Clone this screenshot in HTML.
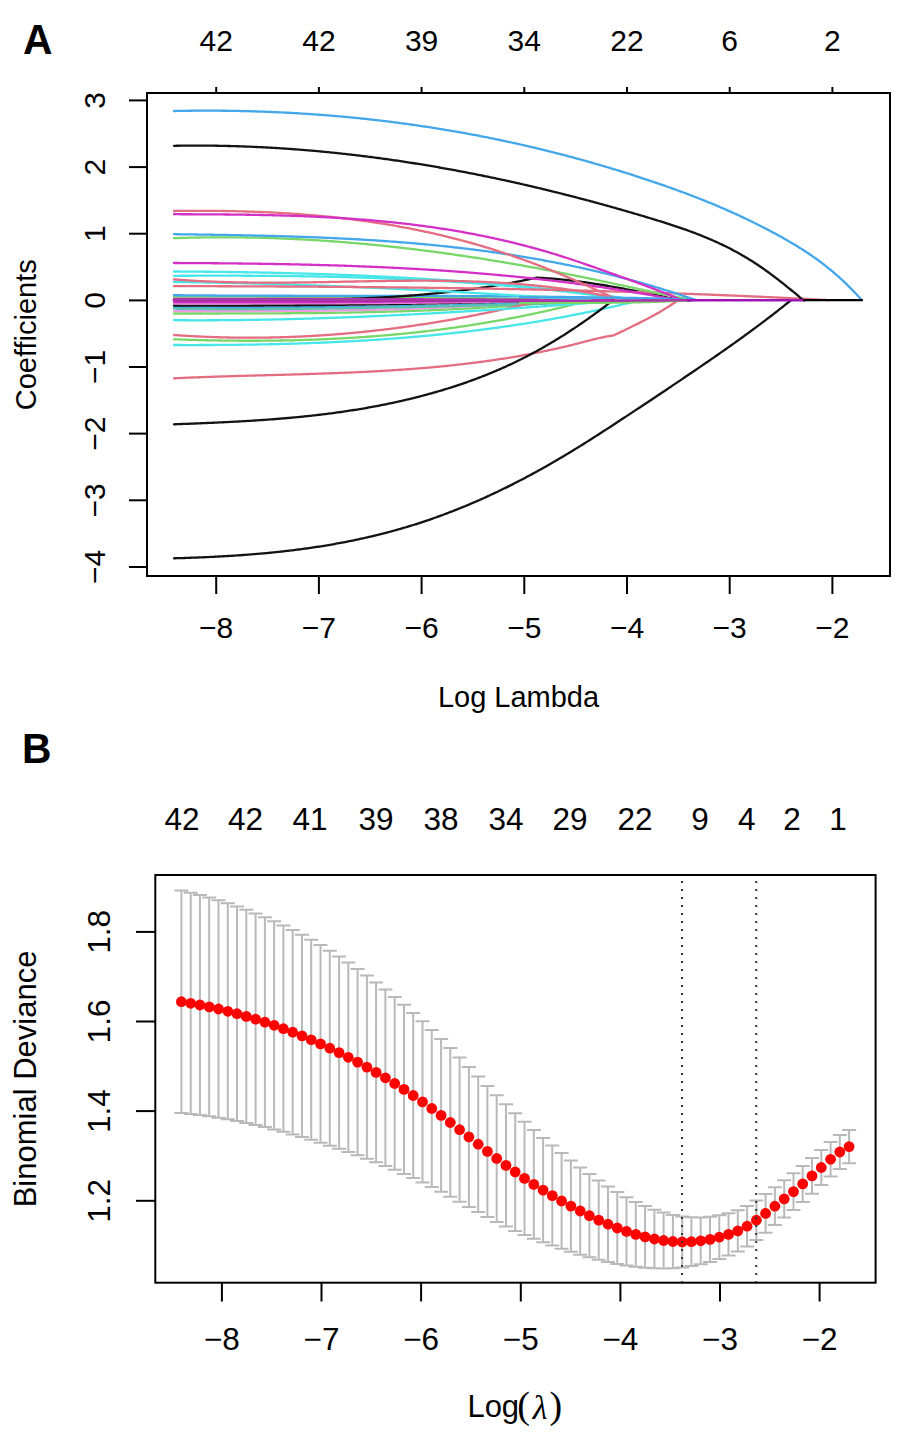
<!DOCTYPE html>
<html><head><meta charset="utf-8"><style>
html,body{margin:0;padding:0;background:#fff;}
svg{display:block;}
.t{font-family:"Liberation Sans",sans-serif;font-size:29px;fill:#000;}
.ta{font-family:"Liberation Sans",sans-serif;font-size:30px;fill:#000;}
.tb{font-family:"Liberation Sans",sans-serif;font-size:31.5px;fill:#000;}
.tb2{font-family:"Liberation Sans",sans-serif;font-size:31px;fill:#000;}
.sf{font-family:"Liberation Serif",serif;}
.big{font-family:"Liberation Sans",sans-serif;font-size:42.5px;font-weight:bold;fill:#000;}
</style></head><body>
<svg width="900" height="1435" viewBox="0 0 900 1435">
<rect width="900" height="1435" fill="#fff"/>
<g>
<g fill="none" stroke-linecap="round" stroke-linejoin="round">
<path d="M174.0,313.50 L175.5,313.50 L177.0,313.50 L178.5,313.50 L180.0,313.50 L181.5,313.50 L183.0,313.49 L184.5,313.49 L186.0,313.49 L187.5,313.49 L189.0,313.49 L190.5,313.49 L192.0,313.49 L193.5,313.49 L195.0,313.49 L196.5,313.49 L198.0,313.49 L199.5,313.49 L201.0,313.49 L202.5,313.49 L204.0,313.49 L205.5,313.49 L207.0,313.48 L208.5,313.48 L210.0,313.48 L211.5,313.48 L213.0,313.48 L214.5,313.48 L216.0,313.48 L217.5,313.48 L219.0,313.48 L220.5,313.47 L222.0,313.47 L223.5,313.47 L225.0,313.47 L226.5,313.47 L228.0,313.47 L229.5,313.46 L231.0,313.46 L232.5,313.46 L234.0,313.46 L235.5,313.46 L237.0,313.45 L238.5,313.45 L240.0,313.45 L241.5,313.44 L243.0,313.44 L244.5,313.44 L246.0,313.43 L247.5,313.43 L249.0,313.43 L250.5,313.42 L252.0,313.42 L253.5,313.41 L255.0,313.41 L256.5,313.41 L258.0,313.40 L259.5,313.40 L261.0,313.39 L262.5,313.38 L264.0,313.38 L265.5,313.37 L267.0,313.37 L268.5,313.36 L270.0,313.35 L271.5,313.35 L273.0,313.34 L274.5,313.33 L276.0,313.32 L277.5,313.31 L279.0,313.31 L280.5,313.30 L282.0,313.29 L283.5,313.28 L285.0,313.27 L286.5,313.26 L288.0,313.25 L289.5,313.24 L291.0,313.23 L292.5,313.22 L294.0,313.21 L295.5,313.20 L297.0,313.18 L298.5,313.17 L300.0,313.16 L301.5,313.15 L303.0,313.13 L304.5,313.12 L306.0,313.11 L307.5,313.09 L309.0,313.08 L310.5,313.06 L312.0,313.05 L313.5,313.03 L315.0,313.01 L316.5,313.00 L318.0,312.98 L319.5,312.96 L321.0,312.95 L322.5,312.93 L324.0,312.91 L325.5,312.89 L327.0,312.87 L328.5,312.85 L330.0,312.83 L331.5,312.81 L333.0,312.79 L334.5,312.77 L336.0,312.74 L337.5,312.72 L339.0,312.70 L340.5,312.68 L342.0,312.65 L343.5,312.63 L345.0,312.60 L346.5,312.58 L348.0,312.55 L349.5,312.52 L351.0,312.50 L352.5,312.47 L354.0,312.44 L355.5,312.41 L357.0,312.39 L358.5,312.36 L360.0,312.33 L361.5,312.30 L363.0,312.26 L364.5,312.23 L366.0,312.20 L367.5,312.17 L369.0,312.14 L370.5,312.10 L372.0,312.07 L373.5,312.03 L375.0,312.00 L376.5,311.96 L378.0,311.92 L379.5,311.89 L381.0,311.85 L382.5,311.81 L384.0,311.77 L385.5,311.73 L387.0,311.69 L388.5,311.65 L390.0,311.61 L391.5,311.57 L393.0,311.53 L394.5,311.48 L396.0,311.44 L397.5,311.39 L399.0,311.35 L400.5,311.30 L402.0,311.26 L403.5,311.21 L405.0,311.16 L406.5,311.11 L408.0,311.06 L409.5,311.01 L411.0,310.96 L412.5,310.91 L414.0,310.86 L415.5,310.81 L417.0,310.75 L418.5,310.70 L420.0,310.64 L421.5,310.59 L423.0,310.53 L424.5,310.47 L426.0,310.42 L427.5,310.36 L429.0,310.30 L430.5,310.24 L432.0,310.18 L433.5,310.12 L435.0,310.05 L436.5,309.99 L438.0,309.93 L439.5,309.86 L441.0,309.80 L442.5,309.73 L444.0,309.66 L445.5,309.59 L447.0,309.53 L448.5,309.46 L450.0,309.39 L451.5,309.32 L453.0,309.24 L454.5,309.17 L456.0,309.10 L457.5,309.02 L459.0,308.95 L460.5,308.87 L462.0,308.79 L463.5,308.72 L465.0,308.64 L466.5,308.56 L468.0,308.48 L469.5,308.40 L471.0,308.32 L472.5,308.23 L474.0,308.15 L475.5,308.06 L477.0,307.98 L478.5,307.89 L480.0,307.80 L481.5,307.72 L483.0,307.63 L484.5,307.54 L486.0,307.44 L487.5,307.35 L489.0,307.26 L490.5,307.16 L492.0,307.07 L493.5,306.97 L495.0,306.88 L496.5,306.78 L498.0,306.68 L499.5,306.58 L501.0,306.48 L502.5,306.38 L504.0,306.28 L505.5,306.17 L507.0,306.07 L508.5,305.96 L510.0,305.85 L511.5,305.75 L513.0,305.64 L514.5,305.53 L516.0,305.42 L517.5,305.31 L519.0,305.19 L520.5,305.08 L522.0,304.96 L523.5,304.85 L525.0,304.73 L526.5,304.61 L528.0,304.49 L529.5,304.37 L531.0,304.25 L532.5,304.13 L534.0,304.01 L535.5,303.88 L537.0,303.76 L538.5,303.63 L540.0,303.50 L541.5,303.37 L543.0,303.24 L544.5,303.11 L546.0,302.98 L547.5,302.85 L549.0,302.71 L550.5,302.58 L552.0,302.44 L553.5,302.30 L555.0,302.16 L556.5,302.02 L558.0,301.88 L559.5,301.74 L561.0,301.60 L562.5,301.45 L564.0,301.31 L565.5,301.16 L567.0,301.01 L568.5,300.86 L570.0,300.71 L571.5,300.56 L573.0,300.40 L574.5,300.25 L575.0,300.20" stroke="#79D769" stroke-width="2.30"/>
<path d="M174.0,311.20 L175.5,311.20 L177.0,311.19 L178.5,311.19 L180.0,311.19 L181.5,311.18 L183.0,311.18 L184.5,311.18 L186.0,311.18 L187.5,311.17 L189.0,311.17 L190.5,311.17 L192.0,311.17 L193.5,311.16 L195.0,311.16 L196.5,311.16 L198.0,311.16 L199.5,311.16 L201.0,311.15 L202.5,311.15 L204.0,311.15 L205.5,311.15 L207.0,311.15 L208.5,311.14 L210.0,311.14 L211.5,311.14 L213.0,311.14 L214.5,311.14 L216.0,311.14 L217.5,311.13 L219.0,311.13 L220.5,311.13 L222.0,311.13 L223.5,311.13 L225.0,311.12 L226.5,311.12 L228.0,311.12 L229.5,311.12 L231.0,311.12 L232.5,311.11 L234.0,311.11 L235.5,311.11 L237.0,311.11 L238.5,311.10 L240.0,311.10 L241.5,311.10 L243.0,311.09 L244.5,311.09 L246.0,311.09 L247.5,311.08 L249.0,311.08 L250.5,311.08 L252.0,311.07 L253.5,311.07 L255.0,311.07 L256.5,311.06 L258.0,311.06 L259.5,311.05 L261.0,311.05 L262.5,311.04 L264.0,311.04 L265.5,311.03 L267.0,311.03 L268.5,311.02 L270.0,311.01 L271.5,311.01 L273.0,311.00 L274.5,311.00 L276.0,310.99 L277.5,310.98 L279.0,310.97 L280.5,310.97 L282.0,310.96 L283.5,310.95 L285.0,310.94 L286.5,310.93 L288.0,310.92 L289.5,310.92 L291.0,310.91 L292.5,310.90 L294.0,310.89 L295.5,310.88 L297.0,310.87 L298.5,310.85 L300.0,310.84 L301.5,310.83 L303.0,310.82 L304.5,310.81 L306.0,310.79 L307.5,310.78 L309.0,310.77 L310.5,310.75 L312.0,310.74 L313.5,310.73 L315.0,310.71 L316.5,310.70 L318.0,310.68 L319.5,310.67 L321.0,310.65 L322.5,310.63 L324.0,310.61 L325.5,310.60 L327.0,310.58 L328.5,310.56 L330.0,310.54 L331.5,310.52 L333.0,310.50 L334.5,310.48 L336.0,310.46 L337.5,310.44 L339.0,310.42 L340.5,310.40 L342.0,310.38 L343.5,310.35 L345.0,310.33 L346.5,310.31 L348.0,310.28 L349.5,310.26 L351.0,310.23 L352.5,310.20 L354.0,310.18 L355.5,310.15 L357.0,310.12 L358.5,310.10 L360.0,310.07 L361.5,310.04 L363.0,310.01 L364.5,309.98 L366.0,309.95 L367.5,309.92 L369.0,309.88 L370.5,309.85 L372.0,309.82 L373.5,309.79 L375.0,309.75 L376.5,309.72 L378.0,309.68 L379.5,309.64 L381.0,309.61 L382.5,309.57 L384.0,309.53 L385.5,309.49 L387.0,309.46 L388.5,309.42 L390.0,309.37 L391.5,309.33 L393.0,309.29 L394.5,309.25 L396.0,309.21 L397.5,309.16 L399.0,309.12 L400.5,309.07 L402.0,309.03 L403.5,308.98 L405.0,308.93 L406.5,308.89 L408.0,308.84 L409.5,308.79 L411.0,308.74 L412.5,308.69 L414.0,308.63 L415.5,308.58 L417.0,308.53 L418.5,308.48 L420.0,308.42 L421.5,308.37 L423.0,308.31 L424.5,308.25 L426.0,308.20 L427.5,308.14 L429.0,308.08 L430.5,308.02 L432.0,307.96 L433.5,307.90 L435.0,307.83 L436.5,307.77 L438.0,307.71 L439.5,307.64 L441.0,307.57 L442.5,307.51 L444.0,307.44 L445.5,307.37 L447.0,307.30 L448.5,307.23 L450.0,307.16 L451.5,307.09 L453.0,307.02 L454.5,306.94 L456.0,306.87 L457.5,306.79 L459.0,306.72 L460.5,306.64 L462.0,306.56 L463.5,306.48 L465.0,306.40 L466.5,306.32 L468.0,306.24 L469.5,306.16 L471.0,306.08 L472.5,305.99 L474.0,305.91 L475.5,305.82 L477.0,305.73 L478.5,305.64 L480.0,305.55 L481.5,305.46 L483.0,305.37 L484.5,305.28 L486.0,305.19 L487.5,305.09 L489.0,305.00 L490.5,304.90 L492.0,304.80 L493.5,304.71 L495.0,304.61 L496.5,304.51 L498.0,304.40 L499.5,304.30 L501.0,304.20 L502.5,304.09 L504.0,303.99 L505.5,303.88 L507.0,303.77 L508.5,303.66 L510.0,303.55 L511.5,303.44 L513.0,303.33 L514.5,303.22 L516.0,303.10 L517.5,302.99 L519.0,302.87 L520.5,302.75 L522.0,302.63 L523.5,302.51 L525.0,302.39 L526.5,302.27 L528.0,302.15 L529.5,302.02 L531.0,301.90 L532.5,301.77 L534.0,301.64 L535.5,301.51 L537.0,301.38 L538.5,301.25 L540.0,301.12 L541.5,300.98 L543.0,300.85 L544.5,300.71 L546.0,300.57 L547.5,300.44 L549.0,300.30 L550.0,300.20" stroke="#E99CDE" stroke-width="2.30"/>
<path d="M174.0,307.20 L175.5,307.21 L177.0,307.21 L178.5,307.22 L180.0,307.23 L181.5,307.23 L183.0,307.24 L184.5,307.25 L186.0,307.25 L187.5,307.26 L189.0,307.27 L190.5,307.27 L192.0,307.28 L193.5,307.28 L195.0,307.29 L196.5,307.29 L198.0,307.30 L199.5,307.30 L201.0,307.31 L202.5,307.31 L204.0,307.32 L205.5,307.32 L207.0,307.33 L208.5,307.33 L210.0,307.33 L211.5,307.34 L213.0,307.34 L214.5,307.35 L216.0,307.35 L217.5,307.35 L219.0,307.36 L220.5,307.36 L222.0,307.36 L223.5,307.36 L225.0,307.37 L226.5,307.37 L228.0,307.37 L229.5,307.37 L231.0,307.37 L232.5,307.38 L234.0,307.38 L235.5,307.38 L237.0,307.38 L238.5,307.38 L240.0,307.38 L241.5,307.38 L243.0,307.38 L244.5,307.38 L246.0,307.38 L247.5,307.38 L249.0,307.38 L250.5,307.38 L252.0,307.38 L253.5,307.38 L255.0,307.38 L256.5,307.38 L258.0,307.38 L259.5,307.38 L261.0,307.37 L262.5,307.37 L264.0,307.37 L265.5,307.37 L267.0,307.37 L268.5,307.36 L270.0,307.36 L271.5,307.36 L273.0,307.35 L274.5,307.35 L276.0,307.35 L277.5,307.34 L279.0,307.34 L280.5,307.33 L282.0,307.33 L283.5,307.33 L285.0,307.32 L286.5,307.32 L288.0,307.31 L289.5,307.30 L291.0,307.30 L292.5,307.29 L294.0,307.29 L295.5,307.28 L297.0,307.27 L298.5,307.27 L300.0,307.26 L301.5,307.25 L303.0,307.25 L304.5,307.24 L306.0,307.23 L307.5,307.22 L309.0,307.21 L310.5,307.21 L312.0,307.20 L313.5,307.19 L315.0,307.18 L316.5,307.17 L318.0,307.16 L319.5,307.15 L321.0,307.14 L322.5,307.13 L324.0,307.12 L325.5,307.11 L327.0,307.10 L328.5,307.09 L330.0,307.08 L331.5,307.06 L333.0,307.05 L334.5,307.04 L336.0,307.03 L337.5,307.02 L339.0,307.00 L340.5,306.99 L342.0,306.98 L343.5,306.96 L345.0,306.95 L346.5,306.94 L348.0,306.92 L349.5,306.91 L351.0,306.89 L352.5,306.88 L354.0,306.86 L355.5,306.85 L357.0,306.83 L358.5,306.81 L360.0,306.80 L361.5,306.78 L363.0,306.77 L364.5,306.75 L366.0,306.73 L367.5,306.71 L369.0,306.70 L370.5,306.68 L372.0,306.66 L373.5,306.64 L375.0,306.62 L376.5,306.60 L378.0,306.58 L379.5,306.56 L381.0,306.54 L382.5,306.52 L384.0,306.50 L385.5,306.48 L387.0,306.46 L388.5,306.44 L390.0,306.42 L391.5,306.40 L393.0,306.37 L394.5,306.35 L396.0,306.33 L397.5,306.31 L399.0,306.28 L400.5,306.26 L402.0,306.24 L403.5,306.21 L405.0,306.19 L406.5,306.16 L408.0,306.14 L409.5,306.11 L411.0,306.09 L412.5,306.06 L414.0,306.04 L415.5,306.01 L417.0,305.98 L418.5,305.96 L420.0,305.93 L421.5,305.90 L423.0,305.87 L424.5,305.84 L426.0,305.82 L427.5,305.79 L429.0,305.76 L430.5,305.73 L432.0,305.70 L433.5,305.67 L435.0,305.64 L436.5,305.61 L438.0,305.58 L439.5,305.55 L441.0,305.51 L442.5,305.48 L444.0,305.45 L445.5,305.42 L447.0,305.39 L448.5,305.35 L450.0,305.32 L451.5,305.29 L453.0,305.25 L454.5,305.22 L456.0,305.18 L457.5,305.15 L459.0,305.11 L460.5,305.08 L462.0,305.04 L463.5,305.00 L465.0,304.97 L466.5,304.93 L468.0,304.89 L469.5,304.86 L471.0,304.82 L472.5,304.78 L474.0,304.74 L475.5,304.70 L477.0,304.66 L478.5,304.62 L480.0,304.58 L481.5,304.54 L483.0,304.50 L484.5,304.46 L486.0,304.42 L487.5,304.38 L489.0,304.34 L490.5,304.29 L492.0,304.25 L493.5,304.21 L495.0,304.16 L496.5,304.12 L498.0,304.08 L499.5,304.03 L501.0,303.99 L502.5,303.94 L504.0,303.90 L505.5,303.85 L507.0,303.80 L508.5,303.76 L510.0,303.71 L511.5,303.66 L513.0,303.62 L514.5,303.57 L516.0,303.52 L517.5,303.47 L519.0,303.42 L520.5,303.37 L522.0,303.32 L523.5,303.27 L525.0,303.22 L526.5,303.17 L528.0,303.12 L529.5,303.07 L531.0,303.02 L532.5,302.96 L534.0,302.91 L535.5,302.86 L537.0,302.80 L538.5,302.75 L540.0,302.70 L541.5,302.64 L543.0,302.59 L544.5,302.53 L546.0,302.47 L547.5,302.42 L549.0,302.36 L550.5,302.30 L552.0,302.25 L553.5,302.19 L555.0,302.13 L556.5,302.07 L558.0,302.01 L559.5,301.95 L561.0,301.89 L562.5,301.83 L564.0,301.77 L565.5,301.71 L567.0,301.65 L568.5,301.59 L570.0,301.53 L571.5,301.46 L573.0,301.40 L574.5,301.34 L576.0,301.27 L577.5,301.21 L579.0,301.15 L580.5,301.08 L582.0,301.02 L583.5,300.95 L585.0,300.88 L586.5,300.82 L588.0,300.75 L589.5,300.68 L591.0,300.62 L592.5,300.55 L594.0,300.48 L595.5,300.41 L597.0,300.34 L598.5,300.27 L600.0,300.20" stroke="#43A7EA" stroke-width="2.30"/>
<path d="M174.0,308.70 L175.5,308.72 L177.0,308.73 L178.5,308.75 L180.0,308.77 L181.5,308.78 L183.0,308.80 L184.5,308.81 L186.0,308.83 L187.5,308.84 L189.0,308.86 L190.5,308.87 L192.0,308.88 L193.5,308.89 L195.0,308.91 L196.5,308.92 L198.0,308.93 L199.5,308.94 L201.0,308.95 L202.5,308.96 L204.0,308.97 L205.5,308.98 L207.0,308.99 L208.5,308.99 L210.0,309.00 L211.5,309.01 L213.0,309.02 L214.5,309.02 L216.0,309.03 L217.5,309.03 L219.0,309.04 L220.5,309.05 L222.0,309.05 L223.5,309.05 L225.0,309.06 L226.5,309.06 L228.0,309.06 L229.5,309.07 L231.0,309.07 L232.5,309.07 L234.0,309.07 L235.5,309.07 L237.0,309.07 L238.5,309.07 L240.0,309.07 L241.5,309.07 L243.0,309.07 L244.5,309.07 L246.0,309.07 L247.5,309.07 L249.0,309.06 L250.5,309.06 L252.0,309.06 L253.5,309.06 L255.0,309.05 L256.5,309.05 L258.0,309.04 L259.5,309.04 L261.0,309.03 L262.5,309.03 L264.0,309.02 L265.5,309.01 L267.0,309.01 L268.5,309.00 L270.0,308.99 L271.5,308.99 L273.0,308.98 L274.5,308.97 L276.0,308.96 L277.5,308.95 L279.0,308.94 L280.5,308.93 L282.0,308.92 L283.5,308.91 L285.0,308.90 L286.5,308.89 L288.0,308.88 L289.5,308.87 L291.0,308.86 L292.5,308.84 L294.0,308.83 L295.5,308.82 L297.0,308.81 L298.5,308.79 L300.0,308.78 L301.5,308.77 L303.0,308.75 L304.5,308.74 L306.0,308.72 L307.5,308.71 L309.0,308.69 L310.5,308.68 L312.0,308.66 L313.5,308.64 L315.0,308.63 L316.5,308.61 L318.0,308.59 L319.5,308.57 L321.0,308.56 L322.5,308.54 L324.0,308.52 L325.5,308.50 L327.0,308.48 L328.5,308.46 L330.0,308.44 L331.5,308.42 L333.0,308.40 L334.5,308.38 L336.0,308.36 L337.5,308.34 L339.0,308.32 L340.5,308.30 L342.0,308.28 L343.5,308.26 L345.0,308.24 L346.5,308.21 L348.0,308.19 L349.5,308.17 L351.0,308.14 L352.5,308.12 L354.0,308.10 L355.5,308.07 L357.0,308.05 L358.5,308.03 L360.0,308.00 L361.5,307.98 L363.0,307.95 L364.5,307.93 L366.0,307.90 L367.5,307.88 L369.0,307.85 L370.5,307.82 L372.0,307.80 L373.5,307.77 L375.0,307.74 L376.5,307.72 L378.0,307.69 L379.5,307.66 L381.0,307.64 L382.5,307.61 L384.0,307.58 L385.5,307.55 L387.0,307.52 L388.5,307.50 L390.0,307.47 L391.5,307.44 L393.0,307.41 L394.5,307.38 L396.0,307.35 L397.5,307.32 L399.0,307.29 L400.5,307.26 L402.0,307.23 L403.5,307.20 L405.0,307.17 L406.5,307.14 L408.0,307.11 L409.5,307.08 L411.0,307.05 L412.5,307.01 L414.0,306.98 L415.5,306.95 L417.0,306.92 L418.5,306.89 L420.0,306.85 L421.5,306.82 L423.0,306.79 L424.5,306.76 L426.0,306.72 L427.5,306.69 L429.0,306.66 L430.5,306.62 L432.0,306.59 L433.5,306.56 L435.0,306.52 L436.5,306.49 L438.0,306.46 L439.5,306.42 L441.0,306.39 L442.5,306.35 L444.0,306.32 L445.5,306.28 L447.0,306.25 L448.5,306.21 L450.0,306.18 L451.5,306.14 L453.0,306.11 L454.5,306.07 L456.0,306.04 L457.5,306.00 L459.0,305.96 L460.5,305.93 L462.0,305.89 L463.5,305.86 L465.0,305.82 L466.5,305.78 L468.0,305.75 L469.5,305.71 L471.0,305.67 L472.5,305.64 L474.0,305.60 L475.5,305.56 L477.0,305.53 L478.5,305.49 L480.0,305.45 L481.5,305.42 L483.0,305.38 L484.5,305.34 L486.0,305.30 L487.5,305.26 L489.0,305.23 L490.5,305.19 L492.0,305.15 L493.5,305.11 L495.0,305.08 L496.5,305.04 L498.0,305.00 L499.5,304.96 L501.0,304.92 L502.5,304.88 L504.0,304.85 L505.5,304.81 L507.0,304.77 L508.5,304.73 L510.0,304.69 L511.5,304.65 L513.0,304.61 L514.5,304.58 L516.0,304.54 L517.5,304.50 L519.0,304.46 L520.5,304.42 L522.0,304.38 L523.5,304.34 L525.0,304.30 L526.5,304.26 L528.0,304.22 L529.5,304.19 L531.0,304.15 L532.5,304.11 L534.0,304.07 L535.5,304.03 L537.0,303.99 L538.5,303.95 L540.0,303.91 L541.5,303.87 L543.0,303.83 L544.5,303.79 L546.0,303.75 L547.5,303.71 L549.0,303.67 L550.5,303.64 L552.0,303.60 L553.5,303.56 L555.0,303.52 L556.5,303.48 L558.0,303.44 L559.5,303.40 L561.0,303.36 L562.5,303.32 L564.0,303.28 L565.5,303.24 L567.0,303.20 L568.5,303.16 L570.0,303.12 L571.5,303.08 L573.0,303.05 L574.5,303.01 L576.0,302.97 L577.5,302.93 L579.0,302.89 L580.5,302.85 L582.0,302.81 L583.5,302.77 L585.0,302.73 L586.5,302.69 L588.0,302.65 L589.5,302.62 L591.0,302.58 L592.5,302.54 L594.0,302.50 L595.5,302.46 L597.0,302.42 L598.5,302.38 L600.0,302.34 L601.5,302.31 L603.0,302.27 L604.5,302.23 L606.0,302.19 L607.5,302.15 L609.0,302.11 L610.5,302.08 L612.0,302.04 L613.5,302.00 L615.0,301.96 L616.5,301.92 L618.0,301.89 L619.5,301.85 L621.0,301.81 L622.5,301.77 L624.0,301.74 L625.5,301.70 L627.0,301.66 L628.5,301.63 L630.0,301.59 L631.5,301.55 L633.0,301.51 L634.5,301.48 L636.0,301.44 L637.5,301.40 L639.0,301.37 L640.5,301.33 L642.0,301.30 L643.5,301.26 L645.0,301.22 L646.5,301.19 L648.0,301.15 L649.5,301.12 L651.0,301.08 L652.5,301.04 L654.0,301.01 L655.5,300.97 L657.0,300.94 L658.5,300.90 L660.0,300.87 L661.5,300.83 L663.0,300.80 L664.5,300.76 L666.0,300.73 L667.5,300.70 L669.0,300.66 L670.5,300.63 L672.0,300.59 L673.5,300.56 L675.0,300.53 L676.5,300.49 L678.0,300.46 L679.5,300.43 L681.0,300.39 L682.5,300.36 L684.0,300.33 L685.5,300.30 L687.0,300.26 L688.5,300.23 L690.0,300.20" stroke="#59C3AE" stroke-width="2.30"/>
<path d="M174.0,305.50 L175.5,305.51 L177.0,305.51 L178.5,305.52 L180.0,305.52 L181.5,305.53 L183.0,305.54 L184.5,305.54 L186.0,305.55 L187.5,305.55 L189.0,305.55 L190.5,305.56 L192.0,305.56 L193.5,305.57 L195.0,305.57 L196.5,305.57 L198.0,305.58 L199.5,305.58 L201.0,305.58 L202.5,305.58 L204.0,305.58 L205.5,305.59 L207.0,305.59 L208.5,305.59 L210.0,305.59 L211.5,305.59 L213.0,305.59 L214.5,305.59 L216.0,305.59 L217.5,305.59 L219.0,305.59 L220.5,305.59 L222.0,305.59 L223.5,305.59 L225.0,305.59 L226.5,305.58 L228.0,305.58 L229.5,305.58 L231.0,305.58 L232.5,305.58 L234.0,305.57 L235.5,305.57 L237.0,305.57 L238.5,305.56 L240.0,305.56 L241.5,305.56 L243.0,305.55 L244.5,305.55 L246.0,305.54 L247.5,305.54 L249.0,305.53 L250.5,305.53 L252.0,305.52 L253.5,305.52 L255.0,305.51 L256.5,305.50 L258.0,305.50 L259.5,305.49 L261.0,305.48 L262.5,305.48 L264.0,305.47 L265.5,305.46 L267.0,305.45 L268.5,305.45 L270.0,305.44 L271.5,305.43 L273.0,305.42 L274.5,305.41 L276.0,305.40 L277.5,305.39 L279.0,305.38 L280.5,305.37 L282.0,305.36 L283.5,305.35 L285.0,305.34 L286.5,305.33 L288.0,305.32 L289.5,305.31 L291.0,305.30 L292.5,305.29 L294.0,305.28 L295.5,305.27 L297.0,305.25 L298.5,305.24 L300.0,305.23 L301.5,305.22 L303.0,305.20 L304.5,305.19 L306.0,305.18 L307.5,305.16 L309.0,305.15 L310.5,305.13 L312.0,305.12 L313.5,305.11 L315.0,305.09 L316.5,305.08 L318.0,305.06 L319.5,305.05 L321.0,305.03 L322.5,305.02 L324.0,305.00 L325.5,304.98 L327.0,304.97 L328.5,304.95 L330.0,304.93 L331.5,304.92 L333.0,304.90 L334.5,304.88 L336.0,304.86 L337.5,304.85 L339.0,304.83 L340.5,304.81 L342.0,304.79 L343.5,304.77 L345.0,304.76 L346.5,304.74 L348.0,304.72 L349.5,304.70 L351.0,304.68 L352.5,304.66 L354.0,304.64 L355.5,304.62 L357.0,304.60 L358.5,304.58 L360.0,304.56 L361.5,304.54 L363.0,304.52 L364.5,304.49 L366.0,304.47 L367.5,304.45 L369.0,304.43 L370.5,304.41 L372.0,304.38 L373.5,304.36 L375.0,304.34 L376.5,304.32 L378.0,304.29 L379.5,304.27 L381.0,304.25 L382.5,304.22 L384.0,304.20 L385.5,304.18 L387.0,304.15 L388.5,304.13 L390.0,304.10 L391.5,304.08 L393.0,304.05 L394.5,304.03 L396.0,304.00 L397.5,303.98 L399.0,303.95 L400.5,303.93 L402.0,303.90 L403.5,303.87 L405.0,303.85 L406.5,303.82 L408.0,303.79 L409.5,303.77 L411.0,303.74 L412.5,303.71 L414.0,303.68 L415.5,303.66 L417.0,303.63 L418.5,303.60 L420.0,303.57 L421.5,303.54 L423.0,303.52 L424.5,303.49 L426.0,303.46 L427.5,303.43 L429.0,303.40 L430.5,303.37 L432.0,303.34 L433.5,303.31 L435.0,303.28 L436.5,303.25 L438.0,303.22 L439.5,303.19 L441.0,303.16 L442.5,303.13 L444.0,303.10 L445.5,303.07 L447.0,303.03 L448.5,303.00 L450.0,302.97 L451.5,302.94 L453.0,302.91 L454.5,302.87 L456.0,302.84 L457.5,302.81 L459.0,302.78 L460.5,302.74 L462.0,302.71 L463.5,302.68 L465.0,302.64 L466.5,302.61 L468.0,302.58 L469.5,302.54 L471.0,302.51 L472.5,302.47 L474.0,302.44 L475.5,302.41 L477.0,302.37 L478.5,302.34 L480.0,302.30 L481.5,302.27 L483.0,302.23 L484.5,302.19 L486.0,302.16 L487.5,302.12 L489.0,302.09 L490.5,302.05 L492.0,302.01 L493.5,301.98 L495.0,301.94 L496.5,301.90 L498.0,301.87 L499.5,301.83 L501.0,301.79 L502.5,301.75 L504.0,301.72 L505.5,301.68 L507.0,301.64 L508.5,301.60 L510.0,301.56 L511.5,301.53 L513.0,301.49 L514.5,301.45 L516.0,301.41 L517.5,301.37 L519.0,301.33 L520.5,301.29 L522.0,301.25 L523.5,301.21 L525.0,301.17 L526.5,301.13 L528.0,301.09 L529.5,301.05 L531.0,301.01 L532.5,300.97 L534.0,300.93 L535.5,300.89 L537.0,300.85 L538.5,300.81 L540.0,300.77 L541.5,300.72 L543.0,300.68 L544.5,300.64 L546.0,300.60 L547.5,300.56 L549.0,300.51 L550.5,300.47 L552.0,300.43 L553.5,300.39 L555.0,300.34 L556.5,300.30 L558.0,300.26 L559.5,300.22 L560.0,300.20" stroke="#131313" stroke-width="2.30"/>
<path d="M174.0,303.50 L175.5,303.50 L177.0,303.50 L178.5,303.50 L180.0,303.50 L181.5,303.50 L183.0,303.50 L184.5,303.50 L186.0,303.50 L187.5,303.50 L189.0,303.50 L190.5,303.50 L192.0,303.50 L193.5,303.50 L195.0,303.50 L196.5,303.50 L198.0,303.49 L199.5,303.49 L201.0,303.49 L202.5,303.49 L204.0,303.49 L205.5,303.49 L207.0,303.49 L208.5,303.49 L210.0,303.49 L211.5,303.49 L213.0,303.49 L214.5,303.49 L216.0,303.49 L217.5,303.49 L219.0,303.49 L220.5,303.49 L222.0,303.49 L223.5,303.49 L225.0,303.49 L226.5,303.49 L228.0,303.49 L229.5,303.49 L231.0,303.48 L232.5,303.48 L234.0,303.48 L235.5,303.48 L237.0,303.48 L238.5,303.48 L240.0,303.48 L241.5,303.48 L243.0,303.48 L244.5,303.48 L246.0,303.48 L247.5,303.47 L249.0,303.47 L250.5,303.47 L252.0,303.47 L253.5,303.47 L255.0,303.47 L256.5,303.47 L258.0,303.46 L259.5,303.46 L261.0,303.46 L262.5,303.46 L264.0,303.46 L265.5,303.46 L267.0,303.45 L268.5,303.45 L270.0,303.45 L271.5,303.45 L273.0,303.45 L274.5,303.44 L276.0,303.44 L277.5,303.44 L279.0,303.44 L280.5,303.43 L282.0,303.43 L283.5,303.43 L285.0,303.43 L286.5,303.42 L288.0,303.42 L289.5,303.42 L291.0,303.41 L292.5,303.41 L294.0,303.41 L295.5,303.40 L297.0,303.40 L298.5,303.40 L300.0,303.39 L301.5,303.39 L303.0,303.39 L304.5,303.38 L306.0,303.38 L307.5,303.37 L309.0,303.37 L310.5,303.37 L312.0,303.36 L313.5,303.36 L315.0,303.35 L316.5,303.35 L318.0,303.34 L319.5,303.34 L321.0,303.33 L322.5,303.33 L324.0,303.32 L325.5,303.32 L327.0,303.31 L328.5,303.31 L330.0,303.30 L331.5,303.29 L333.0,303.29 L334.5,303.28 L336.0,303.28 L337.5,303.27 L339.0,303.26 L340.5,303.26 L342.0,303.25 L343.5,303.24 L345.0,303.24 L346.5,303.23 L348.0,303.22 L349.5,303.21 L351.0,303.21 L352.5,303.20 L354.0,303.19 L355.5,303.18 L357.0,303.17 L358.5,303.17 L360.0,303.16 L361.5,303.15 L363.0,303.14 L364.5,303.13 L366.0,303.12 L367.5,303.11 L369.0,303.10 L370.5,303.09 L372.0,303.08 L373.5,303.08 L375.0,303.07 L376.5,303.06 L378.0,303.04 L379.5,303.03 L381.0,303.02 L382.5,303.01 L384.0,303.00 L385.5,302.99 L387.0,302.98 L388.5,302.97 L390.0,302.96 L391.5,302.94 L393.0,302.93 L394.5,302.92 L396.0,302.91 L397.5,302.90 L399.0,302.88 L400.5,302.87 L402.0,302.86 L403.5,302.84 L405.0,302.83 L406.5,302.82 L408.0,302.80 L409.5,302.79 L411.0,302.78 L412.5,302.76 L414.0,302.75 L415.5,302.73 L417.0,302.72 L418.5,302.70 L420.0,302.69 L421.5,302.67 L423.0,302.66 L424.5,302.64 L426.0,302.62 L427.5,302.61 L429.0,302.59 L430.5,302.57 L432.0,302.56 L433.5,302.54 L435.0,302.52 L436.5,302.50 L438.0,302.49 L439.5,302.47 L441.0,302.45 L442.5,302.43 L444.0,302.41 L445.5,302.39 L447.0,302.38 L448.5,302.36 L450.0,302.34 L451.5,302.32 L453.0,302.30 L454.5,302.28 L456.0,302.26 L457.5,302.24 L459.0,302.21 L460.5,302.19 L462.0,302.17 L463.5,302.15 L465.0,302.13 L466.5,302.11 L468.0,302.08 L469.5,302.06 L471.0,302.04 L472.5,302.01 L474.0,301.99 L475.5,301.97 L477.0,301.94 L478.5,301.92 L480.0,301.90 L481.5,301.87 L483.0,301.85 L484.5,301.82 L486.0,301.80 L487.5,301.77 L489.0,301.74 L490.5,301.72 L492.0,301.69 L493.5,301.67 L495.0,301.64 L496.5,301.61 L498.0,301.58 L499.5,301.56 L501.0,301.53 L502.5,301.50 L504.0,301.47 L505.5,301.44 L507.0,301.41 L508.5,301.38 L510.0,301.35 L511.5,301.32 L513.0,301.29 L514.5,301.26 L516.0,301.23 L517.5,301.20 L519.0,301.17 L520.5,301.14 L522.0,301.11 L523.5,301.08 L525.0,301.04 L526.5,301.01 L528.0,300.98 L529.5,300.94 L531.0,300.91 L532.5,300.88 L534.0,300.84 L535.5,300.81 L537.0,300.77 L538.5,300.74 L540.0,300.70 L541.5,300.67 L543.0,300.63 L544.5,300.59 L546.0,300.56 L547.5,300.52 L549.0,300.48 L550.5,300.45 L552.0,300.41 L553.5,300.37 L555.0,300.33 L556.5,300.29 L558.0,300.25 L559.5,300.21 L560.0,300.20" stroke="#E585D7" stroke-width="2.30"/>
<path d="M174.0,296.60 L175.5,296.61 L177.0,296.61 L178.5,296.61 L180.0,296.62 L181.5,296.62 L183.0,296.63 L184.5,296.63 L186.0,296.64 L187.5,296.64 L189.0,296.64 L190.5,296.65 L192.0,296.65 L193.5,296.65 L195.0,296.66 L196.5,296.66 L198.0,296.66 L199.5,296.67 L201.0,296.67 L202.5,296.67 L204.0,296.68 L205.5,296.68 L207.0,296.68 L208.5,296.68 L210.0,296.68 L211.5,296.69 L213.0,296.69 L214.5,296.69 L216.0,296.69 L217.5,296.70 L219.0,296.70 L220.5,296.70 L222.0,296.70 L223.5,296.70 L225.0,296.70 L226.5,296.70 L228.0,296.71 L229.5,296.71 L231.0,296.71 L232.5,296.71 L234.0,296.71 L235.5,296.71 L237.0,296.71 L238.5,296.71 L240.0,296.72 L241.5,296.72 L243.0,296.72 L244.5,296.72 L246.0,296.72 L247.5,296.72 L249.0,296.72 L250.5,296.72 L252.0,296.72 L253.5,296.72 L255.0,296.72 L256.5,296.72 L258.0,296.73 L259.5,296.73 L261.0,296.73 L262.5,296.73 L264.0,296.73 L265.5,296.73 L267.0,296.73 L268.5,296.73 L270.0,296.73 L271.5,296.73 L273.0,296.73 L274.5,296.73 L276.0,296.73 L277.5,296.74 L279.0,296.74 L280.5,296.74 L282.0,296.74 L283.5,296.74 L285.0,296.74 L286.5,296.74 L288.0,296.74 L289.5,296.74 L291.0,296.74 L292.5,296.75 L294.0,296.75 L295.5,296.75 L297.0,296.75 L298.5,296.75 L300.0,296.75 L301.5,296.75 L303.0,296.76 L304.5,296.76 L306.0,296.76 L307.5,296.76 L309.0,296.76 L310.5,296.77 L312.0,296.77 L313.5,296.77 L315.0,296.77 L316.5,296.77 L318.0,296.78 L319.5,296.78 L321.0,296.78 L322.5,296.78 L324.0,296.79 L325.5,296.79 L327.0,296.79 L328.5,296.80 L330.0,296.80 L331.5,296.80 L333.0,296.81 L334.5,296.81 L336.0,296.81 L337.5,296.82 L339.0,296.82 L340.5,296.83 L342.0,296.83 L343.5,296.84 L345.0,296.84 L346.5,296.84 L348.0,296.85 L349.5,296.85 L351.0,296.86 L352.5,296.86 L354.0,296.87 L355.5,296.88 L357.0,296.88 L358.5,296.89 L360.0,296.89 L361.5,296.90 L363.0,296.91 L364.5,296.91 L366.0,296.92 L367.5,296.93 L369.0,296.93 L370.5,296.94 L372.0,296.95 L373.5,296.96 L375.0,296.96 L376.5,296.97 L378.0,296.98 L379.5,296.99 L381.0,297.00 L382.5,297.01 L384.0,297.02 L385.5,297.02 L387.0,297.03 L388.5,297.04 L390.0,297.05 L391.5,297.06 L393.0,297.07 L394.5,297.08 L396.0,297.10 L397.5,297.11 L399.0,297.12 L400.5,297.13 L402.0,297.14 L403.5,297.15 L405.0,297.16 L406.5,297.18 L408.0,297.19 L409.5,297.20 L411.0,297.22 L412.5,297.23 L414.0,297.24 L415.5,297.26 L417.0,297.27 L418.5,297.29 L420.0,297.30 L421.5,297.32 L423.0,297.33 L424.5,297.35 L426.0,297.36 L427.5,297.38 L429.0,297.39 L430.5,297.41 L432.0,297.43 L433.5,297.45 L435.0,297.46 L436.5,297.48 L438.0,297.50 L439.5,297.52 L441.0,297.54 L442.5,297.55 L444.0,297.57 L445.5,297.59 L447.0,297.61 L448.5,297.63 L450.0,297.65 L451.5,297.68 L453.0,297.70 L454.5,297.72 L456.0,297.74 L457.5,297.76 L459.0,297.78 L460.5,297.81 L462.0,297.83 L463.5,297.85 L465.0,297.88 L466.5,297.90 L468.0,297.93 L469.5,297.95 L471.0,297.98 L472.5,298.00 L474.0,298.03 L475.5,298.06 L477.0,298.08 L478.5,298.11 L480.0,298.14 L481.5,298.16 L483.0,298.19 L484.5,298.22 L486.0,298.25 L487.5,298.28 L489.0,298.31 L490.5,298.34 L492.0,298.37 L493.5,298.40 L495.0,298.43 L496.5,298.46 L498.0,298.50 L499.5,298.53 L501.0,298.56 L502.5,298.59 L504.0,298.63 L505.5,298.66 L507.0,298.70 L508.5,298.73 L510.0,298.77 L511.5,298.80 L513.0,298.84 L514.5,298.87 L516.0,298.91 L517.5,298.95 L519.0,298.99 L520.5,299.03 L522.0,299.06 L523.5,299.10 L525.0,299.14 L526.5,299.18 L528.0,299.22 L529.5,299.26 L531.0,299.31 L532.5,299.35 L534.0,299.39 L535.5,299.43 L537.0,299.48 L538.5,299.52 L540.0,299.56 L541.5,299.61 L543.0,299.65 L544.5,299.70 L546.0,299.75 L547.5,299.79 L549.0,299.84 L550.5,299.89 L552.0,299.94 L553.5,299.98 L555.0,300.03 L556.5,300.08 L558.0,300.13 L559.5,300.18 L560.0,300.20" stroke="#79D769" stroke-width="2.30"/>
<path d="M174.0,295.20 L175.5,295.21 L177.0,295.23 L178.5,295.24 L180.0,295.26 L181.5,295.27 L183.0,295.28 L184.5,295.29 L186.0,295.31 L187.5,295.32 L189.0,295.33 L190.5,295.34 L192.0,295.36 L193.5,295.37 L195.0,295.38 L196.5,295.39 L198.0,295.40 L199.5,295.41 L201.0,295.42 L202.5,295.43 L204.0,295.44 L205.5,295.45 L207.0,295.46 L208.5,295.47 L210.0,295.48 L211.5,295.49 L213.0,295.50 L214.5,295.51 L216.0,295.52 L217.5,295.53 L219.0,295.54 L220.5,295.54 L222.0,295.55 L223.5,295.56 L225.0,295.57 L226.5,295.58 L228.0,295.58 L229.5,295.59 L231.0,295.60 L232.5,295.60 L234.0,295.61 L235.5,295.62 L237.0,295.62 L238.5,295.63 L240.0,295.64 L241.5,295.64 L243.0,295.65 L244.5,295.65 L246.0,295.66 L247.5,295.66 L249.0,295.67 L250.5,295.68 L252.0,295.68 L253.5,295.68 L255.0,295.69 L256.5,295.69 L258.0,295.70 L259.5,295.70 L261.0,295.71 L262.5,295.71 L264.0,295.72 L265.5,295.72 L267.0,295.72 L268.5,295.73 L270.0,295.73 L271.5,295.73 L273.0,295.74 L274.5,295.74 L276.0,295.74 L277.5,295.75 L279.0,295.75 L280.5,295.75 L282.0,295.76 L283.5,295.76 L285.0,295.76 L286.5,295.76 L288.0,295.77 L289.5,295.77 L291.0,295.77 L292.5,295.77 L294.0,295.78 L295.5,295.78 L297.0,295.78 L298.5,295.78 L300.0,295.78 L301.5,295.79 L303.0,295.79 L304.5,295.79 L306.0,295.79 L307.5,295.79 L309.0,295.79 L310.5,295.80 L312.0,295.80 L313.5,295.80 L315.0,295.80 L316.5,295.80 L318.0,295.80 L319.5,295.80 L321.0,295.81 L322.5,295.81 L324.0,295.81 L325.5,295.81 L327.0,295.81 L328.5,295.81 L330.0,295.81 L331.5,295.81 L333.0,295.81 L334.5,295.82 L336.0,295.82 L337.5,295.82 L339.0,295.82 L340.5,295.82 L342.0,295.82 L343.5,295.82 L345.0,295.82 L346.5,295.82 L348.0,295.82 L349.5,295.82 L351.0,295.83 L352.5,295.83 L354.0,295.83 L355.5,295.83 L357.0,295.83 L358.5,295.83 L360.0,295.83 L361.5,295.83 L363.0,295.83 L364.5,295.83 L366.0,295.84 L367.5,295.84 L369.0,295.84 L370.5,295.84 L372.0,295.84 L373.5,295.84 L375.0,295.84 L376.5,295.84 L378.0,295.85 L379.5,295.85 L381.0,295.85 L382.5,295.85 L384.0,295.85 L385.5,295.85 L387.0,295.85 L388.5,295.86 L390.0,295.86 L391.5,295.86 L393.0,295.86 L394.5,295.86 L396.0,295.87 L397.5,295.87 L399.0,295.87 L400.5,295.87 L402.0,295.87 L403.5,295.88 L405.0,295.88 L406.5,295.88 L408.0,295.88 L409.5,295.89 L411.0,295.89 L412.5,295.89 L414.0,295.90 L415.5,295.90 L417.0,295.90 L418.5,295.90 L420.0,295.91 L421.5,295.91 L423.0,295.91 L424.5,295.92 L426.0,295.92 L427.5,295.93 L429.0,295.93 L430.5,295.93 L432.0,295.94 L433.5,295.94 L435.0,295.95 L436.5,295.95 L438.0,295.96 L439.5,295.96 L441.0,295.97 L442.5,295.97 L444.0,295.98 L445.5,295.98 L447.0,295.99 L448.5,295.99 L450.0,296.00 L451.5,296.00 L453.0,296.01 L454.5,296.02 L456.0,296.02 L457.5,296.03 L459.0,296.04 L460.5,296.04 L462.0,296.05 L463.5,296.06 L465.0,296.06 L466.5,296.07 L468.0,296.08 L469.5,296.09 L471.0,296.09 L472.5,296.10 L474.0,296.11 L475.5,296.12 L477.0,296.13 L478.5,296.14 L480.0,296.14 L481.5,296.15 L483.0,296.16 L484.5,296.17 L486.0,296.18 L487.5,296.19 L489.0,296.20 L490.5,296.21 L492.0,296.22 L493.5,296.23 L495.0,296.24 L496.5,296.25 L498.0,296.27 L499.5,296.28 L501.0,296.29 L502.5,296.30 L504.0,296.31 L505.5,296.33 L507.0,296.34 L508.5,296.35 L510.0,296.36 L511.5,296.38 L513.0,296.39 L514.5,296.40 L516.0,296.42 L517.5,296.43 L519.0,296.45 L520.5,296.46 L522.0,296.48 L523.5,296.49 L525.0,296.51 L526.5,296.52 L528.0,296.54 L529.5,296.55 L531.0,296.57 L532.5,296.59 L534.0,296.60 L535.5,296.62 L537.0,296.64 L538.5,296.65 L540.0,296.67 L541.5,296.69 L543.0,296.71 L544.5,296.73 L546.0,296.75 L547.5,296.76 L549.0,296.78 L550.5,296.80 L552.0,296.82 L553.5,296.84 L555.0,296.86 L556.5,296.89 L558.0,296.91 L559.5,296.93 L561.0,296.95 L562.5,296.97 L564.0,296.99 L565.5,297.02 L567.0,297.04 L568.5,297.06 L570.0,297.09 L571.5,297.11 L573.0,297.13 L574.5,297.16 L576.0,297.18 L577.5,297.21 L579.0,297.23 L580.5,297.26 L582.0,297.28 L583.5,297.31 L585.0,297.34 L586.5,297.36 L588.0,297.39 L589.5,297.42 L591.0,297.45 L592.5,297.48 L594.0,297.50 L595.5,297.53 L597.0,297.56 L598.5,297.59 L600.0,297.62 L601.5,297.65 L603.0,297.68 L604.5,297.71 L606.0,297.74 L607.5,297.78 L609.0,297.81 L610.5,297.84 L612.0,297.87 L613.5,297.91 L615.0,297.94 L616.5,297.97 L618.0,298.01 L619.5,298.04 L621.0,298.08 L622.5,298.11 L624.0,298.15 L625.5,298.18 L627.0,298.22 L628.5,298.26 L630.0,298.30 L631.5,298.33 L633.0,298.37 L634.5,298.41 L636.0,298.45 L637.5,298.49 L639.0,298.53 L640.5,298.57 L642.0,298.61 L643.5,298.65 L645.0,298.69 L646.5,298.73 L648.0,298.77 L649.5,298.81 L651.0,298.86 L652.5,298.90 L654.0,298.94 L655.5,298.99 L657.0,299.03 L658.5,299.08 L660.0,299.12 L661.5,299.17 L663.0,299.22 L664.5,299.26 L666.0,299.31 L667.5,299.36 L669.0,299.40 L670.5,299.45 L672.0,299.50 L673.5,299.55 L675.0,299.60 L676.5,299.65 L678.0,299.70 L679.5,299.75 L681.0,299.80 L682.5,299.86 L684.0,299.91 L685.5,299.96 L687.0,300.01 L688.5,300.07 L690.0,300.12 L691.5,300.18 L692.0,300.20" stroke="#43A7EA" stroke-width="2.30"/>
<path d="M174.0,300.30 L175.5,300.29 L177.0,300.28 L178.5,300.28 L180.0,300.27 L181.5,300.27 L183.0,300.26 L184.5,300.25 L186.0,300.25 L187.5,300.25 L189.0,300.24 L190.5,300.24 L192.0,300.23 L193.5,300.23 L195.0,300.23 L196.5,300.23 L198.0,300.22 L199.5,300.22 L201.0,300.22 L202.5,300.22 L204.0,300.22 L205.5,300.22 L207.0,300.22 L208.5,300.22 L210.0,300.22 L211.5,300.22 L213.0,300.22 L214.5,300.22 L216.0,300.22 L217.5,300.22 L219.0,300.22 L220.5,300.22 L222.0,300.22 L223.5,300.22 L225.0,300.22 L226.5,300.22 L228.0,300.22 L229.5,300.23 L231.0,300.23 L232.5,300.23 L234.0,300.23 L235.5,300.23 L237.0,300.23 L238.5,300.23 L240.0,300.23 L241.5,300.23 L243.0,300.23 L244.5,300.23 L246.0,300.23 L247.5,300.23 L249.0,300.23 L250.5,300.22 L252.0,300.22 L253.5,300.22 L255.0,300.22 L256.5,300.22 L258.0,300.21 L259.5,300.21 L261.0,300.21 L262.5,300.20 L264.0,300.20 L265.5,300.20 L267.0,300.19 L268.5,300.19 L270.0,300.18 L271.5,300.17 L273.0,300.17 L274.5,300.16 L276.0,300.15 L277.5,300.15 L279.0,300.14 L280.5,300.13 L282.0,300.12 L283.5,300.11 L285.0,300.10 L286.5,300.09 L288.0,300.07 L289.5,300.06 L291.0,300.05 L292.5,300.03 L294.0,300.02 L295.5,300.00 L297.0,299.99 L298.5,299.97 L300.0,299.95 L301.5,299.93 L303.0,299.91 L304.5,299.90 L306.0,299.87 L307.5,299.85 L309.0,299.83 L310.5,299.81 L312.0,299.78 L313.5,299.76 L315.0,299.73 L316.5,299.71 L318.0,299.68 L319.5,299.65 L321.0,299.62 L322.5,299.59 L324.0,299.56 L325.5,299.53 L327.0,299.49 L328.5,299.46 L330.0,299.42 L331.5,299.38 L333.0,299.35 L334.5,299.31 L336.0,299.27 L337.5,299.23 L339.0,299.19 L340.5,299.14 L342.0,299.10 L343.5,299.05 L345.0,299.00 L346.5,298.96 L348.0,298.91 L349.5,298.86 L351.0,298.80 L352.5,298.75 L354.0,298.70 L355.5,298.64 L357.0,298.58 L358.5,298.53 L360.0,298.47 L361.5,298.41 L363.0,298.34 L364.5,298.28 L366.0,298.21 L367.5,298.15 L369.0,298.08 L370.5,298.01 L372.0,297.94 L373.5,297.87 L375.0,297.79 L376.5,297.72 L378.0,297.64 L379.5,297.56 L381.0,297.48 L382.5,297.40 L384.0,297.31 L385.5,297.23 L387.0,297.14 L388.5,297.05 L390.0,296.96 L391.5,296.87 L393.0,296.78 L394.5,296.68 L396.0,296.59 L397.5,296.49 L399.0,296.39 L400.5,296.29 L402.0,296.18 L403.5,296.08 L405.0,295.97 L406.5,295.86 L408.0,295.75 L409.5,295.64 L411.0,295.52 L412.5,295.40 L414.0,295.29 L415.5,295.17 L417.0,295.04 L418.5,294.92 L420.0,294.79 L421.5,294.66 L423.0,294.53 L424.5,294.40 L426.0,294.27 L427.5,294.13 L429.0,293.99 L430.5,293.85 L432.0,293.71 L433.5,293.56 L435.0,293.42 L436.5,293.27 L438.0,293.12 L439.5,292.96 L441.0,292.81 L442.5,292.65 L444.0,292.49 L445.5,292.33 L447.0,292.17 L448.5,292.00 L450.0,291.83 L451.5,291.66 L453.0,291.49 L454.5,291.31 L456.0,291.13 L457.5,290.95 L459.0,290.77 L460.5,290.58 L462.0,290.40 L463.5,290.21 L465.0,290.01 L466.5,289.82 L468.0,289.62 L469.5,289.42 L471.0,289.22 L472.5,289.02 L474.0,288.81 L475.5,288.60 L477.0,288.39 L478.5,288.17 L480.0,287.95 L481.5,287.73 L483.0,287.51 L484.5,287.29 L486.0,287.06 L487.5,286.83 L489.0,286.59 L490.5,286.36 L492.0,286.12 L493.5,285.88 L495.0,285.64 L496.5,285.39 L498.0,285.14 L499.5,284.89 L501.0,284.63 L502.5,284.37 L504.0,284.11 L505.5,283.85 L507.0,283.58 L508.5,283.31 L510.0,283.04 L511.5,282.77 L513.0,282.49 L514.5,282.21 L516.0,281.93 L517.5,281.64 L519.0,281.35 L520.5,281.06 L522.0,280.76 L523.5,280.46 L525.0,280.16 L526.5,279.86 L528.0,279.55 L529.5,279.24 L531.0,278.92 L532.5,278.61 L534.0,278.29 L535.5,277.96 L536.7,277.70 L538.2,277.77 L539.7,277.84 L541.2,277.92 L542.7,278.00 L544.2,278.09 L545.7,278.18 L547.2,278.28 L548.7,278.38 L550.2,278.49 L551.7,278.60 L553.2,278.72 L554.7,278.85 L556.2,278.97 L557.7,279.11 L559.2,279.24 L560.7,279.39 L562.2,279.53 L563.7,279.68 L565.2,279.84 L566.7,280.00 L568.2,280.16 L569.7,280.33 L571.2,280.51 L572.7,280.68 L574.2,280.86 L575.7,281.05 L577.2,281.24 L578.7,281.43 L580.2,281.63 L581.7,281.83 L583.2,282.03 L584.7,282.24 L586.2,282.45 L587.7,282.67 L589.2,282.88 L590.7,283.11 L592.2,283.33 L593.7,283.56 L595.2,283.79 L596.7,284.03 L598.2,284.26 L599.7,284.51 L601.2,284.75 L602.7,285.00 L604.2,285.25 L605.7,285.50 L607.2,285.75 L608.7,286.01 L610.2,286.27 L611.7,286.54 L613.2,286.80 L614.7,287.07 L616.2,287.34 L617.7,287.61 L619.2,287.89 L620.7,288.17 L622.2,288.44 L623.7,288.73 L625.2,289.01 L626.7,289.29 L628.2,289.58 L629.7,289.87 L631.2,290.16 L632.7,290.45 L634.2,290.75 L635.7,291.04 L637.2,291.34 L638.7,291.64 L640.2,291.94 L641.7,292.24 L643.2,292.54 L644.7,292.85 L646.2,293.15 L647.7,293.46 L649.2,293.77 L650.7,294.08 L652.2,294.38 L653.7,294.69 L655.2,295.01 L656.7,295.32 L658.2,295.63 L659.7,295.94 L661.2,296.25 L662.7,296.57 L664.2,296.88 L665.7,297.20 L667.2,297.51 L668.7,297.83 L670.2,298.14 L671.7,298.46 L673.2,298.77 L674.7,299.09 L676.2,299.40 L677.7,299.72 L679.2,300.03 L680.0,300.20" stroke="#131313" stroke-width="2.30"/>
<path d="M174.0,302.00 L175.5,302.01 L177.0,302.02 L178.5,302.02 L180.0,302.03 L181.5,302.04 L183.0,302.04 L184.5,302.05 L186.0,302.06 L187.5,302.06 L189.0,302.07 L190.5,302.08 L192.0,302.08 L193.5,302.09 L195.0,302.09 L196.5,302.10 L198.0,302.10 L199.5,302.11 L201.0,302.11 L202.5,302.12 L204.0,302.12 L205.5,302.13 L207.0,302.13 L208.5,302.13 L210.0,302.14 L211.5,302.14 L213.0,302.15 L214.5,302.15 L216.0,302.15 L217.5,302.16 L219.0,302.16 L220.5,302.16 L222.0,302.16 L223.5,302.17 L225.0,302.17 L226.5,302.17 L228.0,302.17 L229.5,302.17 L231.0,302.18 L232.5,302.18 L234.0,302.18 L235.5,302.18 L237.0,302.18 L238.5,302.18 L240.0,302.18 L241.5,302.18 L243.0,302.18 L244.5,302.18 L246.0,302.18 L247.5,302.18 L249.0,302.18 L250.5,302.18 L252.0,302.18 L253.5,302.18 L255.0,302.18 L256.5,302.18 L258.0,302.18 L259.5,302.18 L261.0,302.18 L262.5,302.18 L264.0,302.18 L265.5,302.18 L267.0,302.17 L268.5,302.17 L270.0,302.17 L271.5,302.17 L273.0,302.17 L274.5,302.16 L276.0,302.16 L277.5,302.16 L279.0,302.16 L280.5,302.15 L282.0,302.15 L283.5,302.15 L285.0,302.14 L286.5,302.14 L288.0,302.14 L289.5,302.13 L291.0,302.13 L292.5,302.13 L294.0,302.12 L295.5,302.12 L297.0,302.12 L298.5,302.11 L300.0,302.11 L301.5,302.10 L303.0,302.10 L304.5,302.09 L306.0,302.09 L307.5,302.08 L309.0,302.08 L310.5,302.07 L312.0,302.07 L313.5,302.06 L315.0,302.06 L316.5,302.05 L318.0,302.05 L319.5,302.04 L321.0,302.04 L322.5,302.03 L324.0,302.02 L325.5,302.02 L327.0,302.01 L328.5,302.01 L330.0,302.00 L331.5,301.99 L333.0,301.99 L334.5,301.98 L336.0,301.97 L337.5,301.97 L339.0,301.96 L340.5,301.95 L342.0,301.95 L343.5,301.94 L345.0,301.93 L346.5,301.93 L348.0,301.92 L349.5,301.91 L351.0,301.90 L352.5,301.90 L354.0,301.89 L355.5,301.88 L357.0,301.87 L358.5,301.86 L360.0,301.86 L361.5,301.85 L363.0,301.84 L364.5,301.83 L366.0,301.82 L367.5,301.82 L369.0,301.81 L370.5,301.80 L372.0,301.79 L373.5,301.78 L375.0,301.77 L376.5,301.76 L378.0,301.76 L379.5,301.75 L381.0,301.74 L382.5,301.73 L384.0,301.72 L385.5,301.71 L387.0,301.70 L388.5,301.69 L390.0,301.68 L391.5,301.67 L393.0,301.66 L394.5,301.65 L396.0,301.65 L397.5,301.64 L399.0,301.63 L400.5,301.62 L402.0,301.61 L403.5,301.60 L405.0,301.59 L406.5,301.58 L408.0,301.57 L409.5,301.56 L411.0,301.55 L412.5,301.54 L414.0,301.53 L415.5,301.52 L417.0,301.51 L418.5,301.50 L420.0,301.49 L421.5,301.48 L423.0,301.47 L424.5,301.46 L426.0,301.44 L427.5,301.43 L429.0,301.42 L430.5,301.41 L432.0,301.40 L433.5,301.39 L435.0,301.38 L436.5,301.37 L438.0,301.36 L439.5,301.35 L441.0,301.34 L442.5,301.33 L444.0,301.32 L445.5,301.31 L447.0,301.30 L448.5,301.28 L450.0,301.27 L451.5,301.26 L453.0,301.25 L454.5,301.24 L456.0,301.23 L457.5,301.22 L459.0,301.21 L460.5,301.20 L462.0,301.19 L463.5,301.17 L465.0,301.16 L466.5,301.15 L468.0,301.14 L469.5,301.13 L471.0,301.12 L472.5,301.11 L474.0,301.10 L475.5,301.08 L477.0,301.07 L478.5,301.06 L480.0,301.05 L481.5,301.04 L483.0,301.03 L484.5,301.02 L486.0,301.01 L487.5,300.99 L489.0,300.98 L490.5,300.97 L492.0,300.96 L493.5,300.95 L495.0,300.94 L496.5,300.93 L498.0,300.92 L499.5,300.90 L501.0,300.89 L502.5,300.88 L504.0,300.87 L505.5,300.86 L507.0,300.85 L508.5,300.84 L510.0,300.83 L511.5,300.81 L513.0,300.80 L514.5,300.79 L516.0,300.78 L517.5,300.77 L519.0,300.76 L520.5,300.75 L522.0,300.74 L523.5,300.72 L525.0,300.71 L526.5,300.70 L528.0,300.69 L529.5,300.68 L531.0,300.67 L532.5,300.66 L534.0,300.65 L535.5,300.64 L537.0,300.63 L538.5,300.61 L540.0,300.60 L541.5,300.59 L543.0,300.58 L544.5,300.57 L546.0,300.56 L547.5,300.55 L549.0,300.54 L550.5,300.53 L552.0,300.52 L553.5,300.51 L555.0,300.50 L556.5,300.49 L558.0,300.48 L559.5,300.47 L561.0,300.45 L562.5,300.44 L564.0,300.43 L565.5,300.42 L567.0,300.41 L568.5,300.40 L570.0,300.39 L571.5,300.38 L573.0,300.37 L574.5,300.36 L576.0,300.35 L577.5,300.34 L579.0,300.33 L580.5,300.32 L582.0,300.31 L583.5,300.30 L585.0,300.29 L586.5,300.28 L588.0,300.27 L589.5,300.27 L591.0,300.26 L592.5,300.25 L594.0,300.24 L595.5,300.23 L597.0,300.22 L598.5,300.21 L600.0,300.20" stroke="#D430C6" stroke-width="2.30"/>
<path d="M174.0,300.40 L175.5,300.40 L177.0,300.40 L178.5,300.40 L180.0,300.40 L181.5,300.41 L183.0,300.41 L184.5,300.41 L186.0,300.41 L187.5,300.41 L189.0,300.41 L190.5,300.41 L192.0,300.41 L193.5,300.41 L195.0,300.41 L196.5,300.42 L198.0,300.42 L199.5,300.42 L201.0,300.42 L202.5,300.42 L204.0,300.42 L205.5,300.42 L207.0,300.42 L208.5,300.42 L210.0,300.43 L211.5,300.43 L213.0,300.43 L214.5,300.43 L216.0,300.43 L217.5,300.43 L219.0,300.43 L220.5,300.43 L222.0,300.43 L223.5,300.44 L225.0,300.44 L226.5,300.44 L228.0,300.44 L229.5,300.44 L231.0,300.44 L232.5,300.44 L234.0,300.44 L235.5,300.44 L237.0,300.45 L238.5,300.45 L240.0,300.45 L241.5,300.45 L243.0,300.45 L244.5,300.45 L246.0,300.45 L247.5,300.45 L249.0,300.45 L250.5,300.45 L252.0,300.46 L253.5,300.46 L255.0,300.46 L256.5,300.46 L258.0,300.46 L259.5,300.46 L261.0,300.46 L262.5,300.46 L264.0,300.46 L265.5,300.47 L267.0,300.47 L268.5,300.47 L270.0,300.47 L271.5,300.47 L273.0,300.47 L274.5,300.47 L276.0,300.47 L277.5,300.47 L279.0,300.47 L280.5,300.47 L282.0,300.48 L283.5,300.48 L285.0,300.48 L286.5,300.48 L288.0,300.48 L289.5,300.48 L291.0,300.48 L292.5,300.48 L294.0,300.48 L295.5,300.48 L297.0,300.49 L298.5,300.49 L300.0,300.49 L301.5,300.49 L303.0,300.49 L304.5,300.49 L306.0,300.49 L307.5,300.49 L309.0,300.49 L310.5,300.49 L312.0,300.49 L313.5,300.49 L315.0,300.50 L316.5,300.50 L318.0,300.50 L319.5,300.50 L321.0,300.50 L322.5,300.50 L324.0,300.50 L325.5,300.50 L327.0,300.50 L328.5,300.50 L330.0,300.50 L331.5,300.50 L333.0,300.50 L334.5,300.51 L336.0,300.51 L337.5,300.51 L339.0,300.51 L340.5,300.51 L342.0,300.51 L343.5,300.51 L345.0,300.51 L346.5,300.51 L348.0,300.51 L349.5,300.51 L351.0,300.51 L352.5,300.51 L354.0,300.51 L355.5,300.51 L357.0,300.52 L358.5,300.52 L360.0,300.52 L361.5,300.52 L363.0,300.52 L364.5,300.52 L366.0,300.52 L367.5,300.52 L369.0,300.52 L370.5,300.52 L372.0,300.52 L373.5,300.52 L375.0,300.52 L376.5,300.52 L378.0,300.52 L379.5,300.52 L381.0,300.52 L382.5,300.52 L384.0,300.52 L385.5,300.52 L387.0,300.52 L388.5,300.52 L390.0,300.53 L391.5,300.53 L393.0,300.53 L394.5,300.53 L396.0,300.53 L397.5,300.53 L399.0,300.53 L400.5,300.53 L402.0,300.53 L403.5,300.53 L405.0,300.53 L406.5,300.53 L408.0,300.53 L409.5,300.53 L411.0,300.53 L412.5,300.53 L414.0,300.53 L415.5,300.53 L417.0,300.53 L418.5,300.53 L420.0,300.53 L421.5,300.53 L423.0,300.53 L424.5,300.53 L426.0,300.53 L427.5,300.53 L429.0,300.53 L430.5,300.53 L432.0,300.53 L433.5,300.53 L435.0,300.53 L436.5,300.53 L438.0,300.53 L439.5,300.53 L441.0,300.53 L442.5,300.53 L444.0,300.53 L445.5,300.53 L447.0,300.53 L448.5,300.53 L450.0,300.53 L451.5,300.53 L453.0,300.53 L454.5,300.53 L456.0,300.53 L457.5,300.53 L459.0,300.52 L460.5,300.52 L462.0,300.52 L463.5,300.52 L465.0,300.52 L466.5,300.52 L468.0,300.52 L469.5,300.52 L471.0,300.52 L472.5,300.52 L474.0,300.52 L475.5,300.52 L477.0,300.52 L478.5,300.52 L480.0,300.52 L481.5,300.52 L483.0,300.52 L484.5,300.52 L486.0,300.52 L487.5,300.51 L489.0,300.51 L490.5,300.51 L492.0,300.51 L493.5,300.51 L495.0,300.51 L496.5,300.51 L498.0,300.51 L499.5,300.51 L501.0,300.51 L502.5,300.51 L504.0,300.51 L505.5,300.50 L507.0,300.50 L508.5,300.50 L510.0,300.50 L511.5,300.50 L513.0,300.50 L514.5,300.50 L516.0,300.50 L517.5,300.50 L519.0,300.50 L520.5,300.49 L522.0,300.49 L523.5,300.49 L525.0,300.49 L526.5,300.49 L528.0,300.49 L529.5,300.49 L531.0,300.49 L532.5,300.48 L534.0,300.48 L535.5,300.48 L537.0,300.48 L538.5,300.48 L540.0,300.48 L541.5,300.48 L543.0,300.47 L544.5,300.47 L546.0,300.47 L547.5,300.47 L549.0,300.47 L550.5,300.47 L552.0,300.46 L553.5,300.46 L555.0,300.46 L556.5,300.46 L558.0,300.46 L559.5,300.46 L561.0,300.45 L562.5,300.45 L564.0,300.45 L565.5,300.45 L567.0,300.45 L568.5,300.45 L570.0,300.44 L571.5,300.44 L573.0,300.44 L574.5,300.44 L576.0,300.44 L577.5,300.43 L579.0,300.43 L580.5,300.43 L582.0,300.43 L583.5,300.42 L585.0,300.42 L586.5,300.42 L588.0,300.42 L589.5,300.42 L591.0,300.41 L592.5,300.41 L594.0,300.41 L595.5,300.41 L597.0,300.40 L598.5,300.40 L600.0,300.40 L601.5,300.40 L603.0,300.39 L604.5,300.39 L606.0,300.39 L607.5,300.39 L609.0,300.38 L610.5,300.38 L612.0,300.38 L613.5,300.38 L615.0,300.37 L616.5,300.37 L618.0,300.37 L619.5,300.37 L621.0,300.36 L622.5,300.36 L624.0,300.36 L625.5,300.35 L627.0,300.35 L628.5,300.35 L630.0,300.34 L631.5,300.34 L633.0,300.34 L634.5,300.34 L636.0,300.33 L637.5,300.33 L639.0,300.33 L640.5,300.32 L642.0,300.32 L643.5,300.32 L645.0,300.31 L646.5,300.31 L648.0,300.31 L649.5,300.30 L651.0,300.30 L652.5,300.30 L654.0,300.29 L655.5,300.29 L657.0,300.29 L658.5,300.28 L660.0,300.28 L661.5,300.28 L663.0,300.27 L664.5,300.27 L666.0,300.26 L667.5,300.26 L669.0,300.26 L670.5,300.25 L672.0,300.25 L673.5,300.24 L675.0,300.24 L676.5,300.24 L678.0,300.23 L679.5,300.23 L681.0,300.22 L682.5,300.22 L684.0,300.22 L685.5,300.21 L687.0,300.21 L688.5,300.20 L690.0,300.20" stroke="#A92F9C" stroke-width="2.76"/>
<path d="M174.0,298.90 L175.5,298.90 L177.0,298.90 L178.5,298.90 L180.0,298.90 L181.5,298.90 L183.0,298.90 L184.5,298.90 L186.0,298.90 L187.5,298.90 L189.0,298.90 L190.5,298.90 L192.0,298.90 L193.5,298.90 L195.0,298.90 L196.5,298.90 L198.0,298.90 L199.5,298.90 L201.0,298.90 L202.5,298.90 L204.0,298.90 L205.5,298.90 L207.0,298.90 L208.5,298.90 L210.0,298.90 L211.5,298.91 L213.0,298.91 L214.5,298.91 L216.0,298.91 L217.5,298.91 L219.0,298.91 L220.5,298.91 L222.0,298.91 L223.5,298.91 L225.0,298.91 L226.5,298.91 L228.0,298.92 L229.5,298.92 L231.0,298.92 L232.5,298.92 L234.0,298.92 L235.5,298.92 L237.0,298.92 L238.5,298.93 L240.0,298.93 L241.5,298.93 L243.0,298.93 L244.5,298.93 L246.0,298.93 L247.5,298.94 L249.0,298.94 L250.5,298.94 L252.0,298.94 L253.5,298.94 L255.0,298.94 L256.5,298.95 L258.0,298.95 L259.5,298.95 L261.0,298.95 L262.5,298.95 L264.0,298.96 L265.5,298.96 L267.0,298.96 L268.5,298.96 L270.0,298.97 L271.5,298.97 L273.0,298.97 L274.5,298.97 L276.0,298.98 L277.5,298.98 L279.0,298.98 L280.5,298.98 L282.0,298.99 L283.5,298.99 L285.0,298.99 L286.5,298.99 L288.0,299.00 L289.5,299.00 L291.0,299.00 L292.5,299.00 L294.0,299.01 L295.5,299.01 L297.0,299.01 L298.5,299.02 L300.0,299.02 L301.5,299.02 L303.0,299.03 L304.5,299.03 L306.0,299.03 L307.5,299.04 L309.0,299.04 L310.5,299.04 L312.0,299.05 L313.5,299.05 L315.0,299.05 L316.5,299.06 L318.0,299.06 L319.5,299.06 L321.0,299.07 L322.5,299.07 L324.0,299.07 L325.5,299.08 L327.0,299.08 L328.5,299.08 L330.0,299.09 L331.5,299.09 L333.0,299.10 L334.5,299.10 L336.0,299.10 L337.5,299.11 L339.0,299.11 L340.5,299.12 L342.0,299.12 L343.5,299.12 L345.0,299.13 L346.5,299.13 L348.0,299.14 L349.5,299.14 L351.0,299.14 L352.5,299.15 L354.0,299.15 L355.5,299.16 L357.0,299.16 L358.5,299.17 L360.0,299.17 L361.5,299.17 L363.0,299.18 L364.5,299.18 L366.0,299.19 L367.5,299.19 L369.0,299.20 L370.5,299.20 L372.0,299.21 L373.5,299.21 L375.0,299.22 L376.5,299.22 L378.0,299.22 L379.5,299.23 L381.0,299.23 L382.5,299.24 L384.0,299.24 L385.5,299.25 L387.0,299.25 L388.5,299.26 L390.0,299.26 L391.5,299.27 L393.0,299.27 L394.5,299.28 L396.0,299.28 L397.5,299.29 L399.0,299.29 L400.5,299.30 L402.0,299.31 L403.5,299.31 L405.0,299.32 L406.5,299.32 L408.0,299.33 L409.5,299.33 L411.0,299.34 L412.5,299.34 L414.0,299.35 L415.5,299.35 L417.0,299.36 L418.5,299.36 L420.0,299.37 L421.5,299.38 L423.0,299.38 L424.5,299.39 L426.0,299.39 L427.5,299.40 L429.0,299.40 L430.5,299.41 L432.0,299.42 L433.5,299.42 L435.0,299.43 L436.5,299.43 L438.0,299.44 L439.5,299.44 L441.0,299.45 L442.5,299.46 L444.0,299.46 L445.5,299.47 L447.0,299.47 L448.5,299.48 L450.0,299.49 L451.5,299.49 L453.0,299.50 L454.5,299.50 L456.0,299.51 L457.5,299.52 L459.0,299.52 L460.5,299.53 L462.0,299.54 L463.5,299.54 L465.0,299.55 L466.5,299.55 L468.0,299.56 L469.5,299.57 L471.0,299.57 L472.5,299.58 L474.0,299.59 L475.5,299.59 L477.0,299.60 L478.5,299.61 L480.0,299.61 L481.5,299.62 L483.0,299.63 L484.5,299.63 L486.0,299.64 L487.5,299.65 L489.0,299.65 L490.5,299.66 L492.0,299.67 L493.5,299.67 L495.0,299.68 L496.5,299.69 L498.0,299.69 L499.5,299.70 L501.0,299.71 L502.5,299.71 L504.0,299.72 L505.5,299.73 L507.0,299.73 L508.5,299.74 L510.0,299.75 L511.5,299.76 L513.0,299.76 L514.5,299.77 L516.0,299.78 L517.5,299.78 L519.0,299.79 L520.5,299.80 L522.0,299.81 L523.5,299.81 L525.0,299.82 L526.5,299.83 L528.0,299.83 L529.5,299.84 L531.0,299.85 L532.5,299.86 L534.0,299.86 L535.5,299.87 L537.0,299.88 L538.5,299.88 L540.0,299.89 L541.5,299.90 L543.0,299.91 L544.5,299.91 L546.0,299.92 L547.5,299.93 L549.0,299.94 L550.5,299.94 L552.0,299.95 L553.5,299.96 L555.0,299.97 L556.5,299.97 L558.0,299.98 L559.5,299.99 L561.0,300.00 L562.5,300.00 L564.0,300.01 L565.5,300.02 L567.0,300.03 L568.5,300.04 L570.0,300.04 L571.5,300.05 L573.0,300.06 L574.5,300.07 L576.0,300.07 L577.5,300.08 L579.0,300.09 L580.5,300.10 L582.0,300.11 L583.5,300.11 L585.0,300.12 L586.5,300.13 L588.0,300.14 L589.5,300.14 L591.0,300.15 L592.5,300.16 L594.0,300.17 L595.5,300.18 L597.0,300.18 L598.5,300.19 L600.0,300.20" stroke="#AE34A9" stroke-width="2.53"/>
<path d="M174.0,282.00 L175.5,282.02 L177.0,282.03 L178.5,282.05 L180.0,282.07 L181.5,282.09 L183.0,282.11 L184.5,282.13 L186.0,282.15 L187.5,282.17 L189.0,282.19 L190.5,282.21 L192.0,282.24 L193.5,282.26 L195.0,282.28 L196.5,282.31 L198.0,282.33 L199.5,282.35 L201.0,282.38 L202.5,282.40 L204.0,282.43 L205.5,282.46 L207.0,282.48 L208.5,282.51 L210.0,282.54 L211.5,282.56 L213.0,282.59 L214.5,282.62 L216.0,282.65 L217.5,282.68 L219.0,282.71 L220.5,282.74 L222.0,282.77 L223.5,282.80 L225.0,282.83 L226.5,282.86 L228.0,282.90 L229.5,282.93 L231.0,282.96 L232.5,283.00 L234.0,283.03 L235.5,283.06 L237.0,283.10 L238.5,283.13 L240.0,283.17 L241.5,283.21 L243.0,283.24 L244.5,283.28 L246.0,283.32 L247.5,283.35 L249.0,283.39 L250.5,283.43 L252.0,283.47 L253.5,283.51 L255.0,283.55 L256.5,283.59 L258.0,283.63 L259.5,283.67 L261.0,283.71 L262.5,283.75 L264.0,283.79 L265.5,283.84 L267.0,283.88 L268.5,283.92 L270.0,283.96 L271.5,284.01 L273.0,284.05 L274.5,284.10 L276.0,284.14 L277.5,284.19 L279.0,284.23 L280.5,284.28 L282.0,284.33 L283.5,284.37 L285.0,284.42 L286.5,284.47 L288.0,284.51 L289.5,284.56 L291.0,284.61 L292.5,284.66 L294.0,284.71 L295.5,284.76 L297.0,284.81 L298.5,284.86 L300.0,284.91 L301.5,284.96 L303.0,285.01 L304.5,285.07 L306.0,285.12 L307.5,285.17 L309.0,285.22 L310.5,285.28 L312.0,285.33 L313.5,285.38 L315.0,285.44 L316.5,285.49 L318.0,285.55 L319.5,285.60 L321.0,285.66 L322.5,285.71 L324.0,285.77 L325.5,285.83 L327.0,285.88 L328.5,285.94 L330.0,286.00 L331.5,286.06 L333.0,286.12 L334.5,286.18 L336.0,286.23 L337.5,286.29 L339.0,286.35 L340.5,286.41 L342.0,286.47 L343.5,286.53 L345.0,286.60 L346.5,286.66 L348.0,286.72 L349.5,286.78 L351.0,286.84 L352.5,286.91 L354.0,286.97 L355.5,287.03 L357.0,287.10 L358.5,287.16 L360.0,287.22 L361.5,287.29 L363.0,287.35 L364.5,287.42 L366.0,287.48 L367.5,287.55 L369.0,287.62 L370.5,287.68 L372.0,287.75 L373.5,287.82 L375.0,287.88 L376.5,287.95 L378.0,288.02 L379.5,288.09 L381.0,288.16 L382.5,288.23 L384.0,288.30 L385.5,288.37 L387.0,288.43 L388.5,288.51 L390.0,288.58 L391.5,288.65 L393.0,288.72 L394.5,288.79 L396.0,288.86 L397.5,288.93 L399.0,289.00 L400.5,289.08 L402.0,289.15 L403.5,289.22 L405.0,289.30 L406.5,289.37 L408.0,289.44 L409.5,289.52 L411.0,289.59 L412.5,289.67 L414.0,289.74 L415.5,289.82 L417.0,289.89 L418.5,289.97 L420.0,290.04 L421.5,290.12 L423.0,290.20 L424.5,290.27 L426.0,290.35 L427.5,290.43 L429.0,290.51 L430.5,290.59 L432.0,290.66 L433.5,290.74 L435.0,290.82 L436.5,290.90 L438.0,290.98 L439.5,291.06 L441.0,291.14 L442.5,291.22 L444.0,291.30 L445.5,291.38 L447.0,291.46 L448.5,291.54 L450.0,291.62 L451.5,291.71 L453.0,291.79 L454.5,291.87 L456.0,291.95 L457.5,292.03 L459.0,292.12 L460.5,292.20 L462.0,292.28 L463.5,292.37 L465.0,292.45 L466.5,292.54 L468.0,292.62 L469.5,292.70 L471.0,292.79 L472.5,292.87 L474.0,292.96 L475.5,293.05 L477.0,293.13 L478.5,293.22 L480.0,293.30 L481.5,293.39 L483.0,293.48 L484.5,293.56 L486.0,293.65 L487.5,293.74 L489.0,293.83 L490.5,293.91 L492.0,294.00 L493.5,294.09 L495.0,294.18 L496.5,294.27 L498.0,294.36 L499.5,294.45 L501.0,294.54 L502.5,294.63 L504.0,294.72 L505.5,294.81 L507.0,294.90 L508.5,294.99 L510.0,295.08 L511.5,295.17 L513.0,295.26 L514.5,295.35 L516.0,295.44 L517.5,295.53 L519.0,295.63 L520.5,295.72 L522.0,295.81 L523.5,295.90 L525.0,296.00 L526.5,296.09 L528.0,296.18 L529.5,296.28 L531.0,296.37 L532.5,296.46 L534.0,296.56 L535.5,296.65 L537.0,296.75 L538.5,296.84 L540.0,296.94 L541.5,297.03 L543.0,297.13 L544.5,297.22 L546.0,297.32 L547.5,297.41 L549.0,297.51 L550.5,297.60 L552.0,297.70 L553.5,297.80 L555.0,297.89 L556.5,297.99 L558.0,298.09 L559.5,298.18 L561.0,298.28 L562.5,298.38 L564.0,298.48 L565.5,298.57 L567.0,298.67 L568.5,298.77 L570.0,298.87 L571.5,298.97 L573.0,299.07 L574.5,299.17 L576.0,299.26 L577.5,299.36 L579.0,299.46 L580.5,299.56 L582.0,299.66 L583.5,299.76 L585.0,299.86 L586.5,299.96 L588.0,300.06 L589.5,300.16 L590.0,300.20" stroke="#48E6E9" stroke-width="2.30"/>
<path d="M174.0,275.80 L175.5,275.79 L177.0,275.79 L178.5,275.78 L180.0,275.78 L181.5,275.77 L183.0,275.76 L184.5,275.76 L186.0,275.75 L187.5,275.75 L189.0,275.74 L190.5,275.74 L192.0,275.73 L193.5,275.73 L195.0,275.72 L196.5,275.72 L198.0,275.72 L199.5,275.71 L201.0,275.71 L202.5,275.71 L204.0,275.70 L205.5,275.70 L207.0,275.70 L208.5,275.70 L210.0,275.70 L211.5,275.70 L213.0,275.69 L214.5,275.69 L216.0,275.69 L217.5,275.69 L219.0,275.69 L220.5,275.69 L222.0,275.69 L223.5,275.69 L225.0,275.70 L226.5,275.70 L228.0,275.70 L229.5,275.70 L231.0,275.70 L232.5,275.71 L234.0,275.71 L235.5,275.71 L237.0,275.72 L238.5,275.72 L240.0,275.72 L241.5,275.73 L243.0,275.73 L244.5,275.74 L246.0,275.75 L247.5,275.75 L249.0,275.76 L250.5,275.77 L252.0,275.77 L253.5,275.78 L255.0,275.79 L256.5,275.80 L258.0,275.81 L259.5,275.81 L261.0,275.82 L262.5,275.83 L264.0,275.84 L265.5,275.86 L267.0,275.87 L268.5,275.88 L270.0,275.89 L271.5,275.90 L273.0,275.92 L274.5,275.93 L276.0,275.94 L277.5,275.96 L279.0,275.97 L280.5,275.99 L282.0,276.00 L283.5,276.02 L285.0,276.04 L286.5,276.05 L288.0,276.07 L289.5,276.09 L291.0,276.11 L292.5,276.12 L294.0,276.14 L295.5,276.16 L297.0,276.18 L298.5,276.21 L300.0,276.23 L301.5,276.25 L303.0,276.27 L304.5,276.29 L306.0,276.32 L307.5,276.34 L309.0,276.37 L310.5,276.39 L312.0,276.42 L313.5,276.44 L315.0,276.47 L316.5,276.50 L318.0,276.52 L319.5,276.55 L321.0,276.58 L322.5,276.61 L324.0,276.64 L325.5,276.67 L327.0,276.70 L328.5,276.73 L330.0,276.76 L331.5,276.80 L333.0,276.83 L334.5,276.86 L336.0,276.90 L337.5,276.93 L339.0,276.97 L340.5,277.01 L342.0,277.04 L343.5,277.08 L345.0,277.12 L346.5,277.16 L348.0,277.20 L349.5,277.24 L351.0,277.28 L352.5,277.32 L354.0,277.36 L355.5,277.40 L357.0,277.45 L358.5,277.49 L360.0,277.54 L361.5,277.58 L363.0,277.63 L364.5,277.67 L366.0,277.72 L367.5,277.77 L369.0,277.82 L370.5,277.87 L372.0,277.92 L373.5,277.97 L375.0,278.02 L376.5,278.07 L378.0,278.12 L379.5,278.18 L381.0,278.23 L382.5,278.29 L384.0,278.34 L385.5,278.40 L387.0,278.46 L388.5,278.51 L390.0,278.57 L391.5,278.63 L393.0,278.69 L394.5,278.75 L396.0,278.81 L397.5,278.88 L399.0,278.94 L400.5,279.00 L402.0,279.07 L403.5,279.13 L405.0,279.20 L406.5,279.27 L408.0,279.33 L409.5,279.40 L411.0,279.47 L412.5,279.54 L414.0,279.61 L415.5,279.68 L417.0,279.76 L418.5,279.83 L420.0,279.90 L421.5,279.98 L423.0,280.06 L424.5,280.13 L426.0,280.21 L427.5,280.29 L429.0,280.37 L430.5,280.45 L432.0,280.53 L433.5,280.61 L435.0,280.69 L436.5,280.78 L438.0,280.86 L439.5,280.95 L441.0,281.03 L442.5,281.12 L444.0,281.21 L445.5,281.29 L447.0,281.38 L448.5,281.47 L450.0,281.57 L451.5,281.66 L453.0,281.75 L454.5,281.85 L456.0,281.94 L457.5,282.04 L459.0,282.13 L460.5,282.23 L462.0,282.33 L463.5,282.43 L465.0,282.53 L466.5,282.63 L468.0,282.73 L469.5,282.84 L471.0,282.94 L472.5,283.05 L474.0,283.15 L475.5,283.26 L477.0,283.37 L478.5,283.48 L480.0,283.59 L481.5,283.70 L483.0,283.81 L484.5,283.92 L486.0,284.04 L487.5,284.15 L489.0,284.27 L490.5,284.39 L492.0,284.50 L493.5,284.62 L495.0,284.74 L496.5,284.86 L498.0,284.99 L499.5,285.11 L501.0,285.23 L502.5,285.36 L504.0,285.49 L505.5,285.61 L507.0,285.74 L508.5,285.87 L510.0,286.00 L511.5,286.13 L513.0,286.27 L514.5,286.40 L516.0,286.53 L517.5,286.67 L519.0,286.81 L520.5,286.94 L522.0,287.08 L523.5,287.22 L525.0,287.36 L526.5,287.51 L528.0,287.65 L529.5,287.80 L531.0,287.94 L532.5,288.09 L534.0,288.24 L535.5,288.38 L537.0,288.53 L538.5,288.69 L540.0,288.84 L541.5,288.99 L543.0,289.15 L544.5,289.30 L546.0,289.46 L547.5,289.62 L549.0,289.78 L550.5,289.94 L552.0,290.10 L553.5,290.26 L555.0,290.43 L556.5,290.59 L558.0,290.76 L559.5,290.92 L561.0,291.09 L562.5,291.26 L564.0,291.43 L565.5,291.61 L567.0,291.78 L568.5,291.95 L570.0,292.13 L571.5,292.31 L573.0,292.49 L574.5,292.67 L576.0,292.85 L577.5,293.03 L579.0,293.21 L580.5,293.40 L582.0,293.58 L583.5,293.77 L585.0,293.96 L586.5,294.15 L588.0,294.34 L589.5,294.53 L591.0,294.72 L592.5,294.92 L594.0,295.11 L595.5,295.31 L597.0,295.51 L598.5,295.71 L600.0,295.91 L601.5,296.11 L603.0,296.32 L604.5,296.52 L606.0,296.73 L607.5,296.93 L609.0,297.14 L610.5,297.35 L612.0,297.57 L613.5,297.78 L615.0,297.99 L616.5,298.21 L618.0,298.42 L619.5,298.64 L621.0,298.86 L622.5,299.08 L624.0,299.31 L625.5,299.53 L627.0,299.75 L628.5,299.98 L630.0,300.21" stroke="#48E6E9" stroke-width="2.30"/>
<path d="M174.0,271.50 L175.5,271.51 L177.0,271.52 L178.5,271.52 L180.0,271.53 L181.5,271.54 L183.0,271.55 L184.5,271.56 L186.0,271.57 L187.5,271.58 L189.0,271.59 L190.5,271.60 L192.0,271.61 L193.5,271.62 L195.0,271.63 L196.5,271.65 L198.0,271.66 L199.5,271.67 L201.0,271.68 L202.5,271.70 L204.0,271.71 L205.5,271.73 L207.0,271.74 L208.5,271.76 L210.0,271.77 L211.5,271.79 L213.0,271.80 L214.5,271.82 L216.0,271.84 L217.5,271.85 L219.0,271.87 L220.5,271.89 L222.0,271.91 L223.5,271.93 L225.0,271.95 L226.5,271.97 L228.0,271.99 L229.5,272.01 L231.0,272.03 L232.5,272.05 L234.0,272.07 L235.5,272.09 L237.0,272.11 L238.5,272.14 L240.0,272.16 L241.5,272.18 L243.0,272.21 L244.5,272.23 L246.0,272.26 L247.5,272.28 L249.0,272.31 L250.5,272.34 L252.0,272.36 L253.5,272.39 L255.0,272.42 L256.5,272.45 L258.0,272.47 L259.5,272.50 L261.0,272.53 L262.5,272.56 L264.0,272.59 L265.5,272.62 L267.0,272.65 L268.5,272.69 L270.0,272.72 L271.5,272.75 L273.0,272.78 L274.5,272.82 L276.0,272.85 L277.5,272.89 L279.0,272.92 L280.5,272.96 L282.0,272.99 L283.5,273.03 L285.0,273.07 L286.5,273.10 L288.0,273.14 L289.5,273.18 L291.0,273.22 L292.5,273.26 L294.0,273.30 L295.5,273.34 L297.0,273.38 L298.5,273.42 L300.0,273.46 L301.5,273.50 L303.0,273.55 L304.5,273.59 L306.0,273.63 L307.5,273.68 L309.0,273.72 L310.5,273.77 L312.0,273.82 L313.5,273.86 L315.0,273.91 L316.5,273.96 L318.0,274.00 L319.5,274.05 L321.0,274.10 L322.5,274.15 L324.0,274.20 L325.5,274.25 L327.0,274.30 L328.5,274.36 L330.0,274.41 L331.5,274.46 L333.0,274.52 L334.5,274.57 L336.0,274.62 L337.5,274.68 L339.0,274.73 L340.5,274.79 L342.0,274.85 L343.5,274.91 L345.0,274.96 L346.5,275.02 L348.0,275.08 L349.5,275.14 L351.0,275.20 L352.5,275.26 L354.0,275.32 L355.5,275.39 L357.0,275.45 L358.5,275.51 L360.0,275.58 L361.5,275.64 L363.0,275.70 L364.5,275.77 L366.0,275.84 L367.5,275.90 L369.0,275.97 L370.5,276.04 L372.0,276.11 L373.5,276.18 L375.0,276.25 L376.5,276.32 L378.0,276.39 L379.5,276.46 L381.0,276.53 L382.5,276.60 L384.0,276.68 L385.5,276.75 L387.0,276.83 L388.5,276.90 L390.0,276.98 L391.5,277.06 L393.0,277.13 L394.5,277.21 L396.0,277.29 L397.5,277.37 L399.0,277.45 L400.5,277.53 L402.0,277.61 L403.5,277.69 L405.0,277.77 L406.5,277.86 L408.0,277.94 L409.5,278.03 L411.0,278.11 L412.5,278.20 L414.0,278.28 L415.5,278.37 L417.0,278.46 L418.5,278.55 L420.0,278.64 L421.5,278.73 L423.0,278.82 L424.5,278.91 L426.0,279.00 L427.5,279.09 L429.0,279.19 L430.5,279.28 L432.0,279.37 L433.5,279.47 L435.0,279.57 L436.5,279.66 L438.0,279.76 L439.5,279.86 L441.0,279.96 L442.5,280.06 L444.0,280.16 L445.5,280.26 L447.0,280.36 L448.5,280.46 L450.0,280.57 L451.5,280.67 L453.0,280.77 L454.5,280.88 L456.0,280.99 L457.5,281.09 L459.0,281.20 L460.5,281.31 L462.0,281.42 L463.5,281.53 L465.0,281.64 L466.5,281.75 L468.0,281.86 L469.5,281.97 L471.0,282.09 L472.5,282.20 L474.0,282.32 L475.5,282.43 L477.0,282.55 L478.5,282.67 L480.0,282.78 L481.5,282.90 L483.0,283.02 L484.5,283.14 L486.0,283.26 L487.5,283.39 L489.0,283.51 L490.5,283.63 L492.0,283.76 L493.5,283.88 L495.0,284.01 L496.5,284.13 L498.0,284.26 L499.5,284.39 L501.0,284.52 L502.5,284.65 L504.0,284.78 L505.5,284.91 L507.0,285.04 L508.5,285.18 L510.0,285.31 L511.5,285.44 L513.0,285.58 L514.5,285.72 L516.0,285.85 L517.5,285.99 L519.0,286.13 L520.5,286.27 L522.0,286.41 L523.5,286.55 L525.0,286.69 L526.5,286.83 L528.0,286.98 L529.5,287.12 L531.0,287.27 L532.5,287.41 L534.0,287.56 L535.5,287.71 L537.0,287.86 L538.5,288.01 L540.0,288.16 L541.5,288.31 L543.0,288.46 L544.5,288.61 L546.0,288.77 L547.5,288.92 L549.0,289.08 L550.5,289.23 L552.0,289.39 L553.5,289.55 L555.0,289.71 L556.5,289.87 L558.0,290.03 L559.5,290.19 L561.0,290.35 L562.5,290.52 L564.0,290.68 L565.5,290.85 L567.0,291.01 L568.5,291.18 L570.0,291.35 L571.5,291.51 L573.0,291.68 L574.5,291.85 L576.0,292.03 L577.5,292.20 L579.0,292.37 L580.5,292.55 L582.0,292.72 L583.5,292.90 L585.0,293.07 L586.5,293.25 L588.0,293.43 L589.5,293.61 L591.0,293.79 L592.5,293.97 L594.0,294.15 L595.5,294.34 L597.0,294.52 L598.5,294.71 L600.0,294.89 L601.5,295.08 L603.0,295.27 L604.5,295.46 L606.0,295.65 L607.5,295.84 L609.0,296.03 L610.5,296.22 L612.0,296.41 L613.5,296.61 L615.0,296.80 L616.5,297.00 L618.0,297.20 L619.5,297.40 L621.0,297.60 L622.5,297.80 L624.0,298.00 L625.5,298.20 L627.0,298.40 L628.5,298.61 L630.0,298.81 L631.5,299.02 L633.0,299.23 L634.5,299.43 L636.0,299.64 L637.5,299.85 L639.0,300.07 L640.0,300.21" stroke="#48E6E9" stroke-width="2.30"/>
<path d="M174.0,279.40 L175.5,279.51 L177.0,279.63 L178.5,279.74 L180.0,279.85 L181.5,279.95 L183.0,280.06 L184.5,280.16 L186.0,280.25 L187.5,280.35 L189.0,280.44 L190.5,280.54 L192.0,280.63 L193.5,280.71 L195.0,280.80 L196.5,280.88 L198.0,280.96 L199.5,281.04 L201.0,281.11 L202.5,281.19 L204.0,281.26 L205.5,281.33 L207.0,281.40 L208.5,281.46 L210.0,281.52 L211.5,281.59 L213.0,281.64 L214.5,281.70 L216.0,281.76 L217.5,281.81 L219.0,281.86 L220.5,281.91 L222.0,281.96 L223.5,282.01 L225.0,282.05 L226.5,282.09 L228.0,282.13 L229.5,282.17 L231.0,282.21 L232.5,282.25 L234.0,282.28 L235.5,282.31 L237.0,282.34 L238.5,282.37 L240.0,282.40 L241.5,282.42 L243.0,282.45 L244.5,282.47 L246.0,282.49 L247.5,282.51 L249.0,282.53 L250.5,282.55 L252.0,282.56 L253.5,282.58 L255.0,282.59 L256.5,282.60 L258.0,282.61 L259.5,282.62 L261.0,282.63 L262.5,282.63 L264.0,282.64 L265.5,282.64 L267.0,282.64 L268.5,282.65 L270.0,282.65 L271.5,282.64 L273.0,282.64 L274.5,282.64 L276.0,282.64 L277.5,282.63 L279.0,282.62 L280.5,282.62 L282.0,282.61 L283.5,282.60 L285.0,282.59 L286.5,282.58 L288.0,282.57 L289.5,282.55 L291.0,282.54 L292.5,282.53 L294.0,282.51 L295.5,282.50 L297.0,282.48 L298.5,282.46 L300.0,282.44 L301.5,282.43 L303.0,282.41 L304.5,282.39 L306.0,282.37 L307.5,282.34 L309.0,282.32 L310.5,282.30 L312.0,282.28 L313.5,282.25 L315.0,282.23 L316.5,282.21 L318.0,282.18 L319.5,282.16 L321.0,282.13 L322.5,282.11 L324.0,282.08 L325.5,282.05 L327.0,282.03 L328.5,282.00 L330.0,281.97 L331.5,281.94 L333.0,281.92 L334.5,281.89 L336.0,281.86 L337.5,281.83 L339.0,281.80 L340.5,281.78 L342.0,281.75 L343.5,281.72 L345.0,281.69 L346.5,281.66 L348.0,281.63 L349.5,281.60 L351.0,281.57 L352.5,281.55 L354.0,281.52 L355.5,281.49 L357.0,281.46 L358.5,281.43 L360.0,281.41 L361.5,281.38 L363.0,281.35 L364.5,281.32 L366.0,281.30 L367.5,281.27 L369.0,281.24 L370.5,281.22 L372.0,281.19 L373.5,281.17 L375.0,281.14 L376.5,281.12 L378.0,281.09 L379.5,281.07 L381.0,281.05 L382.5,281.03 L384.0,281.00 L385.5,280.98 L387.0,280.96 L388.5,280.94 L390.0,280.92 L391.5,280.90 L393.0,280.89 L394.5,280.87 L396.0,280.85 L397.5,280.84 L399.0,280.82 L400.5,280.81 L402.0,280.79 L403.5,280.78 L405.0,280.77 L406.5,280.76 L408.0,280.75 L409.5,280.74 L411.0,280.73 L412.5,280.72 L414.0,280.72 L415.5,280.71 L417.0,280.71 L418.5,280.70 L420.0,280.70 L421.5,280.70 L423.0,280.70 L424.5,280.70 L426.0,280.71 L427.5,280.71 L429.0,280.71 L430.5,280.72 L432.0,280.73 L433.5,280.74 L435.0,280.75 L436.5,280.76 L438.0,280.77 L439.5,280.78 L441.0,280.80 L442.5,280.82 L444.0,280.83 L445.5,280.85 L447.0,280.87 L448.5,280.90 L450.0,280.92 L451.5,280.95 L453.0,280.97 L454.5,281.00 L456.0,281.03 L457.5,281.06 L459.0,281.10 L460.5,281.13 L462.0,281.17 L463.5,281.21 L465.0,281.25 L466.5,281.29 L468.0,281.34 L469.5,281.38 L471.0,281.43 L472.5,281.48 L474.0,281.53 L475.5,281.58 L477.0,281.64 L478.5,281.70 L480.0,281.76 L481.5,281.82 L483.0,281.88 L484.5,281.95 L486.0,282.01 L487.5,282.08 L489.0,282.15 L490.5,282.23 L492.0,282.30 L493.5,282.38 L495.0,282.46 L496.5,282.54 L498.0,282.63 L499.5,282.71 L501.0,282.80 L502.5,282.89 L504.0,282.99 L505.5,283.08 L507.0,283.18 L508.5,283.28 L510.0,283.39 L511.5,283.49 L513.0,283.60 L514.5,283.71 L516.0,283.82 L517.5,283.94 L519.0,284.06 L520.5,284.18 L522.0,284.30 L523.5,284.43 L525.0,284.55 L526.5,284.69 L528.0,284.82 L529.5,284.96 L531.0,285.09 L532.5,285.24 L534.0,285.38 L535.5,285.53 L537.0,285.68 L538.5,285.83 L540.0,285.99 L541.5,286.15 L543.0,286.31 L544.5,286.47 L546.0,286.64 L547.5,286.81 L549.0,286.98 L550.5,287.16 L552.0,287.34 L553.5,287.52 L555.0,287.71 L556.5,287.90 L558.0,288.09 L559.5,288.28 L561.0,288.48 L562.5,288.68 L564.0,288.89 L565.5,289.10 L567.0,289.31 L568.5,289.52 L570.0,289.74 L571.5,289.96 L573.0,290.18 L574.5,290.41 L576.0,290.64 L577.5,290.88 L579.0,291.12 L580.5,291.36 L582.0,291.60 L583.5,291.85 L585.0,292.10 L586.5,292.36 L588.0,292.62 L589.5,292.88 L591.0,293.14 L592.5,293.41 L594.0,293.69 L595.5,293.96 L597.0,294.25 L598.5,294.53 L600.0,294.82 L601.5,295.11 L603.0,295.41 L604.5,295.70 L606.0,296.01 L607.5,296.32 L609.0,296.63 L610.5,296.94 L612.0,297.26 L613.5,297.58 L615.0,297.91 L616.5,298.24 L618.0,298.58 L619.5,298.91 L621.0,299.26 L622.5,299.60 L624.0,299.96 L625.0,300.19" stroke="#E46D81" stroke-width="2.30"/>
<path d="M174.0,286.10 L175.5,286.10 L177.0,286.11 L178.5,286.11 L180.0,286.12 L181.5,286.12 L183.0,286.12 L184.5,286.13 L186.0,286.13 L187.5,286.14 L189.0,286.14 L190.5,286.14 L192.0,286.15 L193.5,286.15 L195.0,286.16 L196.5,286.16 L198.0,286.17 L199.5,286.17 L201.0,286.17 L202.5,286.18 L204.0,286.18 L205.5,286.19 L207.0,286.19 L208.5,286.20 L210.0,286.20 L211.5,286.21 L213.0,286.21 L214.5,286.22 L216.0,286.22 L217.5,286.23 L219.0,286.23 L220.5,286.24 L222.0,286.24 L223.5,286.25 L225.0,286.25 L226.5,286.26 L228.0,286.26 L229.5,286.27 L231.0,286.27 L232.5,286.28 L234.0,286.29 L235.5,286.29 L237.0,286.30 L238.5,286.30 L240.0,286.31 L241.5,286.32 L243.0,286.32 L244.5,286.33 L246.0,286.33 L247.5,286.34 L249.0,286.35 L250.5,286.35 L252.0,286.36 L253.5,286.37 L255.0,286.37 L256.5,286.38 L258.0,286.39 L259.5,286.39 L261.0,286.40 L262.5,286.41 L264.0,286.41 L265.5,286.42 L267.0,286.43 L268.5,286.43 L270.0,286.44 L271.5,286.45 L273.0,286.46 L274.5,286.46 L276.0,286.47 L277.5,286.48 L279.0,286.49 L280.5,286.50 L282.0,286.50 L283.5,286.51 L285.0,286.52 L286.5,286.53 L288.0,286.54 L289.5,286.54 L291.0,286.55 L292.5,286.56 L294.0,286.57 L295.5,286.58 L297.0,286.59 L298.5,286.60 L300.0,286.61 L301.5,286.61 L303.0,286.62 L304.5,286.63 L306.0,286.64 L307.5,286.65 L309.0,286.66 L310.5,286.67 L312.0,286.68 L313.5,286.69 L315.0,286.70 L316.5,286.71 L318.0,286.72 L319.5,286.73 L321.0,286.74 L322.5,286.75 L324.0,286.76 L325.5,286.77 L327.0,286.78 L328.5,286.79 L330.0,286.80 L331.5,286.82 L333.0,286.83 L334.5,286.84 L336.0,286.85 L337.5,286.86 L339.0,286.87 L340.5,286.88 L342.0,286.90 L343.5,286.91 L345.0,286.92 L346.5,286.93 L348.0,286.94 L349.5,286.96 L351.0,286.97 L352.5,286.98 L354.0,286.99 L355.5,287.01 L357.0,287.02 L358.5,287.03 L360.0,287.04 L361.5,287.06 L363.0,287.07 L364.5,287.08 L366.0,287.10 L367.5,287.11 L369.0,287.13 L370.5,287.14 L372.0,287.15 L373.5,287.17 L375.0,287.18 L376.5,287.20 L378.0,287.21 L379.5,287.23 L381.0,287.24 L382.5,287.26 L384.0,287.27 L385.5,287.29 L387.0,287.30 L388.5,287.32 L390.0,287.33 L391.5,287.35 L393.0,287.36 L394.5,287.38 L396.0,287.40 L397.5,287.41 L399.0,287.43 L400.5,287.44 L402.0,287.46 L403.5,287.48 L405.0,287.49 L406.5,287.51 L408.0,287.53 L409.5,287.55 L411.0,287.56 L412.5,287.58 L414.0,287.60 L415.5,287.62 L417.0,287.63 L418.5,287.65 L420.0,287.67 L421.5,287.69 L423.0,287.71 L424.5,287.73 L426.0,287.74 L427.5,287.76 L429.0,287.78 L430.5,287.80 L432.0,287.82 L433.5,287.84 L435.0,287.86 L436.5,287.88 L438.0,287.90 L439.5,287.92 L441.0,287.94 L442.5,287.96 L444.0,287.98 L445.5,288.00 L447.0,288.02 L448.5,288.04 L450.0,288.07 L451.5,288.09 L453.0,288.11 L454.5,288.13 L456.0,288.15 L457.5,288.17 L459.0,288.20 L460.5,288.22 L462.0,288.24 L463.5,288.26 L465.0,288.29 L466.5,288.31 L468.0,288.33 L469.5,288.36 L471.0,288.38 L472.5,288.40 L474.0,288.43 L475.5,288.45 L477.0,288.47 L478.5,288.50 L480.0,288.52 L481.5,288.55 L483.0,288.57 L484.5,288.60 L486.0,288.62 L487.5,288.65 L489.0,288.67 L490.5,288.70 L492.0,288.72 L493.5,288.75 L495.0,288.78 L496.5,288.80 L498.0,288.83 L499.5,288.86 L501.0,288.88 L502.5,288.91 L504.0,288.94 L505.5,288.96 L507.0,288.99 L508.5,289.02 L510.0,289.05 L511.5,289.08 L513.0,289.10 L514.5,289.13 L516.0,289.16 L517.5,289.19 L519.0,289.22 L520.5,289.25 L522.0,289.28 L523.5,289.31 L525.0,289.34 L526.5,289.37 L528.0,289.40 L529.5,289.43 L531.0,289.46 L532.5,289.49 L534.0,289.52 L535.5,289.55 L537.0,289.58 L538.5,289.61 L540.0,289.65 L541.5,289.68 L543.0,289.71 L544.5,289.74 L546.0,289.77 L547.5,289.81 L549.0,289.84 L550.5,289.87 L552.0,289.91 L553.5,289.94 L555.0,289.97 L556.5,290.01 L558.0,290.04 L559.5,290.07 L561.0,290.11 L562.5,290.14 L564.0,290.18 L565.5,290.21 L567.0,290.25 L568.5,290.28 L570.0,290.32 L571.5,290.36 L573.0,290.39 L574.5,290.43 L576.0,290.47 L577.5,290.50 L579.0,290.54 L580.5,290.58 L582.0,290.61 L583.5,290.65 L585.0,290.69 L586.5,290.73 L588.0,290.76 L589.5,290.80 L591.0,290.84 L592.5,290.88 L594.0,290.92 L595.5,290.96 L597.0,291.00 L598.5,291.04 L600.0,291.08 L601.5,291.12 L603.0,291.16 L604.5,291.20 L606.0,291.24 L607.5,291.28 L609.0,291.32 L610.5,291.36 L612.0,291.41 L613.5,291.45 L615.0,291.49 L616.5,291.53 L618.0,291.58 L619.5,291.62 L621.0,291.66 L622.5,291.70 L624.0,291.75 L625.5,291.79 L627.0,291.84 L628.5,291.88 L630.0,291.92 L631.5,291.97 L633.0,292.01 L634.5,292.06 L636.0,292.10 L637.5,292.15 L639.0,292.20 L640.5,292.24 L642.0,292.29 L643.5,292.34 L645.0,292.38 L646.5,292.43 L648.0,292.48 L649.5,292.52 L651.0,292.57 L652.5,292.62 L654.0,292.67 L655.5,292.72 L657.0,292.77 L658.5,292.81 L660.0,292.86 L661.5,292.91 L663.0,292.96 L664.5,293.01 L666.0,293.06 L667.5,293.11 L669.0,293.17 L670.5,293.22 L672.0,293.27 L673.5,293.32 L675.0,293.37 L676.5,293.42 L678.0,293.48 L679.5,293.53 L681.0,293.58 L682.5,293.63 L684.0,293.69 L685.5,293.74 L687.0,293.79 L688.5,293.85 L690.0,293.90 L691.5,293.96 L693.0,294.01 L694.5,294.07 L696.0,294.12 L697.5,294.18 L699.0,294.23 L700.5,294.29 L702.0,294.35 L703.5,294.40 L705.0,294.46 L706.5,294.52 L708.0,294.58 L709.5,294.63 L711.0,294.69 L712.5,294.75 L714.0,294.81 L715.5,294.87 L717.0,294.93 L718.5,294.99 L720.0,295.04 L721.5,295.10 L723.0,295.16 L724.5,295.23 L726.0,295.29 L727.5,295.35 L729.0,295.41 L730.5,295.47 L732.0,295.53 L733.5,295.59 L735.0,295.66 L736.5,295.72 L738.0,295.78 L739.5,295.85 L741.0,295.91 L742.5,295.97 L744.0,296.04 L745.5,296.10 L747.0,296.17 L748.5,296.23 L750.0,296.30 L751.5,296.36 L753.0,296.43 L754.5,296.49 L756.0,296.56 L757.5,296.63 L759.0,296.69 L760.5,296.76 L762.0,296.83 L763.5,296.90 L765.0,296.96 L766.5,297.03 L768.0,297.10 L769.5,297.17 L771.0,297.24 L772.5,297.31 L774.0,297.38 L775.5,297.45 L777.0,297.52 L778.5,297.59 L780.0,297.66 L781.5,297.73 L783.0,297.80 L784.5,297.88 L786.0,297.95 L787.5,298.02 L789.0,298.09 L790.5,298.17 L792.0,298.24 L793.5,298.31 L795.0,298.39 L796.5,298.46 L798.0,298.54 L799.5,298.61 L801.0,298.69 L802.5,298.76 L804.0,298.84 L805.5,298.92 L807.0,298.99 L808.5,299.07 L810.0,299.15 L811.5,299.22 L813.0,299.30 L814.5,299.38 L816.0,299.46 L817.5,299.54 L819.0,299.62 L820.5,299.70 L822.0,299.78 L823.5,299.86 L825.0,299.94 L826.5,300.02 L828.0,300.10 L829.5,300.18 L830.0,300.21" stroke="#E46D81" stroke-width="2.30"/>
<path d="M174.0,263.00 L175.5,263.01 L177.0,263.01 L178.5,263.02 L180.0,263.03 L181.5,263.03 L183.0,263.04 L184.5,263.05 L186.0,263.06 L187.5,263.07 L189.0,263.07 L190.5,263.08 L192.0,263.09 L193.5,263.10 L195.0,263.11 L196.5,263.12 L198.0,263.13 L199.5,263.14 L201.0,263.15 L202.5,263.16 L204.0,263.17 L205.5,263.18 L207.0,263.19 L208.5,263.20 L210.0,263.21 L211.5,263.22 L213.0,263.23 L214.5,263.25 L216.0,263.26 L217.5,263.27 L219.0,263.28 L220.5,263.30 L222.0,263.31 L223.5,263.32 L225.0,263.34 L226.5,263.35 L228.0,263.37 L229.5,263.38 L231.0,263.40 L232.5,263.41 L234.0,263.43 L235.5,263.44 L237.0,263.46 L238.5,263.48 L240.0,263.49 L241.5,263.51 L243.0,263.53 L244.5,263.55 L246.0,263.57 L247.5,263.58 L249.0,263.60 L250.5,263.62 L252.0,263.64 L253.5,263.66 L255.0,263.68 L256.5,263.70 L258.0,263.73 L259.5,263.75 L261.0,263.77 L262.5,263.79 L264.0,263.82 L265.5,263.84 L267.0,263.86 L268.5,263.89 L270.0,263.91 L271.5,263.94 L273.0,263.96 L274.5,263.99 L276.0,264.01 L277.5,264.04 L279.0,264.07 L280.5,264.10 L282.0,264.12 L283.5,264.15 L285.0,264.18 L286.5,264.21 L288.0,264.24 L289.5,264.27 L291.0,264.30 L292.5,264.33 L294.0,264.37 L295.5,264.40 L297.0,264.43 L298.5,264.46 L300.0,264.50 L301.5,264.53 L303.0,264.57 L304.5,264.60 L306.0,264.64 L307.5,264.67 L309.0,264.71 L310.5,264.75 L312.0,264.79 L313.5,264.83 L315.0,264.86 L316.5,264.90 L318.0,264.94 L319.5,264.98 L321.0,265.03 L322.5,265.07 L324.0,265.11 L325.5,265.15 L327.0,265.20 L328.5,265.24 L330.0,265.29 L331.5,265.33 L333.0,265.38 L334.5,265.42 L336.0,265.47 L337.5,265.52 L339.0,265.57 L340.5,265.61 L342.0,265.66 L343.5,265.71 L345.0,265.77 L346.5,265.82 L348.0,265.87 L349.5,265.92 L351.0,265.97 L352.5,266.03 L354.0,266.08 L355.5,266.14 L357.0,266.19 L358.5,266.25 L360.0,266.31 L361.5,266.37 L363.0,266.42 L364.5,266.48 L366.0,266.54 L367.5,266.60 L369.0,266.67 L370.5,266.73 L372.0,266.79 L373.5,266.85 L375.0,266.92 L376.5,266.98 L378.0,267.05 L379.5,267.11 L381.0,267.18 L382.5,267.25 L384.0,267.32 L385.5,267.39 L387.0,267.46 L388.5,267.53 L390.0,267.60 L391.5,267.67 L393.0,267.74 L394.5,267.82 L396.0,267.89 L397.5,267.97 L399.0,268.04 L400.5,268.12 L402.0,268.20 L403.5,268.28 L405.0,268.35 L406.5,268.43 L408.0,268.52 L409.5,268.60 L411.0,268.68 L412.5,268.76 L414.0,268.85 L415.5,268.93 L417.0,269.02 L418.5,269.10 L420.0,269.19 L421.5,269.28 L423.0,269.37 L424.5,269.46 L426.0,269.55 L427.5,269.64 L429.0,269.73 L430.5,269.83 L432.0,269.92 L433.5,270.01 L435.0,270.11 L436.5,270.21 L438.0,270.30 L439.5,270.40 L441.0,270.50 L442.5,270.60 L444.0,270.70 L445.5,270.81 L447.0,270.91 L448.5,271.01 L450.0,271.12 L451.5,271.22 L453.0,271.33 L454.5,271.44 L456.0,271.55 L457.5,271.66 L459.0,271.77 L460.5,271.88 L462.0,271.99 L463.5,272.10 L465.0,272.22 L466.5,272.33 L468.0,272.45 L469.5,272.57 L471.0,272.68 L472.5,272.80 L474.0,272.92 L475.5,273.04 L477.0,273.17 L478.5,273.29 L480.0,273.41 L481.5,273.54 L483.0,273.66 L484.5,273.79 L486.0,273.92 L487.5,274.05 L489.0,274.18 L490.5,274.31 L492.0,274.44 L493.5,274.58 L495.0,274.71 L496.5,274.84 L498.0,274.98 L499.5,275.12 L501.0,275.26 L502.5,275.40 L504.0,275.54 L505.5,275.68 L507.0,275.82 L508.5,275.97 L510.0,276.11 L511.5,276.26 L513.0,276.40 L514.5,276.55 L516.0,276.70 L517.5,276.85 L519.0,277.00 L520.5,277.16 L522.0,277.31 L523.5,277.46 L525.0,277.62 L526.5,277.78 L528.0,277.94 L529.5,278.10 L531.0,278.26 L532.5,278.42 L534.0,278.58 L535.5,278.74 L537.0,278.91 L538.5,279.08 L540.0,279.24 L541.5,279.41 L543.0,279.58 L544.5,279.75 L546.0,279.92 L547.5,280.10 L549.0,280.27 L550.5,280.45 L552.0,280.63 L553.5,280.80 L555.0,280.98 L556.5,281.16 L558.0,281.35 L559.5,281.53 L561.0,281.71 L562.5,281.90 L564.0,282.08 L565.5,282.27 L567.0,282.46 L568.5,282.65 L570.0,282.84 L571.5,283.04 L573.0,283.23 L574.5,283.43 L576.0,283.62 L577.5,283.82 L579.0,284.02 L580.5,284.22 L582.0,284.42 L583.5,284.63 L585.0,284.83 L586.5,285.04 L588.0,285.24 L589.5,285.45 L591.0,285.66 L592.5,285.87 L594.0,286.08 L595.5,286.30 L597.0,286.51 L598.5,286.73 L600.0,286.95 L601.5,287.17 L603.0,287.39 L604.5,287.61 L606.0,287.83 L607.5,288.06 L609.0,288.28 L610.5,288.51 L612.0,288.74 L613.5,288.97 L615.0,289.20 L616.5,289.43 L618.0,289.66 L619.5,289.90 L621.0,290.14 L622.5,290.37 L624.0,290.61 L625.5,290.85 L627.0,291.10 L628.5,291.34 L630.0,291.59 L631.5,291.83 L633.0,292.08 L634.5,292.33 L636.0,292.58 L637.5,292.83 L639.0,293.09 L640.5,293.34 L642.0,293.60 L643.5,293.86 L645.0,294.12 L646.5,294.38 L648.0,294.64 L649.5,294.90 L651.0,295.17 L652.5,295.44 L654.0,295.70 L655.5,295.97 L657.0,296.25 L658.5,296.52 L660.0,296.79 L661.5,297.07 L663.0,297.35 L664.5,297.63 L666.0,297.91 L667.5,298.19 L669.0,298.47 L670.5,298.76 L672.0,299.04 L673.5,299.33 L675.0,299.62 L676.5,299.91 L678.0,300.20" stroke="#D430C6" stroke-width="2.30"/>
<path d="M174.0,238.20 L175.5,238.15 L177.0,238.10 L178.5,238.05 L180.0,238.00 L181.5,237.95 L183.0,237.91 L184.5,237.87 L186.0,237.82 L187.5,237.78 L189.0,237.75 L190.5,237.71 L192.0,237.67 L193.5,237.64 L195.0,237.61 L196.5,237.58 L198.0,237.55 L199.5,237.52 L201.0,237.50 L202.5,237.47 L204.0,237.45 L205.5,237.43 L207.0,237.41 L208.5,237.40 L210.0,237.38 L211.5,237.37 L213.0,237.35 L214.5,237.34 L216.0,237.34 L217.5,237.33 L219.0,237.32 L220.5,237.32 L222.0,237.32 L223.5,237.31 L225.0,237.31 L226.5,237.32 L228.0,237.32 L229.5,237.33 L231.0,237.33 L232.5,237.34 L234.0,237.35 L235.5,237.36 L237.0,237.38 L238.5,237.39 L240.0,237.41 L241.5,237.42 L243.0,237.44 L244.5,237.47 L246.0,237.49 L247.5,237.51 L249.0,237.54 L250.5,237.56 L252.0,237.59 L253.5,237.62 L255.0,237.66 L256.5,237.69 L258.0,237.72 L259.5,237.76 L261.0,237.80 L262.5,237.84 L264.0,237.88 L265.5,237.92 L267.0,237.97 L268.5,238.01 L270.0,238.06 L271.5,238.11 L273.0,238.16 L274.5,238.21 L276.0,238.26 L277.5,238.32 L279.0,238.37 L280.5,238.43 L282.0,238.49 L283.5,238.55 L285.0,238.61 L286.5,238.68 L288.0,238.74 L289.5,238.81 L291.0,238.87 L292.5,238.94 L294.0,239.02 L295.5,239.09 L297.0,239.16 L298.5,239.24 L300.0,239.31 L301.5,239.39 L303.0,239.47 L304.5,239.55 L306.0,239.64 L307.5,239.72 L309.0,239.81 L310.5,239.89 L312.0,239.98 L313.5,240.07 L315.0,240.16 L316.5,240.26 L318.0,240.35 L319.5,240.45 L321.0,240.54 L322.5,240.64 L324.0,240.74 L325.5,240.84 L327.0,240.95 L328.5,241.05 L330.0,241.16 L331.5,241.26 L333.0,241.37 L334.5,241.48 L336.0,241.59 L337.5,241.71 L339.0,241.82 L340.5,241.93 L342.0,242.05 L343.5,242.17 L345.0,242.29 L346.5,242.41 L348.0,242.53 L349.5,242.66 L351.0,242.78 L352.5,242.91 L354.0,243.04 L355.5,243.17 L357.0,243.30 L358.5,243.43 L360.0,243.56 L361.5,243.70 L363.0,243.83 L364.5,243.97 L366.0,244.11 L367.5,244.25 L369.0,244.39 L370.5,244.53 L372.0,244.68 L373.5,244.82 L375.0,244.97 L376.5,245.12 L378.0,245.27 L379.5,245.42 L381.0,245.57 L382.5,245.73 L384.0,245.88 L385.5,246.04 L387.0,246.20 L388.5,246.35 L390.0,246.51 L391.5,246.68 L393.0,246.84 L394.5,247.00 L396.0,247.17 L397.5,247.34 L399.0,247.50 L400.5,247.67 L402.0,247.84 L403.5,248.02 L405.0,248.19 L406.5,248.36 L408.0,248.54 L409.5,248.72 L411.0,248.90 L412.5,249.07 L414.0,249.26 L415.5,249.44 L417.0,249.62 L418.5,249.81 L420.0,249.99 L421.5,250.18 L423.0,250.37 L424.5,250.56 L426.0,250.75 L427.5,250.94 L429.0,251.14 L430.5,251.33 L432.0,251.53 L433.5,251.72 L435.0,251.92 L436.5,252.12 L438.0,252.32 L439.5,252.53 L441.0,252.73 L442.5,252.93 L444.0,253.14 L445.5,253.35 L447.0,253.56 L448.5,253.76 L450.0,253.98 L451.5,254.19 L453.0,254.40 L454.5,254.62 L456.0,254.83 L457.5,255.05 L459.0,255.27 L460.5,255.49 L462.0,255.71 L463.5,255.93 L465.0,256.15 L466.5,256.37 L468.0,256.60 L469.5,256.83 L471.0,257.05 L472.5,257.28 L474.0,257.51 L475.5,257.74 L477.0,257.98 L478.5,258.21 L480.0,258.44 L481.5,258.68 L483.0,258.92 L484.5,259.16 L486.0,259.39 L487.5,259.63 L489.0,259.88 L490.5,260.12 L492.0,260.36 L493.5,260.61 L495.0,260.85 L496.5,261.10 L498.0,261.35 L499.5,261.60 L501.0,261.85 L502.5,262.10 L504.0,262.36 L505.5,262.61 L507.0,262.86 L508.5,263.12 L510.0,263.38 L511.5,263.64 L513.0,263.90 L514.5,264.16 L516.0,264.42 L517.5,264.68 L519.0,264.95 L520.5,265.21 L522.0,265.48 L523.5,265.75 L525.0,266.01 L526.5,266.28 L528.0,266.55 L529.5,266.83 L531.0,267.10 L532.5,267.37 L534.0,267.65 L535.5,267.92 L537.0,268.20 L538.5,268.48 L540.0,268.76 L541.5,269.04 L543.0,269.32 L544.5,269.60 L546.0,269.89 L547.5,270.17 L549.0,270.46 L550.5,270.74 L552.0,271.03 L553.5,271.32 L555.0,271.61 L556.5,271.90 L558.0,272.19 L559.5,272.48 L561.0,272.78 L562.5,273.07 L564.0,273.37 L565.5,273.67 L567.0,273.96 L568.5,274.26 L570.0,274.56 L571.5,274.86 L573.0,275.16 L574.5,275.47 L576.0,275.77 L577.5,276.07 L579.0,276.38 L580.5,276.68 L582.0,276.99 L583.5,277.30 L585.0,277.61 L586.5,277.91 L588.0,278.22 L589.5,278.53 L591.0,278.84 L592.5,279.15 L594.0,279.47 L595.5,279.78 L597.0,280.09 L598.5,280.41 L600.0,280.72 L601.5,281.03 L603.0,281.35 L604.5,281.66 L606.0,281.98 L607.5,282.30 L609.0,282.61 L610.5,282.93 L612.0,283.25 L613.5,283.57 L615.0,283.88 L616.5,284.20 L618.0,284.52 L619.5,284.84 L621.0,285.16 L622.5,285.48 L624.0,285.80 L625.5,286.12 L627.0,286.44 L628.5,286.76 L630.0,287.08 L631.5,287.40 L633.0,287.72 L634.5,288.04 L636.0,288.36 L637.5,288.68 L639.0,289.00 L640.5,289.32 L642.0,289.65 L643.5,289.97 L645.0,290.29 L646.5,290.61 L648.0,290.93 L649.5,291.25 L651.0,291.57 L652.5,291.89 L654.0,292.21 L655.5,292.53 L657.0,292.85 L658.5,293.17 L660.0,293.49 L661.5,293.80 L663.0,294.12 L664.5,294.44 L666.0,294.76 L667.5,295.08 L669.0,295.39 L670.5,295.71 L672.0,296.03 L673.5,296.34 L675.0,296.66 L676.5,296.97 L678.0,297.29 L679.5,297.60 L681.0,297.91 L682.5,298.23 L684.0,298.54 L685.5,298.85 L687.0,299.16 L688.5,299.47 L690.0,299.78 L691.5,300.09 L692.0,300.19" stroke="#79D769" stroke-width="2.30"/>
<path d="M174.0,234.20 L175.5,234.22 L177.0,234.24 L178.5,234.26 L180.0,234.28 L181.5,234.30 L183.0,234.32 L184.5,234.34 L186.0,234.36 L187.5,234.38 L189.0,234.40 L190.5,234.42 L192.0,234.44 L193.5,234.46 L195.0,234.49 L196.5,234.51 L198.0,234.53 L199.5,234.55 L201.0,234.57 L202.5,234.59 L204.0,234.62 L205.5,234.64 L207.0,234.66 L208.5,234.68 L210.0,234.71 L211.5,234.73 L213.0,234.75 L214.5,234.78 L216.0,234.80 L217.5,234.82 L219.0,234.85 L220.5,234.87 L222.0,234.90 L223.5,234.92 L225.0,234.95 L226.5,234.97 L228.0,235.00 L229.5,235.03 L231.0,235.05 L232.5,235.08 L234.0,235.11 L235.5,235.14 L237.0,235.16 L238.5,235.19 L240.0,235.22 L241.5,235.25 L243.0,235.28 L244.5,235.31 L246.0,235.34 L247.5,235.37 L249.0,235.40 L250.5,235.44 L252.0,235.47 L253.5,235.50 L255.0,235.53 L256.5,235.57 L258.0,235.60 L259.5,235.64 L261.0,235.67 L262.5,235.71 L264.0,235.74 L265.5,235.78 L267.0,235.82 L268.5,235.86 L270.0,235.89 L271.5,235.93 L273.0,235.97 L274.5,236.01 L276.0,236.05 L277.5,236.09 L279.0,236.13 L280.5,236.18 L282.0,236.22 L283.5,236.26 L285.0,236.31 L286.5,236.35 L288.0,236.40 L289.5,236.44 L291.0,236.49 L292.5,236.54 L294.0,236.59 L295.5,236.63 L297.0,236.68 L298.5,236.73 L300.0,236.79 L301.5,236.84 L303.0,236.89 L304.5,236.94 L306.0,237.00 L307.5,237.05 L309.0,237.11 L310.5,237.16 L312.0,237.22 L313.5,237.28 L315.0,237.33 L316.5,237.39 L318.0,237.45 L319.5,237.51 L321.0,237.58 L322.5,237.64 L324.0,237.70 L325.5,237.77 L327.0,237.83 L328.5,237.90 L330.0,237.96 L331.5,238.03 L333.0,238.10 L334.5,238.17 L336.0,238.24 L337.5,238.31 L339.0,238.38 L340.5,238.45 L342.0,238.53 L343.5,238.60 L345.0,238.68 L346.5,238.76 L348.0,238.83 L349.5,238.91 L351.0,238.99 L352.5,239.07 L354.0,239.15 L355.5,239.24 L357.0,239.32 L358.5,239.40 L360.0,239.49 L361.5,239.58 L363.0,239.67 L364.5,239.75 L366.0,239.84 L367.5,239.93 L369.0,240.03 L370.5,240.12 L372.0,240.21 L373.5,240.31 L375.0,240.41 L376.5,240.50 L378.0,240.60 L379.5,240.70 L381.0,240.80 L382.5,240.91 L384.0,241.01 L385.5,241.11 L387.0,241.22 L388.5,241.33 L390.0,241.43 L391.5,241.54 L393.0,241.65 L394.5,241.77 L396.0,241.88 L397.5,241.99 L399.0,242.11 L400.5,242.23 L402.0,242.34 L403.5,242.46 L405.0,242.58 L406.5,242.70 L408.0,242.83 L409.5,242.95 L411.0,243.08 L412.5,243.20 L414.0,243.33 L415.5,243.46 L417.0,243.59 L418.5,243.73 L420.0,243.86 L421.5,243.99 L423.0,244.13 L424.5,244.27 L426.0,244.41 L427.5,244.55 L429.0,244.69 L430.5,244.83 L432.0,244.98 L433.5,245.13 L435.0,245.27 L436.5,245.42 L438.0,245.57 L439.5,245.73 L441.0,245.88 L442.5,246.03 L444.0,246.19 L445.5,246.35 L447.0,246.51 L448.5,246.67 L450.0,246.83 L451.5,247.00 L453.0,247.16 L454.5,247.33 L456.0,247.50 L457.5,247.67 L459.0,247.84 L460.5,248.01 L462.0,248.19 L463.5,248.36 L465.0,248.54 L466.5,248.72 L468.0,248.90 L469.5,249.09 L471.0,249.27 L472.5,249.46 L474.0,249.65 L475.5,249.84 L477.0,250.03 L478.5,250.22 L480.0,250.42 L481.5,250.61 L483.0,250.81 L484.5,251.01 L486.0,251.21 L487.5,251.41 L489.0,251.62 L490.5,251.83 L492.0,252.03 L493.5,252.25 L495.0,252.46 L496.5,252.67 L498.0,252.89 L499.5,253.10 L501.0,253.32 L502.5,253.54 L504.0,253.77 L505.5,253.99 L507.0,254.22 L508.5,254.45 L510.0,254.68 L511.5,254.91 L513.0,255.14 L514.5,255.38 L516.0,255.62 L517.5,255.85 L519.0,256.10 L520.5,256.34 L522.0,256.58 L523.5,256.83 L525.0,257.08 L526.5,257.33 L528.0,257.58 L529.5,257.84 L531.0,258.10 L532.5,258.36 L534.0,258.62 L535.5,258.88 L537.0,259.14 L538.5,259.41 L540.0,259.68 L541.5,259.95 L543.0,260.22 L544.5,260.50 L546.0,260.77 L547.5,261.05 L549.0,261.33 L550.5,261.62 L552.0,261.90 L553.5,262.19 L555.0,262.48 L556.5,262.77 L558.0,263.06 L559.5,263.36 L561.0,263.66 L562.5,263.96 L564.0,264.26 L565.5,264.56 L567.0,264.87 L568.5,265.18 L570.0,265.49 L571.5,265.80 L573.0,266.12 L574.5,266.43 L576.0,266.75 L577.5,267.08 L579.0,267.40 L580.5,267.73 L582.0,268.05 L583.5,268.38 L585.0,268.72 L586.5,269.05 L588.0,269.39 L589.5,269.73 L591.0,270.07 L592.5,270.42 L594.0,270.76 L595.5,271.11 L597.0,271.46 L598.5,271.82 L600.0,272.17 L601.5,272.53 L603.0,272.89 L604.5,273.25 L606.0,273.62 L607.5,273.99 L609.0,274.36 L610.5,274.73 L612.0,275.10 L613.5,275.48 L615.0,275.86 L616.5,276.24 L618.0,276.63 L619.5,277.02 L621.0,277.40 L622.5,277.80 L624.0,278.19 L625.5,278.59 L627.0,278.99 L628.5,279.39 L630.0,279.79 L631.5,280.20 L633.0,280.61 L634.5,281.02 L636.0,281.44 L637.5,281.85 L639.0,282.27 L640.5,282.69 L642.0,283.12 L643.5,283.55 L645.0,283.98 L646.5,284.41 L648.0,284.84 L649.5,285.28 L651.0,285.72 L652.5,286.16 L654.0,286.61 L655.5,287.06 L657.0,287.51 L658.5,287.96 L660.0,288.42 L661.5,288.88 L663.0,289.34 L664.5,289.80 L666.0,290.27 L667.5,290.74 L669.0,291.21 L670.5,291.68 L672.0,292.16 L673.5,292.64 L675.0,293.13 L676.5,293.61 L678.0,294.10 L679.5,294.59 L681.0,295.09 L682.5,295.58 L684.0,296.08 L685.5,296.59 L687.0,297.09 L688.5,297.60 L690.0,298.11 L691.5,298.62 L693.0,299.14 L694.5,299.66 L696.0,300.18" stroke="#43A7EA" stroke-width="2.30"/>
<path d="M174.0,211.00 L175.5,210.98 L177.0,210.97 L178.5,210.95 L180.0,210.93 L181.5,210.92 L183.0,210.90 L184.5,210.89 L186.0,210.88 L187.5,210.87 L189.0,210.86 L190.5,210.85 L192.0,210.84 L193.5,210.84 L195.0,210.83 L196.5,210.83 L198.0,210.83 L199.5,210.83 L201.0,210.83 L202.5,210.83 L204.0,210.83 L205.5,210.84 L207.0,210.84 L208.5,210.85 L210.0,210.86 L211.5,210.87 L213.0,210.88 L214.5,210.89 L216.0,210.91 L217.5,210.92 L219.0,210.94 L220.5,210.95 L222.0,210.97 L223.5,210.99 L225.0,211.02 L226.5,211.04 L228.0,211.07 L229.5,211.09 L231.0,211.12 L232.5,211.15 L234.0,211.18 L235.5,211.21 L237.0,211.25 L238.5,211.28 L240.0,211.32 L241.5,211.36 L243.0,211.40 L244.5,211.44 L246.0,211.48 L247.5,211.53 L249.0,211.58 L250.5,211.62 L252.0,211.68 L253.5,211.73 L255.0,211.78 L256.5,211.84 L258.0,211.89 L259.5,211.95 L261.0,212.01 L262.5,212.07 L264.0,212.14 L265.5,212.20 L267.0,212.27 L268.5,212.34 L270.0,212.41 L271.5,212.48 L273.0,212.56 L274.5,212.63 L276.0,212.71 L277.5,212.79 L279.0,212.87 L280.5,212.96 L282.0,213.04 L283.5,213.13 L285.0,213.22 L286.5,213.31 L288.0,213.40 L289.5,213.50 L291.0,213.60 L292.5,213.70 L294.0,213.80 L295.5,213.90 L297.0,214.01 L298.5,214.11 L300.0,214.22 L301.5,214.33 L303.0,214.45 L304.5,214.56 L306.0,214.68 L307.5,214.80 L309.0,214.92 L310.5,215.04 L312.0,215.17 L313.5,215.30 L315.0,215.43 L316.5,215.56 L318.0,215.69 L319.5,215.83 L321.0,215.97 L322.5,216.11 L324.0,216.25 L325.5,216.40 L327.0,216.55 L328.5,216.70 L330.0,216.85 L331.5,217.00 L333.0,217.16 L334.5,217.32 L336.0,217.48 L337.5,217.65 L339.0,217.81 L340.5,217.98 L342.0,218.15 L343.5,218.32 L345.0,218.50 L346.5,218.68 L348.0,218.86 L349.5,219.04 L351.0,219.23 L352.5,219.41 L354.0,219.60 L355.5,219.80 L357.0,219.99 L358.5,220.19 L360.0,220.39 L361.5,220.59 L363.0,220.80 L364.5,221.00 L366.0,221.21 L367.5,221.43 L369.0,221.64 L370.5,221.86 L372.0,222.08 L373.5,222.30 L375.0,222.53 L376.5,222.76 L378.0,222.99 L379.5,223.22 L381.0,223.46 L382.5,223.70 L384.0,223.94 L385.5,224.18 L387.0,224.43 L388.5,224.68 L390.0,224.93 L391.5,225.19 L393.0,225.44 L394.5,225.70 L396.0,225.97 L397.5,226.23 L399.0,226.50 L400.5,226.77 L402.0,227.05 L403.5,227.33 L405.0,227.61 L406.5,227.89 L408.0,228.18 L409.5,228.47 L411.0,228.76 L412.5,229.05 L414.0,229.35 L415.5,229.65 L417.0,229.95 L418.5,230.26 L420.0,230.57 L421.5,230.88 L423.0,231.20 L424.5,231.52 L426.0,231.84 L427.5,232.16 L429.0,232.49 L430.5,232.82 L432.0,233.15 L433.5,233.49 L435.0,233.83 L436.5,234.17 L438.0,234.52 L439.5,234.87 L441.0,235.22 L442.5,235.58 L444.0,235.93 L445.5,236.30 L447.0,236.66 L448.5,237.03 L450.0,237.40 L451.5,237.78 L453.0,238.15 L454.5,238.53 L456.0,238.92 L457.5,239.31 L459.0,239.70 L460.5,240.09 L462.0,240.49 L463.5,240.89 L465.0,241.29 L466.5,241.70 L468.0,242.11 L469.5,242.52 L471.0,242.94 L472.5,243.36 L474.0,243.79 L475.5,244.21 L477.0,244.64 L478.5,245.08 L480.0,245.52 L481.5,245.96 L483.0,246.40 L484.5,246.85 L486.0,247.30 L487.5,247.76 L489.0,248.22 L490.5,248.68 L492.0,249.14 L493.5,249.61 L495.0,250.09 L496.5,250.56 L498.0,251.04 L499.5,251.53 L501.0,252.01 L502.5,252.50 L504.0,253.00 L505.5,253.50 L507.0,254.00 L508.5,254.50 L510.0,255.01 L511.5,255.52 L513.0,256.04 L514.5,256.56 L516.0,257.08 L517.5,257.61 L519.0,258.14 L520.5,258.67 L522.0,259.21 L523.5,259.75 L525.0,260.29 L526.5,260.84 L528.0,261.39 L529.5,261.94 L531.0,262.50 L532.5,263.06 L534.0,263.62 L535.5,264.19 L537.0,264.76 L538.5,265.34 L540.0,265.91 L541.5,266.49 L543.0,267.08 L544.5,267.66 L546.0,268.25 L547.5,268.85 L549.0,269.45 L550.5,270.05 L552.0,270.65 L553.5,271.26 L555.0,271.87 L556.5,272.48 L558.0,273.09 L559.5,273.71 L561.0,274.34 L562.5,274.96 L564.0,275.59 L565.5,276.22 L567.0,276.86 L568.5,277.50 L570.0,278.14 L571.5,278.78 L573.0,279.43 L574.5,280.08 L576.0,280.73 L577.5,281.39 L579.0,282.05 L580.5,282.71 L582.0,283.37 L583.5,284.04 L585.0,284.71 L586.5,285.39 L588.0,286.07 L589.5,286.75 L591.0,287.43 L592.5,288.11 L594.0,288.80 L595.5,289.49 L597.0,290.19 L598.5,290.89 L600.0,291.59 L601.5,292.29 L603.0,292.99 L604.5,293.70 L606.0,294.41 L607.5,295.13 L609.0,295.84 L610.5,296.56 L612.0,297.28 L613.5,298.01 L615.0,298.74 L616.5,299.47 L618.0,300.20" stroke="#E46D81" stroke-width="2.30"/>
<path d="M174.0,214.20 L175.5,214.21 L177.0,214.21 L178.5,214.22 L180.0,214.22 L181.5,214.23 L183.0,214.23 L184.5,214.24 L186.0,214.24 L187.5,214.25 L189.0,214.26 L190.5,214.26 L192.0,214.27 L193.5,214.28 L195.0,214.28 L196.5,214.29 L198.0,214.30 L199.5,214.30 L201.0,214.31 L202.5,214.32 L204.0,214.33 L205.5,214.34 L207.0,214.34 L208.5,214.35 L210.0,214.36 L211.5,214.37 L213.0,214.38 L214.5,214.39 L216.0,214.40 L217.5,214.42 L219.0,214.43 L220.5,214.44 L222.0,214.45 L223.5,214.47 L225.0,214.48 L226.5,214.49 L228.0,214.51 L229.5,214.52 L231.0,214.54 L232.5,214.56 L234.0,214.57 L235.5,214.59 L237.0,214.61 L238.5,214.63 L240.0,214.65 L241.5,214.67 L243.0,214.69 L244.5,214.71 L246.0,214.73 L247.5,214.75 L249.0,214.77 L250.5,214.80 L252.0,214.82 L253.5,214.85 L255.0,214.87 L256.5,214.90 L258.0,214.93 L259.5,214.96 L261.0,214.99 L262.5,215.02 L264.0,215.05 L265.5,215.08 L267.0,215.11 L268.5,215.15 L270.0,215.18 L271.5,215.21 L273.0,215.25 L274.5,215.29 L276.0,215.33 L277.5,215.37 L279.0,215.41 L280.5,215.45 L282.0,215.49 L283.5,215.53 L285.0,215.58 L286.5,215.62 L288.0,215.67 L289.5,215.72 L291.0,215.76 L292.5,215.81 L294.0,215.86 L295.5,215.92 L297.0,215.97 L298.5,216.02 L300.0,216.08 L301.5,216.13 L303.0,216.19 L304.5,216.25 L306.0,216.31 L307.5,216.37 L309.0,216.44 L310.5,216.50 L312.0,216.56 L313.5,216.63 L315.0,216.70 L316.5,216.77 L318.0,216.84 L319.5,216.91 L321.0,216.98 L322.5,217.06 L324.0,217.13 L325.5,217.21 L327.0,217.29 L328.5,217.37 L330.0,217.45 L331.5,217.54 L333.0,217.62 L334.5,217.71 L336.0,217.79 L337.5,217.88 L339.0,217.97 L340.5,218.07 L342.0,218.16 L343.5,218.26 L345.0,218.35 L346.5,218.45 L348.0,218.55 L349.5,218.65 L351.0,218.76 L352.5,218.86 L354.0,218.97 L355.5,219.08 L357.0,219.19 L358.5,219.30 L360.0,219.41 L361.5,219.53 L363.0,219.65 L364.5,219.77 L366.0,219.89 L367.5,220.01 L369.0,220.13 L370.5,220.26 L372.0,220.39 L373.5,220.52 L375.0,220.65 L376.5,220.79 L378.0,220.92 L379.5,221.06 L381.0,221.20 L382.5,221.34 L384.0,221.48 L385.5,221.63 L387.0,221.78 L388.5,221.93 L390.0,222.08 L391.5,222.23 L393.0,222.39 L394.5,222.54 L396.0,222.70 L397.5,222.86 L399.0,223.03 L400.5,223.19 L402.0,223.36 L403.5,223.53 L405.0,223.70 L406.5,223.88 L408.0,224.06 L409.5,224.23 L411.0,224.42 L412.5,224.60 L414.0,224.78 L415.5,224.97 L417.0,225.16 L418.5,225.35 L420.0,225.55 L421.5,225.75 L423.0,225.95 L424.5,226.15 L426.0,226.35 L427.5,226.56 L429.0,226.77 L430.5,226.98 L432.0,227.19 L433.5,227.41 L435.0,227.62 L436.5,227.85 L438.0,228.07 L439.5,228.29 L441.0,228.52 L442.5,228.75 L444.0,228.99 L445.5,229.22 L447.0,229.46 L448.5,229.70 L450.0,229.94 L451.5,230.19 L453.0,230.44 L454.5,230.69 L456.0,230.94 L457.5,231.20 L459.0,231.46 L460.5,231.72 L462.0,231.99 L463.5,232.25 L465.0,232.52 L466.5,232.80 L468.0,233.07 L469.5,233.35 L471.0,233.63 L472.5,233.91 L474.0,234.20 L475.5,234.49 L477.0,234.78 L478.5,235.08 L480.0,235.37 L481.5,235.68 L483.0,235.98 L484.5,236.29 L486.0,236.59 L487.5,236.91 L489.0,237.22 L490.5,237.54 L492.0,237.86 L493.5,238.19 L495.0,238.51 L496.5,238.84 L498.0,239.18 L499.5,239.51 L501.0,239.85 L502.5,240.19 L504.0,240.54 L505.5,240.89 L507.0,241.24 L508.5,241.59 L510.0,241.95 L511.5,242.31 L513.0,242.68 L514.5,243.04 L516.0,243.41 L517.5,243.79 L519.0,244.16 L520.5,244.54 L522.0,244.93 L523.5,245.31 L525.0,245.70 L526.5,246.10 L528.0,246.49 L529.5,246.89 L531.0,247.30 L532.5,247.70 L534.0,248.11 L535.5,248.53 L537.0,248.94 L538.5,249.36 L540.0,249.79 L541.5,250.21 L543.0,250.64 L544.5,251.08 L546.0,251.51 L547.5,251.95 L549.0,252.40 L550.5,252.85 L552.0,253.30 L553.5,253.75 L555.0,254.21 L556.5,254.67 L558.0,255.14 L559.5,255.60 L561.0,256.08 L562.5,256.55 L564.0,257.03 L565.5,257.52 L567.0,258.00 L568.5,258.49 L570.0,258.98 L571.5,259.48 L573.0,259.98 L574.5,260.48 L576.0,260.98 L577.5,261.49 L579.0,261.99 L580.5,262.51 L582.0,263.02 L583.5,263.53 L585.0,264.05 L586.5,264.57 L588.0,265.09 L589.5,265.61 L591.0,266.14 L592.5,266.66 L594.0,267.19 L595.5,267.72 L597.0,268.24 L598.5,268.77 L600.0,269.31 L601.5,269.84 L603.0,270.37 L604.5,270.90 L606.0,271.44 L607.5,271.97 L609.0,272.51 L610.5,273.04 L612.0,273.58 L613.5,274.11 L615.0,274.65 L616.5,275.19 L618.0,275.72 L619.5,276.26 L621.0,276.79 L622.5,277.33 L624.0,277.87 L625.5,278.41 L627.0,278.95 L628.5,279.49 L630.0,280.03 L631.5,280.57 L633.0,281.11 L634.5,281.66 L636.0,282.20 L637.5,282.75 L639.0,283.30 L640.5,283.85 L642.0,284.40 L643.5,284.96 L645.0,285.51 L646.5,286.07 L648.0,286.64 L649.5,287.20 L651.0,287.77 L652.5,288.33 L654.0,288.91 L655.5,289.48 L657.0,290.06 L658.5,290.64 L660.0,291.22 L661.5,291.81 L663.0,292.40 L664.5,292.99 L666.0,293.58 L667.5,294.19 L669.0,294.79 L670.5,295.40 L672.0,296.01 L673.5,296.62 L675.0,297.24 L676.5,297.87 L678.0,298.50 L679.5,299.13 L681.0,299.77 L682.0,300.19" stroke="#D430C6" stroke-width="2.30"/>
<path d="M174.0,345.00 L175.5,345.01 L177.0,345.01 L178.5,345.01 L180.0,345.02 L181.5,345.02 L183.0,345.02 L184.5,345.03 L186.0,345.03 L187.5,345.03 L189.0,345.03 L190.5,345.03 L192.0,345.03 L193.5,345.03 L195.0,345.03 L196.5,345.03 L198.0,345.03 L199.5,345.02 L201.0,345.02 L202.5,345.02 L204.0,345.01 L205.5,345.01 L207.0,345.00 L208.5,345.00 L210.0,344.99 L211.5,344.99 L213.0,344.98 L214.5,344.97 L216.0,344.96 L217.5,344.95 L219.0,344.95 L220.5,344.94 L222.0,344.92 L223.5,344.91 L225.0,344.90 L226.5,344.89 L228.0,344.88 L229.5,344.86 L231.0,344.85 L232.5,344.83 L234.0,344.82 L235.5,344.80 L237.0,344.79 L238.5,344.77 L240.0,344.75 L241.5,344.73 L243.0,344.71 L244.5,344.69 L246.0,344.67 L247.5,344.65 L249.0,344.63 L250.5,344.61 L252.0,344.58 L253.5,344.56 L255.0,344.53 L256.5,344.51 L258.0,344.48 L259.5,344.46 L261.0,344.43 L262.5,344.40 L264.0,344.37 L265.5,344.34 L267.0,344.31 L268.5,344.28 L270.0,344.25 L271.5,344.21 L273.0,344.18 L274.5,344.15 L276.0,344.11 L277.5,344.08 L279.0,344.04 L280.5,344.00 L282.0,343.96 L283.5,343.92 L285.0,343.88 L286.5,343.84 L288.0,343.80 L289.5,343.76 L291.0,343.72 L292.5,343.67 L294.0,343.63 L295.5,343.58 L297.0,343.54 L298.5,343.49 L300.0,343.44 L301.5,343.39 L303.0,343.34 L304.5,343.29 L306.0,343.24 L307.5,343.19 L309.0,343.13 L310.5,343.08 L312.0,343.02 L313.5,342.97 L315.0,342.91 L316.5,342.85 L318.0,342.79 L319.5,342.73 L321.0,342.67 L322.5,342.61 L324.0,342.55 L325.5,342.49 L327.0,342.42 L328.5,342.36 L330.0,342.29 L331.5,342.22 L333.0,342.15 L334.5,342.09 L336.0,342.02 L337.5,341.94 L339.0,341.87 L340.5,341.80 L342.0,341.72 L343.5,341.65 L345.0,341.57 L346.5,341.50 L348.0,341.42 L349.5,341.34 L351.0,341.26 L352.5,341.18 L354.0,341.09 L355.5,341.01 L357.0,340.93 L358.5,340.84 L360.0,340.75 L361.5,340.67 L363.0,340.58 L364.5,340.49 L366.0,340.40 L367.5,340.31 L369.0,340.21 L370.5,340.12 L372.0,340.02 L373.5,339.93 L375.0,339.83 L376.5,339.73 L378.0,339.63 L379.5,339.53 L381.0,339.43 L382.5,339.32 L384.0,339.22 L385.5,339.11 L387.0,339.01 L388.5,338.90 L390.0,338.79 L391.5,338.68 L393.0,338.57 L394.5,338.46 L396.0,338.34 L397.5,338.23 L399.0,338.11 L400.5,337.99 L402.0,337.88 L403.5,337.76 L405.0,337.64 L406.5,337.51 L408.0,337.39 L409.5,337.27 L411.0,337.14 L412.5,337.01 L414.0,336.88 L415.5,336.75 L417.0,336.62 L418.5,336.49 L420.0,336.36 L421.5,336.22 L423.0,336.09 L424.5,335.95 L426.0,335.81 L427.5,335.67 L429.0,335.53 L430.5,335.39 L432.0,335.24 L433.5,335.10 L435.0,334.95 L436.5,334.80 L438.0,334.65 L439.5,334.50 L441.0,334.35 L442.5,334.20 L444.0,334.04 L445.5,333.89 L447.0,333.73 L448.5,333.57 L450.0,333.41 L451.5,333.25 L453.0,333.09 L454.5,332.92 L456.0,332.76 L457.5,332.59 L459.0,332.42 L460.5,332.25 L462.0,332.08 L463.5,331.91 L465.0,331.74 L466.5,331.56 L468.0,331.38 L469.5,331.20 L471.0,331.02 L472.5,330.84 L474.0,330.66 L475.5,330.48 L477.0,330.29 L478.5,330.10 L480.0,329.92 L481.5,329.72 L483.0,329.53 L484.5,329.34 L486.0,329.15 L487.5,328.95 L489.0,328.75 L490.5,328.55 L492.0,328.35 L493.5,328.15 L495.0,327.95 L496.5,327.74 L498.0,327.53 L499.5,327.33 L501.0,327.12 L502.5,326.90 L504.0,326.69 L505.5,326.48 L507.0,326.26 L508.5,326.04 L510.0,325.82 L511.5,325.60 L513.0,325.38 L514.5,325.15 L516.0,324.93 L517.5,324.70 L519.0,324.47 L520.5,324.24 L522.0,324.01 L523.5,323.78 L525.0,323.54 L526.5,323.30 L528.0,323.06 L529.5,322.82 L531.0,322.58 L532.5,322.34 L534.0,322.09 L535.5,321.84 L537.0,321.60 L538.5,321.34 L540.0,321.09 L541.5,320.84 L543.0,320.58 L544.5,320.33 L546.0,320.07 L547.5,319.81 L549.0,319.54 L550.5,319.28 L552.0,319.01 L553.5,318.75 L555.0,318.48 L556.5,318.20 L558.0,317.93 L559.5,317.66 L561.0,317.38 L562.5,317.10 L564.0,316.82 L565.5,316.54 L567.0,316.26 L568.5,315.97 L570.0,315.68 L571.5,315.40 L573.0,315.10 L574.5,314.81 L576.0,314.52 L577.5,314.22 L579.0,313.92 L580.5,313.62 L582.0,313.32 L583.5,313.02 L585.0,312.71 L586.5,312.41 L588.0,312.10 L589.5,311.79 L591.0,311.47 L592.5,311.16 L594.0,310.84 L595.5,310.52 L597.0,310.20 L598.5,309.88 L600.0,309.56 L601.5,309.23 L603.0,308.90 L604.5,308.57 L606.0,308.24 L607.5,307.91 L609.0,307.57 L610.5,307.23 L612.0,306.89 L613.5,306.55 L615.0,306.21 L616.5,305.86 L618.0,305.52 L619.5,305.17 L621.0,304.81 L622.5,304.46 L624.0,304.11 L625.5,303.75 L627.0,303.39 L628.5,303.03 L630.0,302.66 L631.5,302.30 L633.0,301.93 L634.5,301.56 L636.0,301.19 L637.5,300.82 L639.0,300.44 L640.0,300.19" stroke="#48E6E9" stroke-width="2.30"/>
<path d="M174.0,339.30 L175.5,339.35 L177.0,339.41 L178.5,339.46 L180.0,339.51 L181.5,339.56 L183.0,339.61 L184.5,339.66 L186.0,339.71 L187.5,339.75 L189.0,339.80 L190.5,339.84 L192.0,339.89 L193.5,339.93 L195.0,339.97 L196.5,340.01 L198.0,340.05 L199.5,340.09 L201.0,340.13 L202.5,340.16 L204.0,340.20 L205.5,340.23 L207.0,340.27 L208.5,340.30 L210.0,340.33 L211.5,340.36 L213.0,340.39 L214.5,340.42 L216.0,340.44 L217.5,340.47 L219.0,340.50 L220.5,340.52 L222.0,340.54 L223.5,340.56 L225.0,340.58 L226.5,340.60 L228.0,340.62 L229.5,340.64 L231.0,340.66 L232.5,340.67 L234.0,340.68 L235.5,340.70 L237.0,340.71 L238.5,340.72 L240.0,340.73 L241.5,340.74 L243.0,340.74 L244.5,340.75 L246.0,340.75 L247.5,340.76 L249.0,340.76 L250.5,340.76 L252.0,340.76 L253.5,340.76 L255.0,340.75 L256.5,340.75 L258.0,340.75 L259.5,340.74 L261.0,340.73 L262.5,340.72 L264.0,340.71 L265.5,340.70 L267.0,340.69 L268.5,340.68 L270.0,340.66 L271.5,340.64 L273.0,340.63 L274.5,340.61 L276.0,340.59 L277.5,340.57 L279.0,340.54 L280.5,340.52 L282.0,340.50 L283.5,340.47 L285.0,340.44 L286.5,340.41 L288.0,340.38 L289.5,340.35 L291.0,340.32 L292.5,340.28 L294.0,340.25 L295.5,340.21 L297.0,340.17 L298.5,340.13 L300.0,340.09 L301.5,340.05 L303.0,340.00 L304.5,339.96 L306.0,339.91 L307.5,339.86 L309.0,339.81 L310.5,339.76 L312.0,339.71 L313.5,339.66 L315.0,339.60 L316.5,339.54 L318.0,339.49 L319.5,339.43 L321.0,339.37 L322.5,339.30 L324.0,339.24 L325.5,339.18 L327.0,339.11 L328.5,339.04 L330.0,338.97 L331.5,338.90 L333.0,338.83 L334.5,338.75 L336.0,338.68 L337.5,338.60 L339.0,338.52 L340.5,338.44 L342.0,338.36 L343.5,338.28 L345.0,338.19 L346.5,338.11 L348.0,338.02 L349.5,337.93 L351.0,337.84 L352.5,337.75 L354.0,337.66 L355.5,337.56 L357.0,337.46 L358.5,337.36 L360.0,337.26 L361.5,337.16 L363.0,337.06 L364.5,336.96 L366.0,336.85 L367.5,336.74 L369.0,336.63 L370.5,336.52 L372.0,336.41 L373.5,336.29 L375.0,336.18 L376.5,336.06 L378.0,335.94 L379.5,335.82 L381.0,335.70 L382.5,335.57 L384.0,335.45 L385.5,335.32 L387.0,335.19 L388.5,335.06 L390.0,334.93 L391.5,334.79 L393.0,334.66 L394.5,334.52 L396.0,334.38 L397.5,334.24 L399.0,334.10 L400.5,333.95 L402.0,333.81 L403.5,333.66 L405.0,333.51 L406.5,333.36 L408.0,333.21 L409.5,333.05 L411.0,332.90 L412.5,332.74 L414.0,332.58 L415.5,332.42 L417.0,332.25 L418.5,332.09 L420.0,331.92 L421.5,331.75 L423.0,331.58 L424.5,331.41 L426.0,331.24 L427.5,331.06 L429.0,330.88 L430.5,330.70 L432.0,330.52 L433.5,330.34 L435.0,330.15 L436.5,329.97 L438.0,329.78 L439.5,329.59 L441.0,329.40 L442.5,329.20 L444.0,329.00 L445.5,328.81 L447.0,328.61 L448.5,328.41 L450.0,328.20 L451.5,328.00 L453.0,327.79 L454.5,327.58 L456.0,327.37 L457.5,327.16 L459.0,326.94 L460.5,326.72 L462.0,326.50 L463.5,326.28 L465.0,326.06 L466.5,325.84 L468.0,325.61 L469.5,325.38 L471.0,325.15 L472.5,324.92 L474.0,324.68 L475.5,324.45 L477.0,324.21 L478.5,323.97 L480.0,323.73 L481.5,323.48 L483.0,323.24 L484.5,322.99 L486.0,322.74 L487.5,322.49 L489.0,322.23 L490.5,321.98 L492.0,321.72 L493.5,321.46 L495.0,321.19 L496.5,320.93 L498.0,320.66 L499.5,320.40 L501.0,320.12 L502.5,319.85 L504.0,319.58 L505.5,319.30 L507.0,319.02 L508.5,318.74 L510.0,318.46 L511.5,318.17 L513.0,317.89 L514.5,317.60 L516.0,317.30 L517.5,317.01 L519.0,316.72 L520.5,316.42 L522.0,316.12 L523.5,315.82 L525.0,315.51 L526.5,315.21 L528.0,314.90 L529.5,314.59 L531.0,314.27 L532.5,313.96 L534.0,313.64 L535.5,313.32 L537.0,313.00 L538.5,312.68 L540.0,312.35 L541.5,312.02 L543.0,311.69 L544.5,311.36 L546.0,311.03 L547.5,310.69 L549.0,310.35 L550.5,310.01 L552.0,309.66 L553.5,309.32 L555.0,308.97 L556.5,308.62 L558.0,308.27 L559.5,307.91 L561.0,307.56 L562.5,307.20 L564.0,306.83 L565.5,306.47 L567.0,306.10 L568.5,305.74 L570.0,305.36 L571.5,304.99 L573.0,304.62 L574.5,304.24 L576.0,303.86 L577.5,303.48 L579.0,303.09 L580.5,302.70 L582.0,302.32 L583.5,301.92 L585.0,301.53 L586.5,301.13 L588.0,300.73 L589.5,300.33 L590.0,300.20" stroke="#79D769" stroke-width="2.30"/>
<path d="M174.0,335.00 L175.5,335.11 L177.0,335.21 L178.5,335.31 L180.0,335.41 L181.5,335.51 L183.0,335.60 L184.5,335.70 L186.0,335.79 L187.5,335.88 L189.0,335.96 L190.5,336.05 L192.0,336.13 L193.5,336.21 L195.0,336.29 L196.5,336.37 L198.0,336.44 L199.5,336.51 L201.0,336.58 L202.5,336.65 L204.0,336.72 L205.5,336.78 L207.0,336.84 L208.5,336.90 L210.0,336.96 L211.5,337.01 L213.0,337.06 L214.5,337.12 L216.0,337.16 L217.5,337.21 L219.0,337.25 L220.5,337.30 L222.0,337.34 L223.5,337.37 L225.0,337.41 L226.5,337.44 L228.0,337.48 L229.5,337.51 L231.0,337.53 L232.5,337.56 L234.0,337.58 L235.5,337.60 L237.0,337.62 L238.5,337.64 L240.0,337.65 L241.5,337.67 L243.0,337.68 L244.5,337.69 L246.0,337.69 L247.5,337.70 L249.0,337.70 L250.5,337.70 L252.0,337.70 L253.5,337.70 L255.0,337.69 L256.5,337.68 L258.0,337.67 L259.5,337.66 L261.0,337.65 L262.5,337.63 L264.0,337.61 L265.5,337.59 L267.0,337.57 L268.5,337.54 L270.0,337.52 L271.5,337.49 L273.0,337.46 L274.5,337.43 L276.0,337.39 L277.5,337.35 L279.0,337.32 L280.5,337.27 L282.0,337.23 L283.5,337.19 L285.0,337.14 L286.5,337.09 L288.0,337.04 L289.5,336.99 L291.0,336.93 L292.5,336.87 L294.0,336.82 L295.5,336.75 L297.0,336.69 L298.5,336.63 L300.0,336.56 L301.5,336.49 L303.0,336.42 L304.5,336.34 L306.0,336.27 L307.5,336.19 L309.0,336.11 L310.5,336.03 L312.0,335.95 L313.5,335.86 L315.0,335.77 L316.5,335.68 L318.0,335.59 L319.5,335.50 L321.0,335.40 L322.5,335.31 L324.0,335.21 L325.5,335.10 L327.0,335.00 L328.5,334.89 L330.0,334.79 L331.5,334.68 L333.0,334.57 L334.5,334.45 L336.0,334.34 L337.5,334.22 L339.0,334.10 L340.5,333.98 L342.0,333.85 L343.5,333.73 L345.0,333.60 L346.5,333.47 L348.0,333.34 L349.5,333.21 L351.0,333.07 L352.5,332.93 L354.0,332.79 L355.5,332.65 L357.0,332.51 L358.5,332.36 L360.0,332.22 L361.5,332.07 L363.0,331.92 L364.5,331.76 L366.0,331.61 L367.5,331.45 L369.0,331.29 L370.5,331.13 L372.0,330.97 L373.5,330.80 L375.0,330.64 L376.5,330.47 L378.0,330.30 L379.5,330.12 L381.0,329.95 L382.5,329.77 L384.0,329.59 L385.5,329.41 L387.0,329.23 L388.5,329.05 L390.0,328.86 L391.5,328.67 L393.0,328.48 L394.5,328.29 L396.0,328.10 L397.5,327.90 L399.0,327.70 L400.5,327.50 L402.0,327.30 L403.5,327.10 L405.0,326.89 L406.5,326.68 L408.0,326.47 L409.5,326.26 L411.0,326.05 L412.5,325.83 L414.0,325.62 L415.5,325.40 L417.0,325.18 L418.5,324.95 L420.0,324.73 L421.5,324.50 L423.0,324.27 L424.5,324.04 L426.0,323.81 L427.5,323.58 L429.0,323.34 L430.5,323.10 L432.0,322.86 L433.5,322.62 L435.0,322.38 L436.5,322.13 L438.0,321.88 L439.5,321.63 L441.0,321.38 L442.5,321.13 L444.0,320.87 L445.5,320.62 L447.0,320.36 L448.5,320.10 L450.0,319.83 L451.5,319.57 L453.0,319.30 L454.5,319.04 L456.0,318.77 L457.5,318.49 L459.0,318.22 L460.5,317.94 L462.0,317.67 L463.5,317.39 L465.0,317.10 L466.5,316.82 L468.0,316.54 L469.5,316.25 L471.0,315.96 L472.5,315.67 L474.0,315.38 L475.5,315.08 L477.0,314.79 L478.5,314.49 L480.0,314.19 L481.5,313.89 L483.0,313.58 L484.5,313.28 L486.0,312.97 L487.5,312.66 L489.0,312.35 L490.5,312.04 L492.0,311.72 L493.5,311.41 L495.0,311.09 L496.5,310.77 L498.0,310.45 L499.5,310.12 L501.0,309.80 L502.5,309.47 L504.0,309.14 L505.5,308.81 L507.0,308.48 L508.5,308.14 L510.0,307.80 L511.5,307.47 L513.0,307.13 L514.5,306.78 L516.0,306.44 L517.5,306.09 L519.0,305.75 L520.5,305.40 L522.0,305.05 L523.5,304.69 L525.0,304.34 L526.5,303.98 L528.0,303.62 L529.5,303.26 L531.0,302.90 L532.5,302.54 L534.0,302.17 L535.5,301.81 L537.0,301.44 L538.5,301.07 L540.0,300.69 L541.5,300.32 L542.0,300.19" stroke="#E46D81" stroke-width="2.30"/>
<path d="M174.0,320.20 L175.5,320.21 L177.0,320.22 L178.5,320.23 L180.0,320.24 L181.5,320.24 L183.0,320.25 L184.5,320.26 L186.0,320.26 L187.5,320.27 L189.0,320.27 L190.5,320.28 L192.0,320.28 L193.5,320.28 L195.0,320.28 L196.5,320.28 L198.0,320.28 L199.5,320.28 L201.0,320.28 L202.5,320.28 L204.0,320.28 L205.5,320.28 L207.0,320.27 L208.5,320.27 L210.0,320.26 L211.5,320.26 L213.0,320.25 L214.5,320.24 L216.0,320.24 L217.5,320.23 L219.0,320.22 L220.5,320.21 L222.0,320.20 L223.5,320.19 L225.0,320.18 L226.5,320.17 L228.0,320.15 L229.5,320.14 L231.0,320.13 L232.5,320.11 L234.0,320.10 L235.5,320.08 L237.0,320.06 L238.5,320.05 L240.0,320.03 L241.5,320.01 L243.0,319.99 L244.5,319.97 L246.0,319.95 L247.5,319.93 L249.0,319.91 L250.5,319.89 L252.0,319.87 L253.5,319.84 L255.0,319.82 L256.5,319.80 L258.0,319.77 L259.5,319.75 L261.0,319.72 L262.5,319.69 L264.0,319.67 L265.5,319.64 L267.0,319.61 L268.5,319.58 L270.0,319.55 L271.5,319.52 L273.0,319.49 L274.5,319.46 L276.0,319.43 L277.5,319.40 L279.0,319.36 L280.5,319.33 L282.0,319.30 L283.5,319.26 L285.0,319.23 L286.5,319.19 L288.0,319.15 L289.5,319.12 L291.0,319.08 L292.5,319.04 L294.0,319.00 L295.5,318.96 L297.0,318.92 L298.5,318.88 L300.0,318.84 L301.5,318.80 L303.0,318.76 L304.5,318.72 L306.0,318.68 L307.5,318.63 L309.0,318.59 L310.5,318.54 L312.0,318.50 L313.5,318.45 L315.0,318.41 L316.5,318.36 L318.0,318.31 L319.5,318.27 L321.0,318.22 L322.5,318.17 L324.0,318.12 L325.5,318.07 L327.0,318.02 L328.5,317.97 L330.0,317.92 L331.5,317.87 L333.0,317.82 L334.5,317.76 L336.0,317.71 L337.5,317.66 L339.0,317.60 L340.5,317.55 L342.0,317.49 L343.5,317.44 L345.0,317.38 L346.5,317.32 L348.0,317.27 L349.5,317.21 L351.0,317.15 L352.5,317.09 L354.0,317.03 L355.5,316.97 L357.0,316.91 L358.5,316.85 L360.0,316.79 L361.5,316.73 L363.0,316.67 L364.5,316.61 L366.0,316.54 L367.5,316.48 L369.0,316.42 L370.5,316.35 L372.0,316.29 L373.5,316.22 L375.0,316.16 L376.5,316.09 L378.0,316.02 L379.5,315.96 L381.0,315.89 L382.5,315.82 L384.0,315.75 L385.5,315.68 L387.0,315.61 L388.5,315.54 L390.0,315.47 L391.5,315.40 L393.0,315.33 L394.5,315.26 L396.0,315.19 L397.5,315.12 L399.0,315.04 L400.5,314.97 L402.0,314.90 L403.5,314.82 L405.0,314.75 L406.5,314.67 L408.0,314.60 L409.5,314.52 L411.0,314.45 L412.5,314.37 L414.0,314.29 L415.5,314.22 L417.0,314.14 L418.5,314.06 L420.0,313.98 L421.5,313.90 L423.0,313.82 L424.5,313.74 L426.0,313.66 L427.5,313.58 L429.0,313.50 L430.5,313.42 L432.0,313.34 L433.5,313.26 L435.0,313.18 L436.5,313.09 L438.0,313.01 L439.5,312.93 L441.0,312.84 L442.5,312.76 L444.0,312.67 L445.5,312.59 L447.0,312.50 L448.5,312.42 L450.0,312.33 L451.5,312.24 L453.0,312.16 L454.5,312.07 L456.0,311.98 L457.5,311.89 L459.0,311.80 L460.5,311.72 L462.0,311.63 L463.5,311.54 L465.0,311.45 L466.5,311.36 L468.0,311.27 L469.5,311.18 L471.0,311.08 L472.5,310.99 L474.0,310.90 L475.5,310.81 L477.0,310.72 L478.5,310.62 L480.0,310.53 L481.5,310.44 L483.0,310.34 L484.5,310.25 L486.0,310.15 L487.5,310.06 L489.0,309.96 L490.5,309.87 L492.0,309.77 L493.5,309.68 L495.0,309.58 L496.5,309.48 L498.0,309.38 L499.5,309.29 L501.0,309.19 L502.5,309.09 L504.0,308.99 L505.5,308.89 L507.0,308.80 L508.5,308.70 L510.0,308.60 L511.5,308.50 L513.0,308.40 L514.5,308.30 L516.0,308.19 L517.5,308.09 L519.0,307.99 L520.5,307.89 L522.0,307.79 L523.5,307.69 L525.0,307.58 L526.5,307.48 L528.0,307.38 L529.5,307.27 L531.0,307.17 L532.5,307.07 L534.0,306.96 L535.5,306.86 L537.0,306.75 L538.5,306.65 L540.0,306.54 L541.5,306.44 L543.0,306.33 L544.5,306.23 L546.0,306.12 L547.5,306.01 L549.0,305.91 L550.5,305.80 L552.0,305.69 L553.5,305.58 L555.0,305.48 L556.5,305.37 L558.0,305.26 L559.5,305.15 L561.0,305.04 L562.5,304.93 L564.0,304.82 L565.5,304.71 L567.0,304.60 L568.5,304.49 L570.0,304.38 L571.5,304.27 L573.0,304.16 L574.5,304.05 L576.0,303.94 L577.5,303.83 L579.0,303.72 L580.5,303.61 L582.0,303.49 L583.5,303.38 L585.0,303.27 L586.5,303.16 L588.0,303.04 L589.5,302.93 L591.0,302.82 L592.5,302.70 L594.0,302.59 L595.5,302.48 L597.0,302.36 L598.5,302.25 L600.0,302.13 L601.5,302.02 L603.0,301.90 L604.5,301.79 L606.0,301.67 L607.5,301.56 L609.0,301.44 L610.5,301.33 L612.0,301.21 L613.5,301.10 L615.0,300.98 L616.5,300.86 L618.0,300.75 L619.5,300.63 L621.0,300.51 L622.5,300.39 L624.0,300.28 L625.0,300.20" stroke="#48E6E9" stroke-width="2.30"/>
<path d="M174.0,378.30 L175.5,378.23 L177.0,378.16 L178.5,378.10 L180.0,378.03 L181.5,377.96 L183.0,377.90 L184.5,377.83 L186.0,377.77 L187.5,377.71 L189.0,377.65 L190.5,377.58 L192.0,377.52 L193.5,377.46 L195.0,377.41 L196.5,377.35 L198.0,377.29 L199.5,377.23 L201.0,377.18 L202.5,377.12 L204.0,377.07 L205.5,377.02 L207.0,376.96 L208.5,376.91 L210.0,376.86 L211.5,376.81 L213.0,376.76 L214.5,376.71 L216.0,376.66 L217.5,376.61 L219.0,376.56 L220.5,376.51 L222.0,376.46 L223.5,376.42 L225.0,376.37 L226.5,376.32 L228.0,376.28 L229.5,376.23 L231.0,376.19 L232.5,376.14 L234.0,376.10 L235.5,376.06 L237.0,376.01 L238.5,375.97 L240.0,375.93 L241.5,375.88 L243.0,375.84 L244.5,375.80 L246.0,375.76 L247.5,375.72 L249.0,375.67 L250.5,375.63 L252.0,375.59 L253.5,375.55 L255.0,375.51 L256.5,375.47 L258.0,375.43 L259.5,375.39 L261.0,375.35 L262.5,375.31 L264.0,375.27 L265.5,375.23 L267.0,375.19 L268.5,375.15 L270.0,375.11 L271.5,375.07 L273.0,375.03 L274.5,374.99 L276.0,374.95 L277.5,374.91 L279.0,374.86 L280.5,374.82 L282.0,374.78 L283.5,374.74 L285.0,374.70 L286.5,374.66 L288.0,374.62 L289.5,374.58 L291.0,374.53 L292.5,374.49 L294.0,374.45 L295.5,374.41 L297.0,374.36 L298.5,374.32 L300.0,374.28 L301.5,374.23 L303.0,374.19 L304.5,374.14 L306.0,374.10 L307.5,374.05 L309.0,374.01 L310.5,373.96 L312.0,373.91 L313.5,373.86 L315.0,373.82 L316.5,373.77 L318.0,373.72 L319.5,373.67 L321.0,373.62 L322.5,373.57 L324.0,373.52 L325.5,373.47 L327.0,373.41 L328.5,373.36 L330.0,373.31 L331.5,373.25 L333.0,373.20 L334.5,373.14 L336.0,373.08 L337.5,373.03 L339.0,372.97 L340.5,372.91 L342.0,372.85 L343.5,372.79 L345.0,372.73 L346.5,372.67 L348.0,372.61 L349.5,372.54 L351.0,372.48 L352.5,372.41 L354.0,372.35 L355.5,372.28 L357.0,372.21 L358.5,372.14 L360.0,372.07 L361.5,372.00 L363.0,371.93 L364.5,371.86 L366.0,371.78 L367.5,371.71 L369.0,371.63 L370.5,371.56 L372.0,371.48 L373.5,371.40 L375.0,371.32 L376.5,371.24 L378.0,371.15 L379.5,371.07 L381.0,370.98 L382.5,370.90 L384.0,370.81 L385.5,370.72 L387.0,370.63 L388.5,370.54 L390.0,370.45 L391.5,370.36 L393.0,370.26 L394.5,370.16 L396.0,370.07 L397.5,369.97 L399.0,369.87 L400.5,369.77 L402.0,369.66 L403.5,369.56 L405.0,369.45 L406.5,369.35 L408.0,369.24 L409.5,369.13 L411.0,369.01 L412.5,368.90 L414.0,368.79 L415.5,368.67 L417.0,368.55 L418.5,368.43 L420.0,368.31 L421.5,368.19 L423.0,368.06 L424.5,367.94 L426.0,367.81 L427.5,367.68 L429.0,367.55 L430.5,367.42 L432.0,367.28 L433.5,367.15 L435.0,367.01 L436.5,366.87 L438.0,366.73 L439.5,366.59 L441.0,366.44 L442.5,366.29 L444.0,366.15 L445.5,366.00 L447.0,365.84 L448.5,365.69 L450.0,365.53 L451.5,365.38 L453.0,365.22 L454.5,365.05 L456.0,364.89 L457.5,364.72 L459.0,364.56 L460.5,364.39 L462.0,364.21 L463.5,364.04 L465.0,363.86 L466.5,363.69 L468.0,363.51 L469.5,363.32 L471.0,363.14 L472.5,362.95 L474.0,362.76 L475.5,362.57 L477.0,362.38 L478.5,362.19 L480.0,361.99 L481.5,361.79 L483.0,361.59 L484.5,361.38 L486.0,361.18 L487.5,360.97 L489.0,360.76 L490.5,360.54 L492.0,360.33 L493.5,360.11 L495.0,359.89 L496.5,359.67 L498.0,359.44 L499.5,359.21 L501.0,358.98 L502.5,358.75 L504.0,358.52 L505.5,358.28 L507.0,358.04 L508.5,357.80 L510.0,357.55 L511.5,357.30 L513.0,357.05 L514.5,356.80 L516.0,356.55 L517.5,356.29 L519.0,356.03 L520.5,355.77 L522.0,355.50 L523.5,355.23 L525.0,354.96 L526.5,354.69 L528.0,354.41 L529.5,354.13 L531.0,353.85 L532.5,353.56 L534.0,353.27 L535.5,352.98 L537.0,352.69 L538.5,352.39 L540.0,352.09 L541.5,351.79 L543.0,351.49 L544.5,351.18 L546.0,350.86 L547.5,350.55 L549.0,350.23 L550.5,349.91 L552.0,349.59 L553.5,349.26 L555.0,348.93 L556.5,348.59 L558.0,348.26 L559.5,347.92 L561.0,347.57 L562.5,347.22 L564.0,346.87 L565.5,346.52 L567.0,346.16 L568.5,345.80 L570.0,345.44 L571.5,345.07 L573.0,344.70 L574.5,344.32 L576.0,343.94 L577.5,343.56 L579.0,343.17 L580.5,342.78 L582.0,342.39 L583.5,342.00 L585.0,341.61 L586.5,341.23 L588.0,340.84 L589.5,340.45 L591.0,340.07 L592.5,339.70 L594.0,339.33 L595.5,338.96 L597.0,338.60 L598.5,338.25 L600.0,337.91 L601.5,337.58 L603.0,337.26 L604.5,336.95 L606.0,336.65 L607.5,336.36 L609.0,336.09 L610.5,335.83 L612.0,335.59 L613.5,335.37 L614.0,335.30 L615.5,334.57 L617.0,333.83 L618.5,333.10 L620.0,332.38 L621.5,331.65 L623.0,330.93 L624.5,330.20 L626.0,329.48 L627.5,328.75 L629.0,328.02 L630.5,327.29 L632.0,326.56 L633.5,325.83 L635.0,325.09 L636.5,324.35 L638.0,323.60 L639.5,322.85 L641.0,322.09 L642.5,321.33 L644.0,320.56 L645.5,319.78 L647.0,319.00 L648.5,318.21 L650.0,317.40 L651.5,316.59 L653.0,315.77 L654.5,314.94 L656.0,314.10 L657.5,313.25 L659.0,312.39 L660.5,311.51 L662.0,310.62 L663.5,309.72 L665.0,308.80 L666.5,307.87 L668.0,306.92 L669.5,305.96 L671.0,304.98 L672.5,303.99 L674.0,302.98 L675.5,301.95 L677.0,300.90 L678.0,300.19" stroke="#E46D81" stroke-width="2.30"/>
<path d="M174.0,424.30 L175.5,424.25 L177.0,424.19 L178.5,424.13 L180.0,424.08 L181.5,424.02 L183.0,423.96 L184.5,423.91 L186.0,423.85 L187.5,423.79 L189.0,423.73 L190.5,423.67 L192.0,423.62 L193.5,423.56 L195.0,423.50 L196.5,423.44 L198.0,423.38 L199.5,423.31 L201.0,423.25 L202.5,423.19 L204.0,423.13 L205.5,423.07 L207.0,423.00 L208.5,422.94 L210.0,422.87 L211.5,422.81 L213.0,422.74 L214.5,422.67 L216.0,422.60 L217.5,422.53 L219.0,422.47 L220.5,422.39 L222.0,422.32 L223.5,422.25 L225.0,422.18 L226.5,422.10 L228.0,422.03 L229.5,421.95 L231.0,421.88 L232.5,421.80 L234.0,421.72 L235.5,421.64 L237.0,421.56 L238.5,421.48 L240.0,421.39 L241.5,421.31 L243.0,421.22 L244.5,421.14 L246.0,421.05 L247.5,420.96 L249.0,420.87 L250.5,420.78 L252.0,420.68 L253.5,420.59 L255.0,420.49 L256.5,420.40 L258.0,420.30 L259.5,420.20 L261.0,420.10 L262.5,419.99 L264.0,419.89 L265.5,419.78 L267.0,419.68 L268.5,419.57 L270.0,419.46 L271.5,419.34 L273.0,419.23 L274.5,419.11 L276.0,419.00 L277.5,418.88 L279.0,418.76 L280.5,418.64 L282.0,418.51 L283.5,418.39 L285.0,418.26 L286.5,418.13 L288.0,418.00 L289.5,417.86 L291.0,417.73 L292.5,417.59 L294.0,417.45 L295.5,417.31 L297.0,417.17 L298.5,417.02 L300.0,416.87 L301.5,416.73 L303.0,416.57 L304.5,416.42 L306.0,416.26 L307.5,416.11 L309.0,415.95 L310.5,415.78 L312.0,415.62 L313.5,415.45 L315.0,415.28 L316.5,415.11 L318.0,414.94 L319.5,414.76 L321.0,414.58 L322.5,414.40 L324.0,414.22 L325.5,414.03 L327.0,413.85 L328.5,413.66 L330.0,413.46 L331.5,413.27 L333.0,413.07 L334.5,412.87 L336.0,412.66 L337.5,412.46 L339.0,412.25 L340.5,412.04 L342.0,411.82 L343.5,411.61 L345.0,411.39 L346.5,411.16 L348.0,410.94 L349.5,410.71 L351.0,410.48 L352.5,410.25 L354.0,410.01 L355.5,409.77 L357.0,409.53 L358.5,409.28 L360.0,409.03 L361.5,408.78 L363.0,408.53 L364.5,408.27 L366.0,408.01 L367.5,407.75 L369.0,407.48 L370.5,407.21 L372.0,406.94 L373.5,406.66 L375.0,406.38 L376.5,406.10 L378.0,405.81 L379.5,405.52 L381.0,405.23 L382.5,404.93 L384.0,404.63 L385.5,404.33 L387.0,404.03 L388.5,403.72 L390.0,403.40 L391.5,403.09 L393.0,402.77 L394.5,402.44 L396.0,402.12 L397.5,401.79 L399.0,401.45 L400.5,401.11 L402.0,400.77 L403.5,400.43 L405.0,400.08 L406.5,399.73 L408.0,399.37 L409.5,399.01 L411.0,398.65 L412.5,398.28 L414.0,397.91 L415.5,397.53 L417.0,397.15 L418.5,396.77 L420.0,396.38 L421.5,395.99 L423.0,395.60 L424.5,395.20 L426.0,394.80 L427.5,394.39 L429.0,393.98 L430.5,393.56 L432.0,393.15 L433.5,392.72 L435.0,392.30 L436.5,391.86 L438.0,391.43 L439.5,390.99 L441.0,390.54 L442.5,390.10 L444.0,389.64 L445.5,389.19 L447.0,388.73 L448.5,388.26 L450.0,387.79 L451.5,387.31 L453.0,386.83 L454.5,386.35 L456.0,385.86 L457.5,385.37 L459.0,384.87 L460.5,384.36 L462.0,383.85 L463.5,383.34 L465.0,382.82 L466.5,382.30 L468.0,381.77 L469.5,381.23 L471.0,380.69 L472.5,380.15 L474.0,379.60 L475.5,379.04 L477.0,378.48 L478.5,377.91 L480.0,377.34 L481.5,376.76 L483.0,376.18 L484.5,375.59 L486.0,374.99 L487.5,374.39 L489.0,373.78 L490.5,373.17 L492.0,372.55 L493.5,371.93 L495.0,371.29 L496.5,370.66 L498.0,370.01 L499.5,369.36 L501.0,368.71 L502.5,368.04 L504.0,367.37 L505.5,366.70 L507.0,366.01 L508.5,365.32 L510.0,364.63 L511.5,363.92 L513.0,363.21 L514.5,362.50 L516.0,361.78 L517.5,361.04 L519.0,360.31 L520.5,359.56 L522.0,358.81 L523.5,358.05 L525.0,357.29 L526.5,356.51 L528.0,355.73 L529.5,354.95 L531.0,354.15 L532.5,353.35 L534.0,352.54 L535.5,351.73 L537.0,350.91 L538.5,350.08 L540.0,349.24 L541.5,348.40 L543.0,347.55 L544.5,346.69 L546.0,345.83 L547.5,344.96 L549.0,344.08 L550.5,343.19 L552.0,342.30 L553.5,341.40 L555.0,340.50 L556.5,339.58 L558.0,338.66 L559.5,337.74 L561.0,336.80 L562.5,335.86 L564.0,334.91 L565.5,333.96 L567.0,333.00 L568.5,332.03 L570.0,331.06 L571.5,330.07 L573.0,329.08 L574.5,328.09 L576.0,327.09 L577.5,326.08 L579.0,325.06 L580.5,324.04 L582.0,323.00 L583.5,321.97 L585.0,320.92 L586.5,319.87 L588.0,318.82 L589.5,317.75 L591.0,316.68 L592.5,315.60 L594.0,314.52 L595.5,313.42 L597.0,312.33 L598.5,311.22 L600.0,310.11 L601.5,308.99 L603.0,307.86 L604.5,306.73 L606.0,305.59 L607.5,304.45 L609.0,303.29 L610.5,302.13 L612.0,300.97 L613.0,300.19" stroke="#131313" stroke-width="2.30"/>
<path d="M174.0,558.30 L175.5,558.26 L177.0,558.21 L178.5,558.17 L180.0,558.12 L181.5,558.08 L183.0,558.03 L184.5,557.98 L186.0,557.93 L187.5,557.88 L189.0,557.83 L190.5,557.77 L192.0,557.72 L193.5,557.66 L195.0,557.61 L196.5,557.55 L198.0,557.49 L199.5,557.43 L201.0,557.37 L202.5,557.30 L204.0,557.24 L205.5,557.17 L207.0,557.10 L208.5,557.04 L210.0,556.96 L211.5,556.89 L213.0,556.82 L214.5,556.75 L216.0,556.67 L217.5,556.59 L219.0,556.51 L220.5,556.43 L222.0,556.35 L223.5,556.27 L225.0,556.18 L226.5,556.09 L228.0,556.00 L229.5,555.91 L231.0,555.82 L232.5,555.73 L234.0,555.63 L235.5,555.53 L237.0,555.43 L238.5,555.33 L240.0,555.23 L241.5,555.12 L243.0,555.02 L244.5,554.91 L246.0,554.80 L247.5,554.68 L249.0,554.57 L250.5,554.45 L252.0,554.33 L253.5,554.21 L255.0,554.09 L256.5,553.96 L258.0,553.84 L259.5,553.71 L261.0,553.57 L262.5,553.44 L264.0,553.30 L265.5,553.17 L267.0,553.03 L268.5,552.88 L270.0,552.74 L271.5,552.59 L273.0,552.44 L274.5,552.29 L276.0,552.13 L277.5,551.98 L279.0,551.82 L280.5,551.66 L282.0,551.49 L283.5,551.33 L285.0,551.16 L286.5,550.98 L288.0,550.81 L289.5,550.63 L291.0,550.45 L292.5,550.27 L294.0,550.09 L295.5,549.90 L297.0,549.71 L298.5,549.51 L300.0,549.32 L301.5,549.12 L303.0,548.92 L304.5,548.72 L306.0,548.51 L307.5,548.30 L309.0,548.09 L310.5,547.87 L312.0,547.65 L313.5,547.43 L315.0,547.21 L316.5,546.98 L318.0,546.75 L319.5,546.52 L321.0,546.28 L322.5,546.04 L324.0,545.80 L325.5,545.55 L327.0,545.30 L328.5,545.05 L330.0,544.80 L331.5,544.54 L333.0,544.28 L334.5,544.01 L336.0,543.74 L337.5,543.47 L339.0,543.20 L340.5,542.92 L342.0,542.64 L343.5,542.35 L345.0,542.07 L346.5,541.77 L348.0,541.48 L349.5,541.18 L351.0,540.88 L352.5,540.57 L354.0,540.26 L355.5,539.95 L357.0,539.64 L358.5,539.32 L360.0,538.99 L361.5,538.67 L363.0,538.34 L364.5,538.00 L366.0,537.66 L367.5,537.32 L369.0,536.98 L370.5,536.63 L372.0,536.27 L373.5,535.92 L375.0,535.56 L376.5,535.19 L378.0,534.82 L379.5,534.45 L381.0,534.08 L382.5,533.70 L384.0,533.31 L385.5,532.92 L387.0,532.53 L388.5,532.14 L390.0,531.74 L391.5,531.33 L393.0,530.92 L394.5,530.51 L396.0,530.10 L397.5,529.67 L399.0,529.25 L400.5,528.82 L402.0,528.39 L403.5,527.95 L405.0,527.51 L406.5,527.06 L408.0,526.61 L409.5,526.16 L411.0,525.70 L412.5,525.23 L414.0,524.77 L415.5,524.29 L417.0,523.82 L418.5,523.34 L420.0,522.85 L421.5,522.36 L423.0,521.87 L424.5,521.37 L426.0,520.86 L427.5,520.35 L429.0,519.84 L430.5,519.32 L432.0,518.80 L433.5,518.28 L435.0,517.75 L436.5,517.21 L438.0,516.67 L439.5,516.13 L441.0,515.58 L442.5,515.03 L444.0,514.47 L445.5,513.91 L447.0,513.34 L448.5,512.77 L450.0,512.19 L451.5,511.61 L453.0,511.03 L454.5,510.44 L456.0,509.85 L457.5,509.25 L459.0,508.65 L460.5,508.05 L462.0,507.43 L463.5,506.82 L465.0,506.20 L466.5,505.58 L468.0,504.95 L469.5,504.32 L471.0,503.68 L472.5,503.04 L474.0,502.39 L475.5,501.75 L477.0,501.09 L478.5,500.43 L480.0,499.77 L481.5,499.10 L483.0,498.43 L484.5,497.76 L486.0,497.08 L487.5,496.39 L489.0,495.70 L490.5,495.01 L492.0,494.31 L493.5,493.61 L495.0,492.91 L496.5,492.20 L498.0,491.48 L499.5,490.76 L501.0,490.04 L502.5,489.31 L504.0,488.58 L505.5,487.85 L507.0,487.11 L508.5,486.36 L510.0,485.61 L511.5,484.86 L513.0,484.10 L514.5,483.34 L516.0,482.58 L517.5,481.81 L519.0,481.04 L520.5,480.26 L522.0,479.48 L523.5,478.69 L525.0,477.90 L526.5,477.10 L528.0,476.30 L529.5,475.50 L531.0,474.69 L532.5,473.88 L534.0,473.07 L535.5,472.25 L537.0,471.43 L538.5,470.60 L540.0,469.77 L541.5,468.93 L543.0,468.09 L544.5,467.25 L546.0,466.40 L547.5,465.55 L549.0,464.69 L550.5,463.83 L552.0,462.97 L553.5,462.10 L555.0,461.23 L556.5,460.36 L558.0,459.48 L559.5,458.59 L561.0,457.71 L562.5,456.82 L564.0,455.92 L565.5,455.03 L567.0,454.12 L568.5,453.22 L570.0,452.31 L571.5,451.40 L573.0,450.48 L574.5,449.56 L576.0,448.64 L577.5,447.72 L579.0,446.79 L580.5,445.86 L582.0,444.92 L583.5,443.98 L585.0,443.04 L586.5,442.10 L588.0,441.15 L589.5,440.20 L591.0,439.25 L592.5,438.30 L594.0,437.34 L595.5,436.38 L597.0,435.42 L598.5,434.46 L600.0,433.50 L601.5,432.53 L603.0,431.56 L604.5,430.59 L606.0,429.62 L607.5,428.64 L609.0,427.67 L610.5,426.69 L612.0,425.71 L613.5,424.73 L615.0,423.75 L616.5,422.77 L618.0,421.78 L619.5,420.80 L621.0,419.81 L622.5,418.82 L624.0,417.83 L625.5,416.85 L627.0,415.86 L628.5,414.87 L630.0,413.88 L631.5,412.88 L633.0,411.89 L634.5,410.90 L636.0,409.91 L637.5,408.91 L639.0,407.92 L640.5,406.93 L642.0,405.93 L643.5,404.94 L645.0,403.94 L646.5,402.94 L648.0,401.95 L649.5,400.95 L651.0,399.95 L652.5,398.95 L654.0,397.95 L655.5,396.95 L657.0,395.95 L658.5,394.95 L660.0,393.95 L661.5,392.95 L663.0,391.94 L664.5,390.94 L666.0,389.94 L667.5,388.93 L669.0,387.92 L670.5,386.92 L672.0,385.91 L673.5,384.90 L675.0,383.89 L676.5,382.88 L678.0,381.87 L679.5,380.86 L681.0,379.85 L682.5,378.84 L684.0,377.82 L685.5,376.81 L687.0,375.79 L688.5,374.78 L690.0,373.76 L691.5,372.74 L693.0,371.72 L694.5,370.71 L696.0,369.68 L697.5,368.66 L699.0,367.64 L700.5,366.62 L702.0,365.59 L703.5,364.56 L705.0,363.54 L706.5,362.51 L708.0,361.48 L709.5,360.44 L711.0,359.41 L712.5,358.37 L714.0,357.34 L715.5,356.30 L717.0,355.25 L718.5,354.21 L720.0,353.17 L721.5,352.12 L723.0,351.07 L724.5,350.02 L726.0,348.96 L727.5,347.91 L729.0,346.85 L730.5,345.79 L732.0,344.72 L733.5,343.66 L735.0,342.59 L736.5,341.51 L738.0,340.44 L739.5,339.36 L741.0,338.28 L742.5,337.20 L744.0,336.11 L745.5,335.02 L747.0,333.93 L748.5,332.83 L750.0,331.74 L751.5,330.63 L753.0,329.53 L754.5,328.42 L756.0,327.30 L757.5,326.19 L759.0,325.07 L760.5,323.94 L762.0,322.82 L763.5,321.69 L765.0,320.55 L766.5,319.41 L768.0,318.27 L769.5,317.12 L771.0,315.97 L772.5,314.81 L774.0,313.65 L775.5,312.49 L777.0,311.32 L778.5,310.15 L780.0,308.97 L781.5,307.79 L783.0,306.60 L784.5,305.41 L786.0,304.21 L787.5,303.01 L789.0,301.80 L790.5,300.59 L791.0,300.19" stroke="#131313" stroke-width="2.30"/>
<path d="M520.0,303.20 L521.5,303.18 L523.0,303.16 L524.5,303.15 L526.0,303.13 L527.5,303.12 L529.0,303.10 L530.5,303.09 L532.0,303.07 L533.5,303.06 L535.0,303.05 L536.5,303.04 L538.0,303.03 L539.5,303.02 L541.0,303.01 L542.5,303.00 L544.0,302.99 L545.5,302.99 L547.0,302.98 L548.5,302.97 L550.0,302.97 L551.5,302.96 L553.0,302.96 L554.5,302.95 L556.0,302.95 L557.5,302.94 L559.0,302.94 L560.5,302.93 L562.0,302.93 L563.5,302.92 L565.0,302.92 L566.5,302.92 L568.0,302.91 L569.5,302.91 L571.0,302.91 L572.5,302.90 L574.0,302.90 L575.5,302.90 L577.0,302.89 L578.5,302.89 L580.0,302.88 L581.5,302.88 L583.0,302.88 L584.5,302.87 L586.0,302.87 L587.5,302.86 L589.0,302.85 L590.5,302.85 L592.0,302.84 L593.5,302.84 L595.0,302.83 L596.5,302.82 L598.0,302.81 L599.5,302.80 L601.0,302.79 L602.5,302.78 L604.0,302.77 L605.5,302.76 L607.0,302.75 L608.5,302.74 L610.0,302.72 L611.5,302.71 L613.0,302.70 L614.5,302.68 L616.0,302.66 L617.5,302.65 L619.0,302.63 L620.5,302.61 L622.0,302.59 L623.5,302.57 L625.0,302.54 L626.5,302.52 L628.0,302.50 L629.5,302.47 L631.0,302.45 L632.5,302.42 L634.0,302.39 L635.5,302.36 L637.0,302.33 L638.5,302.29 L640.0,302.26 L641.5,302.23 L643.0,302.19 L644.5,302.15 L646.0,302.11 L647.5,302.07 L649.0,302.03 L650.5,301.99 L652.0,301.94 L653.5,301.89 L655.0,301.84 L656.5,301.79 L658.0,301.74 L659.5,301.69 L661.0,301.63 L662.5,301.58 L664.0,301.52 L665.5,301.46 L667.0,301.40 L668.5,301.33 L670.0,301.27 L671.5,301.20 L673.0,301.13 L674.5,301.06 L676.0,300.99 L677.5,300.91 L679.0,300.83 L680.5,300.75 L682.0,300.67 L683.5,300.59 L685.0,300.50 L686.5,300.41 L688.0,300.32 L689.5,300.23 L690.0,300.20" stroke="#79D769" stroke-width="2.30"/>
<path d="M520.0,297.00 L521.5,297.03 L523.0,297.05 L524.5,297.08 L526.0,297.10 L527.5,297.13 L529.0,297.15 L530.5,297.17 L532.0,297.19 L533.5,297.21 L535.0,297.23 L536.5,297.25 L538.0,297.26 L539.5,297.28 L541.0,297.29 L542.5,297.31 L544.0,297.32 L545.5,297.34 L547.0,297.35 L548.5,297.36 L550.0,297.37 L551.5,297.38 L553.0,297.39 L554.5,297.40 L556.0,297.41 L557.5,297.42 L559.0,297.43 L560.5,297.43 L562.0,297.44 L563.5,297.45 L565.0,297.46 L566.5,297.46 L568.0,297.47 L569.5,297.47 L571.0,297.48 L572.5,297.49 L574.0,297.49 L575.5,297.50 L577.0,297.50 L578.5,297.51 L580.0,297.51 L581.5,297.52 L583.0,297.52 L584.5,297.53 L586.0,297.54 L587.5,297.54 L589.0,297.55 L590.5,297.55 L592.0,297.56 L593.5,297.57 L595.0,297.57 L596.5,297.58 L598.0,297.59 L599.5,297.60 L601.0,297.61 L602.5,297.61 L604.0,297.62 L605.5,297.63 L607.0,297.64 L608.5,297.66 L610.0,297.67 L611.5,297.68 L613.0,297.69 L614.5,297.71 L616.0,297.72 L617.5,297.74 L619.0,297.75 L620.5,297.77 L622.0,297.79 L623.5,297.80 L625.0,297.82 L626.5,297.84 L628.0,297.86 L629.5,297.89 L631.0,297.91 L632.5,297.93 L634.0,297.96 L635.5,297.99 L637.0,298.01 L638.5,298.04 L640.0,298.07 L641.5,298.10 L643.0,298.14 L644.5,298.17 L646.0,298.20 L647.5,298.24 L649.0,298.28 L650.5,298.32 L652.0,298.36 L653.5,298.40 L655.0,298.44 L656.5,298.49 L658.0,298.54 L659.5,298.58 L661.0,298.63 L662.5,298.68 L664.0,298.74 L665.5,298.79 L667.0,298.85 L668.5,298.91 L670.0,298.97 L671.5,299.03 L673.0,299.09 L674.5,299.16 L676.0,299.23 L677.5,299.30 L679.0,299.37 L680.5,299.44 L682.0,299.52 L683.5,299.60 L685.0,299.68 L686.5,299.76 L688.0,299.84 L689.5,299.93 L691.0,300.02 L692.5,300.11 L694.0,300.20" stroke="#43A7EA" stroke-width="2.30"/>
<path d="M520.0,300.80 L521.5,300.80 L523.0,300.80 L524.5,300.80 L526.0,300.80 L527.5,300.80 L529.0,300.80 L530.5,300.80 L532.0,300.80 L533.5,300.80 L535.0,300.80 L536.5,300.79 L538.0,300.79 L539.5,300.79 L541.0,300.79 L542.5,300.79 L544.0,300.79 L545.5,300.79 L547.0,300.79 L548.5,300.78 L550.0,300.78 L551.5,300.78 L553.0,300.78 L554.5,300.78 L556.0,300.78 L557.5,300.77 L559.0,300.77 L560.5,300.77 L562.0,300.77 L563.5,300.77 L565.0,300.76 L566.5,300.76 L568.0,300.76 L569.5,300.76 L571.0,300.75 L572.5,300.75 L574.0,300.75 L575.5,300.75 L577.0,300.74 L578.5,300.74 L580.0,300.74 L581.5,300.74 L583.0,300.73 L584.5,300.73 L586.0,300.73 L587.5,300.72 L589.0,300.72 L590.5,300.72 L592.0,300.72 L593.5,300.71 L595.0,300.71 L596.5,300.71 L598.0,300.70 L599.5,300.70 L601.0,300.70 L602.5,300.69 L604.0,300.69 L605.5,300.69 L607.0,300.68 L608.5,300.68 L610.0,300.67 L611.5,300.67 L613.0,300.67 L614.5,300.66 L616.0,300.65 L617.5,300.65 L619.0,300.64 L620.5,300.64 L622.0,300.63 L623.5,300.63 L625.0,300.62 L626.5,300.61 L628.0,300.61 L629.5,300.60 L631.0,300.59 L632.5,300.58 L634.0,300.58 L635.5,300.57 L637.0,300.56 L638.5,300.55 L640.0,300.54 L641.5,300.54 L643.0,300.53 L644.5,300.52 L646.0,300.51 L647.5,300.50 L649.0,300.49 L650.5,300.48 L652.0,300.47 L653.5,300.46 L655.0,300.45 L656.5,300.44 L658.0,300.43 L659.5,300.42 L661.0,300.41 L662.5,300.40 L664.0,300.39 L665.5,300.38 L667.0,300.37 L668.5,300.36 L670.0,300.35 L671.5,300.34 L673.0,300.33 L674.5,300.32 L676.0,300.31 L677.5,300.30 L679.0,300.28 L680.5,300.27 L682.0,300.26 L683.5,300.25 L685.0,300.24 L686.5,300.23 L688.0,300.22 L689.5,300.20 L690.0,300.20" stroke="#AE34A9" stroke-width="2.53"/>
<path d="M174.0,145.81 L175.5,145.78 L177.0,145.75 L178.5,145.73 L180.0,145.71 L181.5,145.69 L183.0,145.67 L184.5,145.66 L186.0,145.64 L187.5,145.63 L189.0,145.62 L190.5,145.61 L192.0,145.61 L193.5,145.60 L195.0,145.60 L196.5,145.60 L198.0,145.60 L199.5,145.60 L201.0,145.61 L202.5,145.61 L204.0,145.62 L205.5,145.63 L207.0,145.64 L208.5,145.65 L210.0,145.67 L211.5,145.68 L213.0,145.70 L214.5,145.72 L216.0,145.74 L217.5,145.77 L219.0,145.79 L220.5,145.82 L222.0,145.85 L223.5,145.88 L225.0,145.91 L226.5,145.94 L228.0,145.98 L229.5,146.01 L231.0,146.05 L232.5,146.09 L234.0,146.14 L235.5,146.18 L237.0,146.23 L238.5,146.27 L240.0,146.32 L241.5,146.37 L243.0,146.43 L244.5,146.48 L246.0,146.54 L247.5,146.60 L249.0,146.66 L250.5,146.72 L252.0,146.78 L253.5,146.85 L255.0,146.91 L256.5,146.98 L258.0,147.05 L259.5,147.12 L261.0,147.19 L262.5,147.27 L264.0,147.35 L265.5,147.42 L267.0,147.50 L268.5,147.59 L270.0,147.67 L271.5,147.75 L273.0,147.84 L274.5,147.93 L276.0,148.02 L277.5,148.11 L279.0,148.20 L280.5,148.30 L282.0,148.40 L283.5,148.50 L285.0,148.60 L286.5,148.70 L288.0,148.80 L289.5,148.91 L291.0,149.01 L292.5,149.12 L294.0,149.23 L295.5,149.34 L297.0,149.46 L298.5,149.57 L300.0,149.69 L301.5,149.81 L303.0,149.93 L304.5,150.05 L306.0,150.17 L307.5,150.30 L309.0,150.42 L310.5,150.55 L312.0,150.68 L313.5,150.81 L315.0,150.95 L316.5,151.08 L318.0,151.22 L319.5,151.35 L321.0,151.49 L322.5,151.64 L324.0,151.78 L325.5,151.92 L327.0,152.07 L328.5,152.22 L330.0,152.37 L331.5,152.52 L333.0,152.67 L334.5,152.82 L336.0,152.98 L337.5,153.14 L339.0,153.30 L340.5,153.46 L342.0,153.62 L343.5,153.78 L345.0,153.95 L346.5,154.11 L348.0,154.28 L349.5,154.45 L351.0,154.62 L352.5,154.80 L354.0,154.97 L355.5,155.15 L357.0,155.33 L358.5,155.51 L360.0,155.69 L361.5,155.87 L363.0,156.06 L364.5,156.24 L366.0,156.43 L367.5,156.62 L369.0,156.81 L370.5,157.00 L372.0,157.19 L373.5,157.39 L375.0,157.59 L376.5,157.79 L378.0,157.99 L379.5,158.19 L381.0,158.39 L382.5,158.59 L384.0,158.80 L385.5,159.01 L387.0,159.22 L388.5,159.43 L390.0,159.64 L391.5,159.86 L393.0,160.07 L394.5,160.29 L396.0,160.51 L397.5,160.73 L399.0,160.95 L400.5,161.17 L402.0,161.40 L403.5,161.62 L405.0,161.85 L406.5,162.08 L408.0,162.31 L409.5,162.54 L411.0,162.78 L412.5,163.01 L414.0,163.25 L415.5,163.49 L417.0,163.73 L418.5,163.97 L420.0,164.21 L421.5,164.45 L423.0,164.70 L424.5,164.95 L426.0,165.20 L427.5,165.45 L429.0,165.70 L430.5,165.95 L432.0,166.21 L433.5,166.46 L435.0,166.72 L436.5,166.98 L438.0,167.24 L439.5,167.50 L441.0,167.77 L442.5,168.03 L444.0,168.30 L445.5,168.57 L447.0,168.84 L448.5,169.11 L450.0,169.38 L451.5,169.66 L453.0,169.93 L454.5,170.21 L456.0,170.49 L457.5,170.77 L459.0,171.05 L460.5,171.33 L462.0,171.61 L463.5,171.90 L465.0,172.19 L466.5,172.48 L468.0,172.77 L469.5,173.06 L471.0,173.35 L472.5,173.65 L474.0,173.94 L475.5,174.24 L477.0,174.54 L478.5,174.84 L480.0,175.14 L481.5,175.44 L483.0,175.75 L484.5,176.05 L486.0,176.36 L487.5,176.67 L489.0,176.98 L490.5,177.29 L492.0,177.60 L493.5,177.92 L495.0,178.23 L496.5,178.55 L498.0,178.87 L499.5,179.19 L501.0,179.51 L502.5,179.83 L504.0,180.16 L505.5,180.49 L507.0,180.81 L508.5,181.14 L510.0,181.47 L511.5,181.80 L513.0,182.13 L514.5,182.47 L516.0,182.80 L517.5,183.14 L519.0,183.48 L520.5,183.82 L522.0,184.16 L523.5,184.50 L525.0,184.85 L526.5,185.19 L528.0,185.54 L529.5,185.89 L531.0,186.24 L532.5,186.59 L534.0,186.94 L535.5,187.29 L537.0,187.65 L538.5,188.00 L540.0,188.36 L541.5,188.72 L543.0,189.08 L544.5,189.44 L546.0,189.80 L547.5,190.17 L549.0,190.53 L550.5,190.90 L552.0,191.27 L553.5,191.64 L555.0,192.01 L556.5,192.38 L558.0,192.76 L559.5,193.13 L561.0,193.51 L562.5,193.89 L564.0,194.27 L565.5,194.65 L567.0,195.03 L568.5,195.41 L570.0,195.80 L571.5,196.18 L573.0,196.57 L574.5,196.96 L576.0,197.35 L577.5,197.74 L579.0,198.13 L580.5,198.52 L582.0,198.92 L583.5,199.32 L585.0,199.71 L586.5,200.11 L588.0,200.51 L589.5,200.91 L591.0,201.32 L592.5,201.72 L594.0,202.13 L595.5,202.53 L597.0,202.94 L598.5,203.35 L600.0,203.76 L601.5,204.17 L603.0,204.59 L604.5,205.00 L606.0,205.42 L607.5,205.83 L609.0,206.25 L610.5,206.67 L612.0,207.09 L613.5,207.51 L615.0,207.94 L616.5,208.36 L618.0,208.79 L619.5,209.22 L621.0,209.64 L622.5,210.07 L624.0,210.50 L625.5,210.94 L627.0,211.37 L628.5,211.81 L630.0,212.24 L631.5,212.68 L633.0,213.12 L634.5,213.56 L636.0,214.00 L637.5,214.44 L639.0,214.88 L640.5,215.33 L642.0,215.77 L643.5,216.22 L645.0,216.67 L646.5,217.12 L648.0,217.57 L649.5,218.02 L651.0,218.48 L652.5,218.93 L654.0,219.39 L655.5,219.85 L657.0,220.31 L658.5,220.77 L660.0,221.23 L661.5,221.70 L663.0,222.17 L664.5,222.64 L666.0,223.12 L667.5,223.59 L669.0,224.07 L670.5,224.56 L672.0,225.05 L673.5,225.54 L675.0,226.04 L676.5,226.54 L678.0,227.04 L679.5,227.55 L681.0,228.07 L682.5,228.59 L684.0,229.11 L685.5,229.64 L687.0,230.17 L688.5,230.71 L690.0,231.26 L691.5,231.81 L693.0,232.37 L694.5,232.94 L696.0,233.51 L697.5,234.09 L699.0,234.67 L700.5,235.26 L702.0,235.86 L703.5,236.47 L705.0,237.08 L706.5,237.70 L708.0,238.33 L709.5,238.97 L711.0,239.62 L712.5,240.27 L714.0,240.93 L715.5,241.61 L717.0,242.29 L718.5,242.98 L720.0,243.68 L721.5,244.39 L723.0,245.10 L724.5,245.83 L726.0,246.57 L727.5,247.32 L729.0,248.08 L730.5,248.85 L732.0,249.63 L733.5,250.42 L735.0,251.22 L736.5,252.04 L738.0,252.86 L739.5,253.70 L741.0,254.55 L742.5,255.41 L744.0,256.28 L745.5,257.17 L747.0,258.07 L748.5,258.98 L750.0,259.90 L751.5,260.84 L753.0,261.79 L754.5,262.75 L756.0,263.73 L757.5,264.72 L759.0,265.73 L760.5,266.74 L762.0,267.78 L763.5,268.82 L765.0,269.88 L766.5,270.95 L768.0,272.03 L769.5,273.13 L771.0,274.23 L772.5,275.35 L774.0,276.48 L775.5,277.62 L777.0,278.76 L778.5,279.92 L780.0,281.09 L781.5,282.27 L783.0,283.46 L784.5,284.65 L786.0,285.85 L787.5,287.07 L789.0,288.28 L790.5,289.51 L792.0,290.74 L793.5,291.98 L795.0,293.23 L796.5,294.48 L798.0,295.74 L799.5,297.01 L801.0,298.28 L802.5,299.55 L803.3,300.23" stroke="#131313" stroke-width="2.30"/>
<path d="M174.0,111.01 L175.5,110.98 L177.0,110.95 L178.5,110.92 L180.0,110.89 L181.5,110.87 L183.0,110.84 L184.5,110.82 L186.0,110.80 L187.5,110.78 L189.0,110.76 L190.5,110.75 L192.0,110.73 L193.5,110.72 L195.0,110.71 L196.5,110.70 L198.0,110.69 L199.5,110.68 L201.0,110.67 L202.5,110.67 L204.0,110.66 L205.5,110.66 L207.0,110.66 L208.5,110.66 L210.0,110.66 L211.5,110.66 L213.0,110.67 L214.5,110.67 L216.0,110.68 L217.5,110.69 L219.0,110.70 L220.5,110.71 L222.0,110.73 L223.5,110.74 L225.0,110.76 L226.5,110.77 L228.0,110.79 L229.5,110.81 L231.0,110.84 L232.5,110.86 L234.0,110.88 L235.5,110.91 L237.0,110.94 L238.5,110.97 L240.0,111.00 L241.5,111.03 L243.0,111.06 L244.5,111.10 L246.0,111.13 L247.5,111.17 L249.0,111.21 L250.5,111.25 L252.0,111.29 L253.5,111.34 L255.0,111.38 L256.5,111.43 L258.0,111.48 L259.5,111.53 L261.0,111.58 L262.5,111.63 L264.0,111.69 L265.5,111.74 L267.0,111.80 L268.5,111.86 L270.0,111.92 L271.5,111.98 L273.0,112.04 L274.5,112.11 L276.0,112.17 L277.5,112.24 L279.0,112.31 L280.5,112.38 L282.0,112.45 L283.5,112.53 L285.0,112.60 L286.5,112.68 L288.0,112.76 L289.5,112.84 L291.0,112.92 L292.5,113.00 L294.0,113.09 L295.5,113.17 L297.0,113.26 L298.5,113.35 L300.0,113.44 L301.5,113.53 L303.0,113.62 L304.5,113.72 L306.0,113.82 L307.5,113.91 L309.0,114.01 L310.5,114.11 L312.0,114.22 L313.5,114.32 L315.0,114.43 L316.5,114.54 L318.0,114.64 L319.5,114.75 L321.0,114.87 L322.5,114.98 L324.0,115.10 L325.5,115.21 L327.0,115.33 L328.5,115.45 L330.0,115.57 L331.5,115.70 L333.0,115.82 L334.5,115.95 L336.0,116.08 L337.5,116.20 L339.0,116.34 L340.5,116.47 L342.0,116.60 L343.5,116.74 L345.0,116.88 L346.5,117.02 L348.0,117.16 L349.5,117.30 L351.0,117.44 L352.5,117.59 L354.0,117.73 L355.5,117.88 L357.0,118.03 L358.5,118.19 L360.0,118.34 L361.5,118.49 L363.0,118.65 L364.5,118.81 L366.0,118.97 L367.5,119.13 L369.0,119.29 L370.5,119.46 L372.0,119.63 L373.5,119.79 L375.0,119.96 L376.5,120.13 L378.0,120.31 L379.5,120.48 L381.0,120.66 L382.5,120.84 L384.0,121.02 L385.5,121.20 L387.0,121.38 L388.5,121.56 L390.0,121.75 L391.5,121.94 L393.0,122.13 L394.5,122.32 L396.0,122.51 L397.5,122.71 L399.0,122.90 L400.5,123.10 L402.0,123.30 L403.5,123.50 L405.0,123.70 L406.5,123.91 L408.0,124.11 L409.5,124.32 L411.0,124.53 L412.5,124.74 L414.0,124.96 L415.5,125.17 L417.0,125.39 L418.5,125.61 L420.0,125.82 L421.5,126.05 L423.0,126.27 L424.5,126.49 L426.0,126.72 L427.5,126.95 L429.0,127.18 L430.5,127.41 L432.0,127.64 L433.5,127.88 L435.0,128.11 L436.5,128.35 L438.0,128.59 L439.5,128.84 L441.0,129.08 L442.5,129.32 L444.0,129.57 L445.5,129.82 L447.0,130.07 L448.5,130.32 L450.0,130.58 L451.5,130.83 L453.0,131.09 L454.5,131.35 L456.0,131.61 L457.5,131.87 L459.0,132.14 L460.5,132.40 L462.0,132.67 L463.5,132.94 L465.0,133.21 L466.5,133.48 L468.0,133.76 L469.5,134.04 L471.0,134.31 L472.5,134.59 L474.0,134.88 L475.5,135.16 L477.0,135.44 L478.5,135.73 L480.0,136.02 L481.5,136.31 L483.0,136.60 L484.5,136.90 L486.0,137.19 L487.5,137.49 L489.0,137.79 L490.5,138.09 L492.0,138.40 L493.5,138.70 L495.0,139.01 L496.5,139.32 L498.0,139.63 L499.5,139.94 L501.0,140.25 L502.5,140.57 L504.0,140.89 L505.5,141.21 L507.0,141.53 L508.5,141.85 L510.0,142.17 L511.5,142.50 L513.0,142.83 L514.5,143.16 L516.0,143.49 L517.5,143.83 L519.0,144.16 L520.5,144.50 L522.0,144.84 L523.5,145.18 L525.0,145.52 L526.5,145.87 L528.0,146.21 L529.5,146.56 L531.0,146.91 L532.5,147.26 L534.0,147.62 L535.5,147.97 L537.0,148.33 L538.5,148.69 L540.0,149.05 L541.5,149.42 L543.0,149.78 L544.5,150.15 L546.0,150.52 L547.5,150.89 L549.0,151.26 L550.5,151.63 L552.0,152.01 L553.5,152.39 L555.0,152.77 L556.5,153.15 L558.0,153.53 L559.5,153.92 L561.0,154.31 L562.5,154.70 L564.0,155.09 L565.5,155.48 L567.0,155.87 L568.5,156.27 L570.0,156.67 L571.5,157.07 L573.0,157.47 L574.5,157.88 L576.0,158.28 L577.5,158.69 L579.0,159.10 L580.5,159.51 L582.0,159.93 L583.5,160.34 L585.0,160.76 L586.5,161.18 L588.0,161.60 L589.5,162.03 L591.0,162.45 L592.5,162.88 L594.0,163.31 L595.5,163.74 L597.0,164.17 L598.5,164.61 L600.0,165.04 L601.5,165.48 L603.0,165.92 L604.5,166.37 L606.0,166.81 L607.5,167.26 L609.0,167.71 L610.5,168.16 L612.0,168.61 L613.5,169.06 L615.0,169.52 L616.5,169.98 L618.0,170.44 L619.5,170.90 L621.0,171.36 L622.5,171.83 L624.0,172.30 L625.5,172.77 L627.0,173.24 L628.5,173.71 L630.0,174.19 L631.5,174.67 L633.0,175.15 L634.5,175.63 L636.0,176.11 L637.5,176.60 L639.0,177.08 L640.5,177.57 L642.0,178.07 L643.5,178.56 L645.0,179.05 L646.5,179.55 L648.0,180.05 L649.5,180.55 L651.0,181.06 L652.5,181.56 L654.0,182.07 L655.5,182.58 L657.0,183.09 L658.5,183.61 L660.0,184.12 L661.5,184.64 L663.0,185.16 L664.5,185.68 L666.0,186.21 L667.5,186.74 L669.0,187.27 L670.5,187.80 L672.0,188.34 L673.5,188.88 L675.0,189.42 L676.5,189.96 L678.0,190.51 L679.5,191.05 L681.0,191.61 L682.5,192.16 L684.0,192.72 L685.5,193.28 L687.0,193.84 L688.5,194.41 L690.0,194.98 L691.5,195.55 L693.0,196.13 L694.5,196.70 L696.0,197.29 L697.5,197.87 L699.0,198.46 L700.5,199.05 L702.0,199.65 L703.5,200.25 L705.0,200.85 L706.5,201.45 L708.0,202.06 L709.5,202.68 L711.0,203.29 L712.5,203.91 L714.0,204.54 L715.5,205.16 L717.0,205.80 L718.5,206.43 L720.0,207.07 L721.5,207.71 L723.0,208.36 L724.5,209.01 L726.0,209.67 L727.5,210.33 L729.0,210.99 L730.5,211.66 L732.0,212.33 L733.5,213.00 L735.0,213.68 L736.5,214.37 L738.0,215.06 L739.5,215.75 L741.0,216.45 L742.5,217.15 L744.0,217.86 L745.5,218.57 L747.0,219.28 L748.5,220.00 L750.0,220.73 L751.5,221.46 L753.0,222.19 L754.5,222.93 L756.0,223.68 L757.5,224.43 L759.0,225.18 L760.5,225.94 L762.0,226.70 L763.5,227.47 L765.0,228.25 L766.5,229.03 L768.0,229.81 L769.5,230.60 L771.0,231.40 L772.5,232.20 L774.0,233.00 L775.5,233.82 L777.0,234.63 L778.5,235.45 L780.0,236.28 L781.5,237.12 L783.0,237.95 L784.5,238.80 L786.0,239.65 L787.5,240.51 L789.0,241.38 L790.5,242.25 L792.0,243.14 L793.5,244.03 L795.0,244.93 L796.5,245.84 L798.0,246.76 L799.5,247.69 L801.0,248.63 L802.5,249.58 L804.0,250.54 L805.5,251.52 L807.0,252.50 L808.5,253.50 L810.0,254.51 L811.5,255.54 L813.0,256.58 L814.5,257.63 L816.0,258.70 L817.5,259.78 L819.0,260.88 L820.5,261.99 L822.0,263.12 L823.5,264.26 L825.0,265.42 L826.5,266.60 L828.0,267.80 L829.5,269.01 L831.0,270.24 L832.5,271.49 L834.0,272.76 L835.5,274.05 L837.0,275.36 L838.5,276.68 L840.0,278.03 L841.5,279.40 L843.0,280.79 L844.5,282.21 L846.0,283.64 L847.5,285.10 L849.0,286.58 L850.5,288.08 L852.0,289.61 L853.5,291.16 L855.0,292.73 L856.5,294.33 L858.0,295.95 L859.5,297.60 L861.0,299.28 L861.8,300.18" stroke="#43A7EA" stroke-width="2.30"/>
<path d="M688,300.2 L805,300.2" stroke="#A014B4" stroke-width="2.4"/>
<path d="M804,300.2 L862,300.2" stroke="#000" stroke-width="2.2"/>
</g>
<rect x="147" y="93" width="743" height="483" fill="none" stroke="#000" stroke-width="2"/>
<line x1="216.2" y1="576" x2="216.2" y2="594" stroke="#000" stroke-width="2"/>
<line x1="216.2" y1="93" x2="216.2" y2="87" stroke="#000" stroke-width="2"/>
<line x1="318.9" y1="576" x2="318.9" y2="594" stroke="#000" stroke-width="2"/>
<line x1="318.9" y1="93" x2="318.9" y2="87" stroke="#000" stroke-width="2"/>
<line x1="421.6" y1="576" x2="421.6" y2="594" stroke="#000" stroke-width="2"/>
<line x1="421.6" y1="93" x2="421.6" y2="87" stroke="#000" stroke-width="2"/>
<line x1="524.3" y1="576" x2="524.3" y2="594" stroke="#000" stroke-width="2"/>
<line x1="524.3" y1="93" x2="524.3" y2="87" stroke="#000" stroke-width="2"/>
<line x1="627.0" y1="576" x2="627.0" y2="594" stroke="#000" stroke-width="2"/>
<line x1="627.0" y1="93" x2="627.0" y2="87" stroke="#000" stroke-width="2"/>
<line x1="729.7" y1="576" x2="729.7" y2="594" stroke="#000" stroke-width="2"/>
<line x1="729.7" y1="93" x2="729.7" y2="87" stroke="#000" stroke-width="2"/>
<line x1="832.4" y1="576" x2="832.4" y2="594" stroke="#000" stroke-width="2"/>
<line x1="832.4" y1="93" x2="832.4" y2="87" stroke="#000" stroke-width="2"/>
<line x1="129" y1="100.4" x2="147" y2="100.4" stroke="#000" stroke-width="2"/>
<line x1="129" y1="167.1" x2="147" y2="167.1" stroke="#000" stroke-width="2"/>
<line x1="129" y1="233.7" x2="147" y2="233.7" stroke="#000" stroke-width="2"/>
<line x1="129" y1="300.4" x2="147" y2="300.4" stroke="#000" stroke-width="2"/>
<line x1="129" y1="367.0" x2="147" y2="367.0" stroke="#000" stroke-width="2"/>
<line x1="129" y1="433.6" x2="147" y2="433.6" stroke="#000" stroke-width="2"/>
<line x1="129" y1="500.3" x2="147" y2="500.3" stroke="#000" stroke-width="2"/>
<line x1="129" y1="567.0" x2="147" y2="567.0" stroke="#000" stroke-width="2"/>
<text x="216.2" y="50.8" class="ta" text-anchor="middle">42</text>
<text x="318.9" y="50.8" class="ta" text-anchor="middle">42</text>
<text x="421.6" y="50.8" class="ta" text-anchor="middle">39</text>
<text x="524.3" y="50.8" class="ta" text-anchor="middle">34</text>
<text x="627.0" y="50.8" class="ta" text-anchor="middle">22</text>
<text x="729.7" y="50.8" class="ta" text-anchor="middle">6</text>
<text x="832.4" y="50.8" class="ta" text-anchor="middle">2</text>
<text x="216.2" y="638.3" class="ta" text-anchor="middle">−8</text>
<text x="318.9" y="638.3" class="ta" text-anchor="middle">−7</text>
<text x="421.6" y="638.3" class="ta" text-anchor="middle">−6</text>
<text x="524.3" y="638.3" class="ta" text-anchor="middle">−5</text>
<text x="627.0" y="638.3" class="ta" text-anchor="middle">−4</text>
<text x="729.7" y="638.3" class="ta" text-anchor="middle">−3</text>
<text x="832.4" y="638.3" class="ta" text-anchor="middle">−2</text>
<text transform="translate(105.3,100.4) rotate(-90)" class="ta" text-anchor="middle">3</text>
<text transform="translate(105.3,167.1) rotate(-90)" class="ta" text-anchor="middle">2</text>
<text transform="translate(105.3,233.7) rotate(-90)" class="ta" text-anchor="middle">1</text>
<text transform="translate(105.3,300.4) rotate(-90)" class="ta" text-anchor="middle">0</text>
<text transform="translate(105.3,367.0) rotate(-90)" class="ta" text-anchor="middle">−1</text>
<text transform="translate(105.3,433.6) rotate(-90)" class="ta" text-anchor="middle">−2</text>
<text transform="translate(105.3,500.3) rotate(-90)" class="ta" text-anchor="middle">−3</text>
<text transform="translate(105.3,567.0) rotate(-90)" class="ta" text-anchor="middle">−4</text>
<text transform="translate(36,334.8) rotate(-90)" class="t" text-anchor="middle">Coefficients</text>
<text x="518.5" y="706.7" class="t" text-anchor="middle">Log Lambda</text>
<text transform="translate(23,54) scale(0.96,1)" class="big">A</text>
<path d="M181.4,890.5V1112.9M174.4,890.5h14M174.4,1112.9h14M190.7,892.7V1113.9M183.7,892.7h14M183.7,1113.9h14M199.9,895.0V1115.0M192.9,895.0h14M192.9,1115.0h14M209.2,897.6V1116.3M202.2,897.6h14M202.2,1116.3h14M218.5,900.3V1117.7M211.5,900.3h14M211.5,1117.7h14M227.8,903.3V1119.3M220.8,903.3h14M220.8,1119.3h14M237.0,906.4V1121.1M230.0,906.4h14M230.0,1121.1h14M246.3,909.8V1122.9M239.3,909.8h14M239.3,1122.9h14M255.6,913.4V1125.0M248.6,913.4h14M248.6,1125.0h14M264.9,917.2V1127.1M257.9,917.2h14M257.9,1127.1h14M274.1,921.2V1129.4M267.1,921.2h14M267.1,1129.4h14M283.4,925.5V1131.8M276.4,925.5h14M276.4,1131.8h14M292.7,930.1V1134.4M285.7,930.1h14M285.7,1134.4h14M302.0,934.8V1137.0M295.0,934.8h14M295.0,1137.0h14M311.2,939.8V1139.8M304.2,939.8h14M304.2,1139.8h14M320.5,945.1V1142.7M313.5,945.1h14M313.5,1142.7h14M329.8,950.7V1145.7M322.8,950.7h14M322.8,1145.7h14M339.1,956.5V1148.8M332.1,956.5h14M332.1,1148.8h14M348.3,962.5V1152.0M341.3,962.5h14M341.3,1152.0h14M357.6,968.9V1155.3M350.6,968.9h14M350.6,1155.3h14M366.9,975.5V1158.8M359.9,975.5h14M359.9,1158.8h14M376.1,982.4V1162.3M369.1,982.4h14M369.1,1162.3h14M385.4,989.6V1166.0M378.4,989.6h14M378.4,1166.0h14M394.7,997.1V1169.8M387.7,997.1h14M387.7,1169.8h14M404.0,1004.8V1173.9M397.0,1004.8h14M397.0,1173.9h14M413.2,1012.9V1178.0M406.2,1012.9h14M406.2,1178.0h14M422.5,1021.3V1182.4M415.5,1021.3h14M415.5,1182.4h14M431.8,1030.0V1187.0M424.8,1030.0h14M424.8,1187.0h14M441.1,1038.9V1191.8M434.1,1038.9h14M434.1,1191.8h14M450.3,1048.1V1196.8M443.3,1048.1h14M443.3,1196.8h14M459.6,1057.5V1201.8M452.6,1057.5h14M452.6,1201.8h14M468.9,1066.9V1206.9M461.9,1066.9h14M461.9,1206.9h14M478.2,1076.4V1212.0M471.2,1076.4h14M471.2,1212.0h14M487.4,1085.9V1217.0M480.4,1085.9h14M480.4,1217.0h14M496.7,1095.2V1221.9M489.7,1095.2h14M489.7,1221.9h14M506.0,1104.3V1226.5M499.0,1104.3h14M499.0,1226.5h14M515.2,1113.2V1230.9M508.2,1113.2h14M508.2,1230.9h14M524.5,1121.7V1235.0M517.5,1121.7h14M517.5,1235.0h14M533.8,1130.0V1238.8M526.8,1130.0h14M526.8,1238.8h14M543.1,1137.9V1242.3M536.1,1137.9h14M536.1,1242.3h14M552.3,1145.6V1245.6M545.3,1145.6h14M545.3,1245.6h14M561.6,1153.1V1248.8M554.6,1153.1h14M554.6,1248.8h14M570.9,1160.4V1251.8M563.9,1160.4h14M563.9,1251.8h14M580.2,1167.4V1254.7M573.2,1167.4h14M573.2,1254.7h14M589.4,1174.1V1257.3M582.4,1174.1h14M582.4,1257.3h14M598.7,1180.5V1259.7M591.7,1180.5h14M591.7,1259.7h14M608.0,1186.5V1261.9M601.0,1186.5h14M601.0,1261.9h14M617.3,1192.1V1263.9M610.3,1192.1h14M610.3,1263.9h14M626.5,1197.3V1265.5M619.5,1197.3h14M619.5,1265.5h14M635.8,1202.0V1266.8M628.8,1202.0h14M628.8,1266.8h14M645.1,1206.1V1267.8M638.1,1206.1h14M638.1,1267.8h14M654.4,1209.7V1268.3M647.4,1209.7h14M647.4,1268.3h14M663.6,1212.6V1268.5M656.6,1212.6h14M656.6,1268.5h14M672.9,1214.9V1268.2M665.9,1214.9h14M665.9,1268.2h14M682.2,1216.5V1267.4M675.2,1216.5h14M675.2,1267.4h14M691.4,1217.3V1266.1M684.4,1217.3h14M684.4,1266.1h14M700.7,1217.4V1264.3M693.7,1217.4h14M693.7,1264.3h14M710.0,1216.7V1262.0M703.0,1216.7h14M703.0,1262.0h14M719.3,1215.3V1259.1M712.3,1215.3h14M712.3,1259.1h14M728.5,1213.2V1255.6M721.5,1213.2h14M721.5,1255.6h14M737.8,1210.2V1251.5M730.8,1210.2h14M730.8,1251.5h14M747.1,1206.1V1246.4M740.1,1206.1h14M740.1,1246.4h14M756.4,1200.6V1239.9M749.4,1200.6h14M749.4,1239.9h14M765.6,1194.1V1232.7M758.6,1194.1h14M758.6,1232.7h14M774.9,1187.3V1225.1M767.9,1187.3h14M767.9,1225.1h14M784.2,1180.3V1217.6M777.2,1180.3h14M777.2,1217.6h14M793.5,1173.3V1209.9M786.5,1173.3h14M786.5,1209.9h14M802.7,1165.9V1202.0M795.7,1165.9h14M795.7,1202.0h14M812.0,1158.1V1193.7M805.0,1158.1h14M805.0,1193.7h14M821.3,1150.0V1185.0M814.3,1150.0h14M814.3,1185.0h14M830.6,1142.1V1176.6M823.6,1142.1h14M823.6,1176.6h14M839.8,1135.0V1169.0M832.8,1135.0h14M832.8,1169.0h14M849.1,1129.9V1163.3M842.1,1129.9h14M842.1,1163.3h14" stroke="#B9B9B9" stroke-width="2" fill="none"/>
<g fill="#FF0000"><circle cx="181.4" cy="1001.7" r="5.4"/><circle cx="190.7" cy="1003.3" r="5.4"/><circle cx="199.9" cy="1005.0" r="5.4"/><circle cx="209.2" cy="1006.9" r="5.4"/><circle cx="218.5" cy="1009.0" r="5.4"/><circle cx="227.8" cy="1011.3" r="5.4"/><circle cx="237.0" cy="1013.7" r="5.4"/><circle cx="246.3" cy="1016.4" r="5.4"/><circle cx="255.6" cy="1019.2" r="5.4"/><circle cx="264.9" cy="1022.2" r="5.4"/><circle cx="274.1" cy="1025.3" r="5.4"/><circle cx="283.4" cy="1028.7" r="5.4"/><circle cx="292.7" cy="1032.2" r="5.4"/><circle cx="302.0" cy="1035.9" r="5.4"/><circle cx="311.2" cy="1039.8" r="5.4"/><circle cx="320.5" cy="1043.9" r="5.4"/><circle cx="329.8" cy="1048.2" r="5.4"/><circle cx="339.1" cy="1052.6" r="5.4"/><circle cx="348.3" cy="1057.3" r="5.4"/><circle cx="357.6" cy="1062.1" r="5.4"/><circle cx="366.9" cy="1067.1" r="5.4"/><circle cx="376.1" cy="1072.4" r="5.4"/><circle cx="385.4" cy="1077.8" r="5.4"/><circle cx="394.7" cy="1083.5" r="5.4"/><circle cx="404.0" cy="1089.4" r="5.4"/><circle cx="413.2" cy="1095.5" r="5.4"/><circle cx="422.5" cy="1101.9" r="5.4"/><circle cx="431.8" cy="1108.5" r="5.4"/><circle cx="441.1" cy="1115.4" r="5.4"/><circle cx="450.3" cy="1122.5" r="5.4"/><circle cx="459.6" cy="1129.7" r="5.4"/><circle cx="468.9" cy="1136.9" r="5.4"/><circle cx="478.2" cy="1144.2" r="5.4"/><circle cx="487.4" cy="1151.4" r="5.4"/><circle cx="496.7" cy="1158.5" r="5.4"/><circle cx="506.0" cy="1165.4" r="5.4"/><circle cx="515.2" cy="1172.0" r="5.4"/><circle cx="524.5" cy="1178.4" r="5.4"/><circle cx="533.8" cy="1184.4" r="5.4"/><circle cx="543.1" cy="1190.1" r="5.4"/><circle cx="552.3" cy="1195.6" r="5.4"/><circle cx="561.6" cy="1201.0" r="5.4"/><circle cx="570.9" cy="1206.1" r="5.4"/><circle cx="580.2" cy="1211.0" r="5.4"/><circle cx="589.4" cy="1215.7" r="5.4"/><circle cx="598.7" cy="1220.1" r="5.4"/><circle cx="608.0" cy="1224.2" r="5.4"/><circle cx="617.3" cy="1228.0" r="5.4"/><circle cx="626.5" cy="1231.4" r="5.4"/><circle cx="635.8" cy="1234.4" r="5.4"/><circle cx="645.1" cy="1236.9" r="5.4"/><circle cx="654.4" cy="1239.0" r="5.4"/><circle cx="663.6" cy="1240.5" r="5.4"/><circle cx="672.9" cy="1241.5" r="5.4"/><circle cx="682.2" cy="1241.9" r="5.4"/><circle cx="691.4" cy="1241.7" r="5.4"/><circle cx="700.7" cy="1240.8" r="5.4"/><circle cx="710.0" cy="1239.4" r="5.4"/><circle cx="719.3" cy="1237.2" r="5.4"/><circle cx="728.5" cy="1234.4" r="5.4"/><circle cx="737.8" cy="1230.9" r="5.4"/><circle cx="747.1" cy="1226.2" r="5.4"/><circle cx="756.4" cy="1220.2" r="5.4"/><circle cx="765.6" cy="1213.4" r="5.4"/><circle cx="774.9" cy="1206.2" r="5.4"/><circle cx="784.2" cy="1198.9" r="5.4"/><circle cx="793.5" cy="1191.6" r="5.4"/><circle cx="802.7" cy="1183.9" r="5.4"/><circle cx="812.0" cy="1175.9" r="5.4"/><circle cx="821.3" cy="1167.5" r="5.4"/><circle cx="830.6" cy="1159.3" r="5.4"/><circle cx="839.8" cy="1152.0" r="5.4"/><circle cx="849.1" cy="1146.6" r="5.4"/></g>
<path d="M682,876V1281.7M756.2,876V1281.7" stroke="#333" stroke-width="2" stroke-dasharray="2 6" stroke-dashoffset="-5"/>
<rect x="155.3" y="875" width="720.3" height="407.7" fill="none" stroke="#000" stroke-width="2"/>
<line x1="221.9" y1="1282.7" x2="221.9" y2="1301.5" stroke="#000" stroke-width="2"/>
<line x1="321.5" y1="1282.7" x2="321.5" y2="1301.5" stroke="#000" stroke-width="2"/>
<line x1="421.1" y1="1282.7" x2="421.1" y2="1301.5" stroke="#000" stroke-width="2"/>
<line x1="520.8" y1="1282.7" x2="520.8" y2="1301.5" stroke="#000" stroke-width="2"/>
<line x1="620.4" y1="1282.7" x2="620.4" y2="1301.5" stroke="#000" stroke-width="2"/>
<line x1="720.0" y1="1282.7" x2="720.0" y2="1301.5" stroke="#000" stroke-width="2"/>
<line x1="819.6" y1="1282.7" x2="819.6" y2="1301.5" stroke="#000" stroke-width="2"/>
<line x1="136" y1="931.9" x2="155.3" y2="931.9" stroke="#000" stroke-width="2"/>
<line x1="136" y1="1021.5" x2="155.3" y2="1021.5" stroke="#000" stroke-width="2"/>
<line x1="136" y1="1111.1" x2="155.3" y2="1111.1" stroke="#000" stroke-width="2"/>
<line x1="136" y1="1200.8" x2="155.3" y2="1200.8" stroke="#000" stroke-width="2"/>
<text x="221.9" y="1350.3" class="tb" text-anchor="middle">−8</text>
<text x="321.5" y="1350.3" class="tb" text-anchor="middle">−7</text>
<text x="421.1" y="1350.3" class="tb" text-anchor="middle">−6</text>
<text x="520.8" y="1350.3" class="tb" text-anchor="middle">−5</text>
<text x="620.4" y="1350.3" class="tb" text-anchor="middle">−4</text>
<text x="720.0" y="1350.3" class="tb" text-anchor="middle">−3</text>
<text x="819.6" y="1350.3" class="tb" text-anchor="middle">−2</text>
<text transform="translate(110,931.9) rotate(-90)" class="tb" text-anchor="middle">1.8</text>
<text transform="translate(110,1021.5) rotate(-90)" class="tb" text-anchor="middle">1.6</text>
<text transform="translate(110,1111.1) rotate(-90)" class="tb" text-anchor="middle">1.4</text>
<text transform="translate(110,1200.8) rotate(-90)" class="tb" text-anchor="middle">1.2</text>
<text x="182.0" y="830" class="tb" text-anchor="middle">42</text>
<text x="245.6" y="830" class="tb" text-anchor="middle">42</text>
<text x="310.0" y="830" class="tb" text-anchor="middle">41</text>
<text x="376.0" y="830" class="tb" text-anchor="middle">39</text>
<text x="441.0" y="830" class="tb" text-anchor="middle">38</text>
<text x="506.0" y="830" class="tb" text-anchor="middle">34</text>
<text x="570.0" y="830" class="tb" text-anchor="middle">29</text>
<text x="635.0" y="830" class="tb" text-anchor="middle">22</text>
<text x="700.0" y="830" class="tb" text-anchor="middle">9</text>
<text x="746.7" y="830" class="tb" text-anchor="middle">4</text>
<text x="792.0" y="830" class="tb" text-anchor="middle">2</text>
<text x="838.0" y="830" class="tb" text-anchor="middle">1</text>
<text transform="translate(36,1079) rotate(-90)" class="tb2" text-anchor="middle">Binomial Deviance</text>
<text x="467.4" y="1417.2" class="tb2">Log</text>
<text x="517.3" y="1418" class="sf" font-size="38">(</text>
<text x="532.7" y="1419" class="sf" font-size="34" font-style="italic">λ</text>
<text x="549.6" y="1418" class="sf" font-size="38">)</text>
<text transform="translate(22,763) scale(0.96,1)" class="big">B</text>
</g>
</svg>
</body></html>
